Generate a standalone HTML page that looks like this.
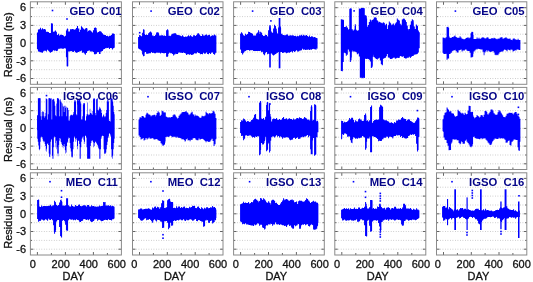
<!DOCTYPE html>
<html><head><meta charset="utf-8"><style>
html,body{margin:0;padding:0;background:#fff;}
svg{display:block;filter:blur(0.35px);}
.n{font-family:"Liberation Sans",sans-serif;font-size:11px;fill:#111;stroke:#111;stroke-width:0.3px;}
.t{font-family:"Liberation Sans",sans-serif;font-size:11.3px;font-weight:bold;fill:#050588;}
</style></head><body>
<svg width="533" height="282" viewBox="0 0 533 282">
<line x1="31.4" y1="78.5" x2="120.4" y2="78.5" stroke="#b4b4b4" stroke-width="0.8" stroke-dasharray="0.8 1.7"/>
<line x1="31.4" y1="69.7" x2="120.4" y2="69.7" stroke="#b4b4b4" stroke-width="0.8" stroke-dasharray="0.8 1.7"/>
<line x1="31.4" y1="60.8" x2="120.4" y2="60.8" stroke="#b4b4b4" stroke-width="0.8" stroke-dasharray="0.8 1.7"/>
<line x1="31.4" y1="52.0" x2="120.4" y2="52.0" stroke="#b4b4b4" stroke-width="0.8" stroke-dasharray="0.8 1.7"/>
<line x1="31.4" y1="43.1" x2="120.4" y2="43.1" stroke="#b4b4b4" stroke-width="0.8" stroke-dasharray="0.8 1.7"/>
<line x1="31.4" y1="34.2" x2="120.4" y2="34.2" stroke="#b4b4b4" stroke-width="0.8" stroke-dasharray="0.8 1.7"/>
<line x1="31.4" y1="25.4" x2="120.4" y2="25.4" stroke="#b4b4b4" stroke-width="0.8" stroke-dasharray="0.8 1.7"/>
<line x1="31.4" y1="16.6" x2="120.4" y2="16.6" stroke="#b4b4b4" stroke-width="0.8" stroke-dasharray="0.8 1.7"/>
<line x1="31.4" y1="7.7" x2="120.4" y2="7.7" stroke="#b4b4b4" stroke-width="0.8" stroke-dasharray="0.8 1.7"/>
<path d="M36.94,35.87 L36.94,32.39 L37.94,32.39 L37.94,29.50 L38.94,29.50 L38.94,29.17 L39.94,29.17 L39.94,27.68 L40.94,27.68 L40.94,29.79 L41.94,29.79 L41.94,28.31 L42.94,28.31 L42.94,29.23 L43.94,29.23 L43.94,29.06 L44.94,29.06 L44.94,29.47 L45.94,29.47 L45.94,31.70 L46.94,31.70 L46.94,31.82 L47.94,31.82 L47.94,32.06 L48.94,32.06 L48.94,32.93 L49.94,32.93 L49.94,32.91 L50.94,32.91 L50.94,23.21 L51.94,23.21 L51.94,23.40 L52.94,23.40 L52.94,31.65 L53.94,31.65 L53.94,31.61 L54.94,31.61 L54.94,30.54 L55.94,30.54 L55.94,32.42 L56.94,32.42 L56.94,35.37 L57.94,35.37 L57.94,33.81 L58.94,33.81 L58.94,35.70 L59.94,35.70 L59.94,34.83 L60.94,34.83 L60.94,34.77 L61.94,34.77 L61.94,34.92 L62.94,34.92 L62.94,35.50 L63.94,35.50 L63.94,36.71 L64.94,36.71 L64.94,35.64 L65.94,35.64 L65.94,30.49 L66.94,30.49 L66.94,28.53 L67.94,28.53 L67.94,31.49 L68.94,31.49 L68.94,31.59 L69.94,31.59 L69.94,29.34 L70.94,29.34 L70.94,29.37 L71.94,29.37 L71.94,29.01 L72.94,29.01 L72.94,29.24 L73.94,29.24 L73.94,29.99 L74.94,29.99 L74.94,29.29 L75.94,29.29 L75.94,28.05 L76.94,28.05 L76.94,26.10 L77.94,26.10 L77.94,28.44 L78.94,28.44 L78.94,31.89 L79.94,31.89 L79.94,29.84 L80.94,29.84 L80.94,26.17 L81.94,26.17 L81.94,27.71 L82.94,27.71 L82.94,28.94 L83.94,28.94 L83.94,29.41 L84.94,29.41 L84.94,28.45 L85.94,28.45 L85.94,27.88 L86.94,27.88 L86.94,31.76 L87.94,31.76 L87.94,30.87 L88.94,30.87 L88.94,30.27 L89.94,30.27 L89.94,31.48 L90.94,31.48 L90.94,31.55 L91.94,31.55 L91.94,32.53 L92.94,32.53 L92.94,30.20 L93.94,30.20 L93.94,28.10 L94.94,28.10 L94.94,27.61 L95.94,27.61 L95.94,30.52 L96.94,30.52 L96.94,33.54 L97.94,33.54 L97.94,32.12 L98.94,32.12 L98.94,31.36 L99.94,31.36 L99.94,31.16 L100.94,31.16 L100.94,32.39 L101.94,32.39 L101.94,33.26 L102.94,33.26 L102.94,34.65 L103.94,34.65 L103.94,35.33 L104.94,35.33 L104.94,35.09 L105.94,35.09 L105.94,36.23 L106.94,36.23 L106.94,35.78 L107.94,35.78 L107.94,36.44 L108.94,36.44 L108.94,35.71 L109.94,35.71 L109.94,35.80 L110.94,35.80 L110.94,34.90 L111.94,34.90 L111.94,33.52 L112.94,33.52 L112.94,33.52 L113.94,33.52 L113.94,34.08 L114.74,34.08 L114.74,33.74 L114.74,47.77 L114.74,47.23 L113.94,47.23 L113.94,48.35 L112.94,48.35 L112.94,49.53 L111.94,49.53 L111.94,47.95 L110.94,47.95 L110.94,47.92 L109.94,47.92 L109.94,49.00 L108.94,49.00 L108.94,47.67 L107.94,47.67 L107.94,47.94 L106.94,47.94 L106.94,47.68 L105.94,47.68 L105.94,47.94 L104.94,47.94 L104.94,49.04 L103.94,49.04 L103.94,49.30 L102.94,49.30 L102.94,51.01 L101.94,51.01 L101.94,51.61 L100.94,51.61 L100.94,51.72 L99.94,51.72 L99.94,54.06 L98.94,54.06 L98.94,51.88 L97.94,51.88 L97.94,52.18 L96.94,52.18 L96.94,53.02 L95.94,53.02 L95.94,54.30 L94.94,54.30 L94.94,54.19 L93.94,54.19 L93.94,51.94 L92.94,51.94 L92.94,51.62 L91.94,51.62 L91.94,50.80 L90.94,50.80 L90.94,51.40 L89.94,51.40 L89.94,50.59 L88.94,50.59 L88.94,50.22 L87.94,50.22 L87.94,51.20 L86.94,51.20 L86.94,52.09 L85.94,52.09 L85.94,53.95 L84.94,53.95 L84.94,53.43 L83.94,53.43 L83.94,52.43 L82.94,52.43 L82.94,52.66 L81.94,52.66 L81.94,50.40 L80.94,50.40 L80.94,51.18 L79.94,51.18 L79.94,51.43 L78.94,51.43 L78.94,52.04 L77.94,52.04 L77.94,52.41 L76.94,52.41 L76.94,52.72 L75.94,52.72 L75.94,52.29 L74.94,52.29 L74.94,50.28 L73.94,50.28 L73.94,51.93 L72.94,51.93 L72.94,51.64 L71.94,51.64 L71.94,51.05 L70.94,51.05 L70.94,51.15 L69.94,51.15 L69.94,51.53 L68.94,51.53 L68.94,51.38 L67.94,51.38 L67.94,66.60 L66.94,66.60 L66.94,57.30 L65.94,57.30 L65.94,48.48 L64.94,48.48 L64.94,48.27 L63.94,48.27 L63.94,48.63 L62.94,48.63 L62.94,48.67 L61.94,48.67 L61.94,48.38 L60.94,48.38 L60.94,48.38 L59.94,48.38 L59.94,48.47 L58.94,48.47 L58.94,48.72 L57.94,48.72 L57.94,50.73 L56.94,50.73 L56.94,51.07 L55.94,51.07 L55.94,50.61 L54.94,50.61 L54.94,50.64 L53.94,50.64 L53.94,50.14 L52.94,50.14 L52.94,51.62 L51.94,51.62 L51.94,52.03 L50.94,52.03 L50.94,52.86 L49.94,52.86 L49.94,51.66 L48.94,51.66 L48.94,50.86 L47.94,50.86 L47.94,49.82 L46.94,49.82 L46.94,51.47 L45.94,51.47 L45.94,50.81 L44.94,50.81 L44.94,50.73 L43.94,50.73 L43.94,50.84 L42.94,50.84 L42.94,52.76 L41.94,52.76 L41.94,52.34 L40.94,52.34 L40.94,52.29 L39.94,52.29 L39.94,51.85 L38.94,51.85 L38.94,51.53 L37.94,51.53 L37.94,49.02 L36.94,49.02 L36.94,48.10Z M36.94,36.57 L37.59,36.57 L37.59,32.49 L38.89,32.49 L38.89,30.04 L40.20,30.04 L40.20,28.90 L41.34,28.90 L41.34,30.53 L42.48,30.53 L42.48,29.22 L43.46,29.22 L43.46,30.86 L44.60,30.86 L44.60,29.55 L45.74,29.55 L45.74,31.67 L47.05,31.67 L47.05,33.30 L49.50,33.30 L49.50,33.79 L50.96,33.79 L50.96,32.49 L51.29,32.49 L51.29,24.66 L52.60,24.66 L52.60,24.66 L52.92,24.66 L52.92,31.67 L53.90,31.67 L53.90,32.49 L54.88,32.49 L54.88,30.53 L56.02,30.53 L56.02,31.67 L56.84,31.67 L56.84,34.93 L58.47,34.93 L58.47,35.42 L60.91,35.42 L60.91,36.08 L63.36,36.08 L63.36,36.57 L65.81,36.57 L65.81,37.05 L66.62,37.05 L66.62,29.22 L67.60,29.22 L67.60,28.90 L68.26,28.90 L68.26,32.49 L69.56,32.49 L69.56,32.16 L70.70,32.16 L70.70,30.53 L71.84,30.53 L71.84,31.18 L73.15,31.18 L73.15,29.22 L74.45,29.22 L74.45,30.86 L76.09,30.86 L76.09,30.04 L77.06,30.04 L77.06,25.96 L78.04,25.96 L78.04,28.41 L79.35,28.41 L79.35,32.16 L80.49,32.16 L80.49,30.04 L81.30,30.04 L81.30,27.27 L82.61,27.27 L82.61,28.41 L83.75,28.41 L83.75,30.04 L84.89,30.04 L84.89,28.90 L86.20,28.90 L86.20,28.41 L87.50,28.41 L87.50,31.67 L88.65,31.67 L88.65,32.49 L89.79,32.49 L89.79,30.53 L91.09,30.53 L91.09,32.81 L92.40,32.81 L92.40,33.30 L93.54,33.30 L93.54,31.67 L94.68,31.67 L94.68,27.59 L95.99,27.59 L95.99,27.92 L96.64,27.92 L96.64,32.49 L97.94,32.49 L97.94,34.12 L99.25,34.12 L99.25,31.67 L100.55,31.67 L100.55,31.67 L101.70,31.67 L101.70,33.30 L102.84,33.30 L102.84,34.44 L104.14,34.44 L104.14,34.93 L105.77,34.93 L105.77,36.08 L107.40,36.08 L107.40,37.38 L108.71,37.38 L108.71,36.57 L110.01,36.57 L110.01,35.75 L111.48,35.75 L111.48,34.93 L113.11,34.93 L113.11,34.44 L114.74,34.44 L114.74,34.44 L114.74,47.07 L114.74,47.73 L113.11,47.73 L113.11,48.21 L111.48,48.21 L111.48,47.73 L109.85,47.73 L109.85,47.40 L108.22,47.40 L108.22,47.73 L106.59,47.73 L106.59,48.21 L104.96,48.21 L104.96,48.70 L103.33,48.70 L103.33,49.85 L101.70,49.85 L101.70,51.48 L100.55,51.48 L100.55,53.92 L99.57,53.92 L99.57,51.48 L98.43,51.48 L98.43,52.29 L96.80,52.29 L96.80,53.92 L95.99,53.92 L95.99,53.11 L95.17,53.11 L95.17,52.29 L93.54,52.29 L93.54,50.66 L91.91,50.66 L91.91,51.48 L90.28,51.48 L90.28,50.34 L88.65,50.34 L88.65,50.99 L87.01,50.99 L87.01,53.11 L85.87,53.11 L85.87,54.74 L84.89,54.74 L84.89,53.11 L84.24,53.11 L84.24,52.29 L82.94,52.29 L82.94,50.34 L81.30,50.34 L81.30,50.99 L79.67,50.99 L79.67,50.66 L78.04,50.66 L78.04,51.48 L76.41,51.48 L76.41,50.34 L74.78,50.34 L74.78,50.99 L73.15,50.99 L73.15,50.34 L71.52,50.34 L71.52,49.85 L69.56,49.85 L69.56,50.66 L68.26,50.66 L68.26,66.16 L67.93,66.16 L67.93,66.16 L66.62,66.16 L66.62,49.85 L66.30,49.85 L66.30,48.21 L64.99,48.21 L64.99,47.73 L63.36,47.73 L63.36,48.21 L61.73,48.21 L61.73,48.21 L60.10,48.21 L60.10,48.70 L58.47,48.70 L58.47,49.36 L56.84,49.36 L56.84,50.34 L55.21,50.34 L55.21,49.85 L53.57,49.85 L53.57,50.34 L51.94,50.34 L51.94,51.48 L50.31,51.48 L50.31,50.34 L48.68,50.34 L48.68,49.85 L47.05,49.85 L47.05,50.34 L45.42,50.34 L45.42,50.66 L43.79,50.66 L43.79,51.48 L42.48,51.48 L42.48,52.62 L41.34,52.62 L41.34,52.29 L40.20,52.29 L40.20,51.48 L38.89,51.48 L38.89,49.85 L37.59,49.85 L37.59,47.40 L36.94,47.40Z" fill="#0000ff" fill-rule="nonzero"/><rect x="51.70" y="9.70" width="1.60" height="1.60" fill="#0000ff"/><rect x="66.20" y="18.20" width="1.60" height="1.60" fill="#0000ff"/>
<line x1="30.4" y1="78.5" x2="33.4" y2="78.5" stroke="#555" stroke-width="0.9"/>
<line x1="118.4" y1="78.5" x2="121.4" y2="78.5" stroke="#555" stroke-width="0.9"/>
<line x1="30.4" y1="69.7" x2="32.0" y2="69.7" stroke="#555" stroke-width="0.9"/>
<line x1="119.80000000000001" y1="69.7" x2="121.4" y2="69.7" stroke="#555" stroke-width="0.9"/>
<line x1="30.4" y1="60.8" x2="33.4" y2="60.8" stroke="#555" stroke-width="0.9"/>
<line x1="118.4" y1="60.8" x2="121.4" y2="60.8" stroke="#555" stroke-width="0.9"/>
<line x1="30.4" y1="52.0" x2="32.0" y2="52.0" stroke="#555" stroke-width="0.9"/>
<line x1="119.80000000000001" y1="52.0" x2="121.4" y2="52.0" stroke="#555" stroke-width="0.9"/>
<line x1="30.4" y1="43.1" x2="33.4" y2="43.1" stroke="#555" stroke-width="0.9"/>
<line x1="118.4" y1="43.1" x2="121.4" y2="43.1" stroke="#555" stroke-width="0.9"/>
<line x1="30.4" y1="34.2" x2="32.0" y2="34.2" stroke="#555" stroke-width="0.9"/>
<line x1="119.80000000000001" y1="34.2" x2="121.4" y2="34.2" stroke="#555" stroke-width="0.9"/>
<line x1="30.4" y1="25.4" x2="33.4" y2="25.4" stroke="#555" stroke-width="0.9"/>
<line x1="118.4" y1="25.4" x2="121.4" y2="25.4" stroke="#555" stroke-width="0.9"/>
<line x1="30.4" y1="16.6" x2="32.0" y2="16.6" stroke="#555" stroke-width="0.9"/>
<line x1="119.80000000000001" y1="16.6" x2="121.4" y2="16.6" stroke="#555" stroke-width="0.9"/>
<line x1="30.4" y1="7.7" x2="33.4" y2="7.7" stroke="#555" stroke-width="0.9"/>
<line x1="118.4" y1="7.7" x2="121.4" y2="7.7" stroke="#555" stroke-width="0.9"/>
<line x1="37.4" y1="84.3" x2="37.4" y2="81.3" stroke="#555" stroke-width="0.9"/>
<line x1="37.4" y1="1.8" x2="37.4" y2="4.8" stroke="#555" stroke-width="0.9"/>
<line x1="51.4" y1="84.3" x2="51.4" y2="82.3" stroke="#555" stroke-width="0.9"/>
<line x1="51.4" y1="1.8" x2="51.4" y2="3.8" stroke="#555" stroke-width="0.9"/>
<line x1="65.4" y1="84.3" x2="65.4" y2="81.3" stroke="#555" stroke-width="0.9"/>
<line x1="65.4" y1="1.8" x2="65.4" y2="4.8" stroke="#555" stroke-width="0.9"/>
<line x1="79.4" y1="84.3" x2="79.4" y2="82.3" stroke="#555" stroke-width="0.9"/>
<line x1="79.4" y1="1.8" x2="79.4" y2="3.8" stroke="#555" stroke-width="0.9"/>
<line x1="93.4" y1="84.3" x2="93.4" y2="81.3" stroke="#555" stroke-width="0.9"/>
<line x1="93.4" y1="1.8" x2="93.4" y2="4.8" stroke="#555" stroke-width="0.9"/>
<line x1="107.4" y1="84.3" x2="107.4" y2="82.3" stroke="#555" stroke-width="0.9"/>
<line x1="107.4" y1="1.8" x2="107.4" y2="3.8" stroke="#555" stroke-width="0.9"/>
<rect x="30.4" y="1.8" width="91.0" height="82.5" fill="none" stroke="#8a8a8a" stroke-width="1"/>
<text x="69.4" y="14.7" class="t">GEO &#160;C01</text>
<line x1="133.5" y1="78.5" x2="222.0" y2="78.5" stroke="#b4b4b4" stroke-width="0.8" stroke-dasharray="0.8 1.7"/>
<line x1="133.5" y1="69.7" x2="222.0" y2="69.7" stroke="#b4b4b4" stroke-width="0.8" stroke-dasharray="0.8 1.7"/>
<line x1="133.5" y1="60.8" x2="222.0" y2="60.8" stroke="#b4b4b4" stroke-width="0.8" stroke-dasharray="0.8 1.7"/>
<line x1="133.5" y1="52.0" x2="222.0" y2="52.0" stroke="#b4b4b4" stroke-width="0.8" stroke-dasharray="0.8 1.7"/>
<line x1="133.5" y1="43.1" x2="222.0" y2="43.1" stroke="#b4b4b4" stroke-width="0.8" stroke-dasharray="0.8 1.7"/>
<line x1="133.5" y1="34.2" x2="222.0" y2="34.2" stroke="#b4b4b4" stroke-width="0.8" stroke-dasharray="0.8 1.7"/>
<line x1="133.5" y1="25.4" x2="222.0" y2="25.4" stroke="#b4b4b4" stroke-width="0.8" stroke-dasharray="0.8 1.7"/>
<line x1="133.5" y1="16.6" x2="222.0" y2="16.6" stroke="#b4b4b4" stroke-width="0.8" stroke-dasharray="0.8 1.7"/>
<line x1="133.5" y1="7.7" x2="222.0" y2="7.7" stroke="#b4b4b4" stroke-width="0.8" stroke-dasharray="0.8 1.7"/>
<path d="M138.08,37.94 L138.08,37.03 L139.08,37.03 L139.08,35.02 L140.08,35.02 L140.08,35.55 L141.08,35.55 L141.08,36.45 L142.08,36.45 L142.08,32.85 L143.08,32.85 L143.08,29.36 L144.08,29.36 L144.08,33.91 L145.08,33.91 L145.08,34.90 L146.08,34.90 L146.08,34.59 L147.08,34.59 L147.08,35.10 L148.08,35.10 L148.08,33.28 L149.08,33.28 L149.08,32.30 L150.08,32.30 L150.08,31.40 L151.08,31.40 L151.08,32.81 L152.08,32.81 L152.08,35.62 L153.08,35.62 L153.08,36.47 L154.08,36.47 L154.08,35.90 L155.08,35.90 L155.08,34.69 L156.08,34.69 L156.08,32.38 L157.08,32.38 L157.08,32.22 L158.08,32.22 L158.08,33.38 L159.08,33.38 L159.08,35.40 L160.08,35.40 L160.08,35.54 L161.08,35.54 L161.08,35.13 L162.08,35.13 L162.08,35.26 L163.08,35.26 L163.08,35.80 L164.08,35.80 L164.08,35.42 L165.08,35.42 L165.08,35.96 L166.08,35.96 L166.08,30.37 L167.08,30.37 L167.08,29.36 L168.08,29.36 L168.08,35.85 L169.08,35.85 L169.08,36.21 L170.08,36.21 L170.08,36.38 L171.08,36.38 L171.08,34.61 L172.08,34.61 L172.08,33.72 L173.08,33.72 L173.08,33.43 L174.08,33.43 L174.08,33.26 L175.08,33.26 L175.08,33.27 L176.08,33.27 L176.08,34.41 L177.08,34.41 L177.08,35.30 L178.08,35.30 L178.08,35.58 L179.08,35.58 L179.08,35.18 L180.08,35.18 L180.08,35.83 L181.08,35.83 L181.08,36.42 L182.08,36.42 L182.08,35.25 L183.08,35.25 L183.08,36.60 L184.08,36.60 L184.08,36.97 L185.08,36.97 L185.08,36.59 L186.08,36.59 L186.08,36.73 L187.08,36.73 L187.08,36.16 L188.08,36.16 L188.08,35.36 L189.08,35.36 L189.08,36.28 L190.08,36.28 L190.08,35.25 L191.08,35.25 L191.08,36.49 L192.08,36.49 L192.08,36.73 L193.08,36.73 L193.08,35.29 L194.08,35.29 L194.08,35.30 L195.08,35.30 L195.08,36.10 L196.08,36.10 L196.08,34.96 L197.08,34.96 L197.08,33.46 L198.08,33.46 L198.08,33.32 L199.08,33.32 L199.08,34.41 L200.08,34.41 L200.08,36.22 L201.08,36.22 L201.08,35.90 L202.08,35.90 L202.08,34.29 L203.08,34.29 L203.08,35.45 L204.08,35.45 L204.08,35.55 L205.08,35.55 L205.08,34.71 L206.08,34.71 L206.08,34.62 L207.08,34.62 L207.08,35.65 L208.08,35.65 L208.08,35.11 L209.08,35.11 L209.08,34.85 L210.08,34.85 L210.08,36.46 L211.08,36.46 L211.08,35.80 L212.08,35.80 L212.08,35.35 L213.08,35.35 L213.08,35.47 L214.08,35.47 L214.08,34.38 L215.08,34.38 L215.08,36.16 L216.08,36.16 L216.08,37.46 L216.38,37.46 L216.38,37.13 L216.38,48.55 L216.38,49.30 L216.08,49.30 L216.08,52.66 L215.08,52.66 L215.08,54.75 L214.08,54.75 L214.08,54.07 L213.08,54.07 L213.08,52.60 L212.08,52.60 L212.08,52.42 L211.08,52.42 L211.08,53.98 L210.08,53.98 L210.08,52.88 L209.08,52.88 L209.08,54.37 L208.08,54.37 L208.08,53.88 L207.08,53.88 L207.08,51.92 L206.08,51.92 L206.08,53.45 L205.08,53.45 L205.08,53.87 L204.08,53.87 L204.08,52.75 L203.08,52.75 L203.08,54.23 L202.08,54.23 L202.08,54.07 L201.08,54.07 L201.08,54.34 L200.08,54.34 L200.08,53.16 L199.08,53.16 L199.08,52.99 L198.08,52.99 L198.08,52.16 L197.08,52.16 L197.08,52.73 L196.08,52.73 L196.08,53.09 L195.08,53.09 L195.08,53.23 L194.08,53.23 L194.08,54.14 L193.08,54.14 L193.08,54.81 L192.08,54.81 L192.08,54.90 L191.08,54.90 L191.08,54.26 L190.08,54.26 L190.08,54.79 L189.08,54.79 L189.08,54.23 L188.08,54.23 L188.08,54.37 L187.08,54.37 L187.08,54.92 L186.08,54.92 L186.08,53.49 L185.08,53.49 L185.08,53.10 L184.08,53.10 L184.08,52.53 L183.08,52.53 L183.08,53.01 L182.08,53.01 L182.08,52.65 L181.08,52.65 L181.08,52.64 L180.08,52.64 L180.08,52.39 L179.08,52.39 L179.08,51.98 L178.08,51.98 L178.08,53.91 L177.08,53.91 L177.08,53.96 L176.08,53.96 L176.08,53.58 L175.08,53.58 L175.08,54.47 L174.08,54.47 L174.08,55.42 L173.08,55.42 L173.08,53.93 L172.08,53.93 L172.08,53.25 L171.08,53.25 L171.08,53.21 L170.08,53.21 L170.08,51.99 L169.08,51.99 L169.08,53.85 L168.08,53.85 L168.08,56.81 L167.08,56.81 L167.08,56.74 L166.08,56.74 L166.08,53.01 L165.08,53.01 L165.08,53.14 L164.08,53.14 L164.08,53.15 L163.08,53.15 L163.08,52.96 L162.08,52.96 L162.08,52.71 L161.08,52.71 L161.08,53.46 L160.08,53.46 L160.08,51.89 L159.08,51.89 L159.08,52.75 L158.08,52.75 L158.08,52.87 L157.08,52.87 L157.08,51.79 L156.08,51.79 L156.08,53.30 L155.08,53.30 L155.08,53.19 L154.08,53.19 L154.08,52.63 L153.08,52.63 L153.08,52.96 L152.08,52.96 L152.08,51.83 L151.08,51.83 L151.08,53.30 L150.08,53.30 L150.08,53.16 L149.08,53.16 L149.08,53.46 L148.08,53.46 L148.08,53.68 L147.08,53.68 L147.08,53.79 L146.08,53.79 L146.08,51.89 L145.08,51.89 L145.08,52.59 L144.08,52.59 L144.08,56.22 L143.08,56.22 L143.08,54.51 L142.08,54.51 L142.08,50.71 L141.08,50.71 L141.08,49.82 L140.08,49.82 L140.08,49.21 L139.08,49.21 L139.08,48.47 L138.08,48.47 L138.08,48.55Z M138.08,38.64 L138.89,38.64 L138.89,37.01 L140.52,37.01 L140.52,36.20 L142.16,36.20 L142.16,36.20 L142.97,36.20 L142.97,29.67 L144.11,29.67 L144.11,29.67 L144.60,29.67 L144.60,35.38 L146.23,35.38 L146.23,36.20 L147.87,36.20 L147.87,35.05 L149.50,35.05 L149.50,32.44 L151.13,32.44 L151.13,32.44 L151.94,32.44 L151.94,35.38 L153.57,35.38 L153.57,36.20 L155.21,36.20 L155.21,35.71 L156.51,35.71 L156.51,32.44 L158.14,32.44 L158.14,32.44 L158.79,32.44 L158.79,35.71 L160.91,35.71 L160.91,36.69 L163.36,36.69 L163.36,37.01 L165.81,37.01 L165.81,36.20 L166.30,36.20 L166.30,30.16 L167.93,30.16 L167.93,30.16 L168.58,30.16 L168.58,35.71 L170.70,35.71 L170.70,36.20 L172.33,36.20 L172.33,35.05 L173.96,35.05 L173.96,34.57 L175.60,34.57 L175.60,34.57 L177.23,34.57 L177.23,35.05 L178.86,35.05 L178.86,35.71 L180.49,35.71 L180.49,36.20 L182.12,36.20 L182.12,36.69 L183.75,36.69 L183.75,37.01 L185.38,37.01 L185.38,36.69 L187.01,36.69 L187.01,37.01 L188.65,37.01 L188.65,36.69 L190.28,36.69 L190.28,36.20 L191.91,36.20 L191.91,36.69 L193.54,36.69 L193.54,36.20 L195.17,36.20 L195.17,36.20 L196.80,36.20 L196.80,35.05 L198.43,35.05 L198.43,34.57 L199.25,34.57 L199.25,35.71 L200.88,35.71 L200.88,36.20 L202.51,36.20 L202.51,35.71 L204.14,35.71 L204.14,35.38 L205.77,35.38 L205.77,35.05 L207.40,35.05 L207.40,36.20 L209.04,36.20 L209.04,36.69 L210.67,36.69 L210.67,36.20 L212.30,36.20 L212.30,36.20 L213.93,36.20 L213.93,35.05 L215.23,35.05 L215.23,35.38 L216.38,35.38 L216.38,37.83 L216.38,47.85 L216.38,52.74 L215.56,52.74 L215.56,53.56 L214.74,53.56 L214.74,51.92 L213.11,51.92 L213.11,51.92 L211.48,51.92 L211.48,52.74 L209.85,52.74 L209.85,52.74 L208.22,52.74 L208.22,51.92 L206.59,51.92 L206.59,52.74 L204.96,52.74 L204.96,52.74 L203.33,52.74 L203.33,52.74 L201.70,52.74 L201.70,53.56 L200.06,53.56 L200.06,52.74 L198.43,52.74 L198.43,51.92 L196.80,51.92 L196.80,53.56 L195.17,53.56 L195.17,52.74 L193.54,52.74 L193.54,53.56 L191.91,53.56 L191.91,54.86 L191.09,54.86 L191.09,53.56 L190.28,53.56 L190.28,52.74 L188.65,52.74 L188.65,53.56 L187.01,53.56 L187.01,52.74 L185.38,52.74 L185.38,51.92 L183.75,51.92 L183.75,51.92 L182.12,51.92 L182.12,51.92 L180.49,51.92 L180.49,51.11 L178.86,51.11 L178.86,52.74 L177.23,52.74 L177.23,52.74 L175.60,52.74 L175.60,54.37 L173.96,54.37 L173.96,53.56 L172.33,53.56 L172.33,51.92 L169.89,51.92 L169.89,52.74 L168.26,52.74 L168.26,56.00 L167.60,56.00 L167.60,56.00 L166.30,56.00 L166.30,52.74 L165.81,52.74 L165.81,51.92 L163.36,51.92 L163.36,52.74 L161.73,52.74 L161.73,51.92 L160.10,51.92 L160.10,52.74 L158.47,52.74 L158.47,51.92 L156.84,51.92 L156.84,52.74 L155.21,52.74 L155.21,51.92 L153.57,51.92 L153.57,51.11 L151.94,51.11 L151.94,51.92 L150.31,51.92 L150.31,52.74 L148.68,52.74 L148.68,53.56 L147.87,53.56 L147.87,51.92 L146.23,51.92 L146.23,51.92 L144.60,51.92 L144.60,56.00 L143.79,56.00 L143.79,56.00 L142.97,56.00 L142.97,51.11 L142.16,51.11 L142.16,49.48 L140.52,49.48 L140.52,48.66 L138.89,48.66 L138.89,47.85 L138.08,47.85Z" fill="#0000ff" fill-rule="nonzero"/><rect x="138.90" y="31.90" width="1.60" height="1.60" fill="#0000ff"/><rect x="150.30" y="10.30" width="1.60" height="1.60" fill="#0000ff"/>
<line x1="132.5" y1="78.5" x2="135.5" y2="78.5" stroke="#555" stroke-width="0.9"/>
<line x1="220.0" y1="78.5" x2="223.0" y2="78.5" stroke="#555" stroke-width="0.9"/>
<line x1="132.5" y1="69.7" x2="134.1" y2="69.7" stroke="#555" stroke-width="0.9"/>
<line x1="221.4" y1="69.7" x2="223.0" y2="69.7" stroke="#555" stroke-width="0.9"/>
<line x1="132.5" y1="60.8" x2="135.5" y2="60.8" stroke="#555" stroke-width="0.9"/>
<line x1="220.0" y1="60.8" x2="223.0" y2="60.8" stroke="#555" stroke-width="0.9"/>
<line x1="132.5" y1="52.0" x2="134.1" y2="52.0" stroke="#555" stroke-width="0.9"/>
<line x1="221.4" y1="52.0" x2="223.0" y2="52.0" stroke="#555" stroke-width="0.9"/>
<line x1="132.5" y1="43.1" x2="135.5" y2="43.1" stroke="#555" stroke-width="0.9"/>
<line x1="220.0" y1="43.1" x2="223.0" y2="43.1" stroke="#555" stroke-width="0.9"/>
<line x1="132.5" y1="34.2" x2="134.1" y2="34.2" stroke="#555" stroke-width="0.9"/>
<line x1="221.4" y1="34.2" x2="223.0" y2="34.2" stroke="#555" stroke-width="0.9"/>
<line x1="132.5" y1="25.4" x2="135.5" y2="25.4" stroke="#555" stroke-width="0.9"/>
<line x1="220.0" y1="25.4" x2="223.0" y2="25.4" stroke="#555" stroke-width="0.9"/>
<line x1="132.5" y1="16.6" x2="134.1" y2="16.6" stroke="#555" stroke-width="0.9"/>
<line x1="221.4" y1="16.6" x2="223.0" y2="16.6" stroke="#555" stroke-width="0.9"/>
<line x1="132.5" y1="7.7" x2="135.5" y2="7.7" stroke="#555" stroke-width="0.9"/>
<line x1="220.0" y1="7.7" x2="223.0" y2="7.7" stroke="#555" stroke-width="0.9"/>
<line x1="139.5" y1="84.3" x2="139.5" y2="81.3" stroke="#555" stroke-width="0.9"/>
<line x1="139.5" y1="1.8" x2="139.5" y2="4.8" stroke="#555" stroke-width="0.9"/>
<line x1="153.4" y1="84.3" x2="153.4" y2="82.3" stroke="#555" stroke-width="0.9"/>
<line x1="153.4" y1="1.8" x2="153.4" y2="3.8" stroke="#555" stroke-width="0.9"/>
<line x1="167.3" y1="84.3" x2="167.3" y2="81.3" stroke="#555" stroke-width="0.9"/>
<line x1="167.3" y1="1.8" x2="167.3" y2="4.8" stroke="#555" stroke-width="0.9"/>
<line x1="181.2" y1="84.3" x2="181.2" y2="82.3" stroke="#555" stroke-width="0.9"/>
<line x1="181.2" y1="1.8" x2="181.2" y2="3.8" stroke="#555" stroke-width="0.9"/>
<line x1="195.2" y1="84.3" x2="195.2" y2="81.3" stroke="#555" stroke-width="0.9"/>
<line x1="195.2" y1="1.8" x2="195.2" y2="4.8" stroke="#555" stroke-width="0.9"/>
<line x1="209.1" y1="84.3" x2="209.1" y2="82.3" stroke="#555" stroke-width="0.9"/>
<line x1="209.1" y1="1.8" x2="209.1" y2="3.8" stroke="#555" stroke-width="0.9"/>
<rect x="132.5" y="1.8" width="90.5" height="82.5" fill="none" stroke="#8a8a8a" stroke-width="1"/>
<text x="167.8" y="14.7" class="t">GEO &#160;C02</text>
<line x1="234.6" y1="78.5" x2="323.3" y2="78.5" stroke="#b4b4b4" stroke-width="0.8" stroke-dasharray="0.8 1.7"/>
<line x1="234.6" y1="69.7" x2="323.3" y2="69.7" stroke="#b4b4b4" stroke-width="0.8" stroke-dasharray="0.8 1.7"/>
<line x1="234.6" y1="60.8" x2="323.3" y2="60.8" stroke="#b4b4b4" stroke-width="0.8" stroke-dasharray="0.8 1.7"/>
<line x1="234.6" y1="52.0" x2="323.3" y2="52.0" stroke="#b4b4b4" stroke-width="0.8" stroke-dasharray="0.8 1.7"/>
<line x1="234.6" y1="43.1" x2="323.3" y2="43.1" stroke="#b4b4b4" stroke-width="0.8" stroke-dasharray="0.8 1.7"/>
<line x1="234.6" y1="34.2" x2="323.3" y2="34.2" stroke="#b4b4b4" stroke-width="0.8" stroke-dasharray="0.8 1.7"/>
<line x1="234.6" y1="25.4" x2="323.3" y2="25.4" stroke="#b4b4b4" stroke-width="0.8" stroke-dasharray="0.8 1.7"/>
<line x1="234.6" y1="16.6" x2="323.3" y2="16.6" stroke="#b4b4b4" stroke-width="0.8" stroke-dasharray="0.8 1.7"/>
<line x1="234.6" y1="7.7" x2="323.3" y2="7.7" stroke="#b4b4b4" stroke-width="0.8" stroke-dasharray="0.8 1.7"/>
<path d="M240.08,36.31 L240.08,33.84 L241.08,33.84 L241.08,32.17 L242.08,32.17 L242.08,33.73 L243.08,33.73 L243.08,35.13 L244.08,35.13 L244.08,35.73 L245.08,35.73 L245.08,33.82 L246.08,33.82 L246.08,34.63 L247.08,34.63 L247.08,33.92 L248.08,33.92 L248.08,31.66 L249.08,31.66 L249.08,31.98 L250.08,31.98 L250.08,32.84 L251.08,32.84 L251.08,33.24 L252.08,33.24 L252.08,33.86 L253.08,33.86 L253.08,35.90 L254.08,35.90 L254.08,35.46 L255.08,35.46 L255.08,35.62 L256.08,35.62 L256.08,33.39 L257.08,33.39 L257.08,32.61 L258.08,32.61 L258.08,30.17 L259.08,30.17 L259.08,34.00 L260.08,34.00 L260.08,31.71 L261.08,31.71 L261.08,32.77 L262.08,32.77 L262.08,35.10 L263.08,35.10 L263.08,36.12 L264.08,36.12 L264.08,35.65 L265.08,35.65 L265.08,34.83 L266.08,34.83 L266.08,34.92 L267.08,34.92 L267.08,36.76 L268.08,36.76 L268.08,30.28 L269.08,30.28 L269.08,27.25 L270.08,27.25 L270.08,28.50 L271.08,28.50 L271.08,32.15 L272.08,32.15 L272.08,32.70 L273.08,32.70 L273.08,28.52 L274.08,28.52 L274.08,24.65 L275.08,24.65 L275.08,27.64 L276.08,27.64 L276.08,31.49 L277.08,31.49 L277.08,33.95 L278.08,33.95 L278.08,27.57 L279.08,27.57 L279.08,26.42 L280.08,26.42 L280.08,27.98 L281.08,27.98 L281.08,34.64 L282.08,34.64 L282.08,34.94 L283.08,34.94 L283.08,35.01 L284.08,35.01 L284.08,35.33 L285.08,35.33 L285.08,35.35 L286.08,35.35 L286.08,34.55 L287.08,34.55 L287.08,34.57 L288.08,34.57 L288.08,35.66 L289.08,35.66 L289.08,35.39 L290.08,35.39 L290.08,35.35 L291.08,35.35 L291.08,35.61 L292.08,35.61 L292.08,35.19 L293.08,35.19 L293.08,35.49 L294.08,35.49 L294.08,35.91 L295.08,35.91 L295.08,35.75 L296.08,35.75 L296.08,36.55 L297.08,36.55 L297.08,35.81 L298.08,35.81 L298.08,36.19 L299.08,36.19 L299.08,35.35 L300.08,35.35 L300.08,35.39 L301.08,35.39 L301.08,34.70 L302.08,34.70 L302.08,35.66 L303.08,35.66 L303.08,34.78 L304.08,34.78 L304.08,35.49 L305.08,35.49 L305.08,35.43 L306.08,35.43 L306.08,35.01 L307.08,35.01 L307.08,35.88 L308.08,35.88 L308.08,37.02 L309.08,37.02 L309.08,35.52 L310.08,35.52 L310.08,36.95 L311.08,36.95 L311.08,36.28 L312.08,36.28 L312.08,36.61 L313.08,36.61 L313.08,37.58 L314.08,37.58 L314.08,37.00 L315.08,37.00 L315.08,37.53 L316.08,37.53 L316.08,38.12 L317.08,38.12 L317.08,38.86 L317.56,38.86 L317.56,37.94 L317.56,47.73 L317.56,48.64 L317.08,48.64 L317.08,47.92 L316.08,47.92 L316.08,49.43 L315.08,49.43 L315.08,49.28 L314.08,49.28 L314.08,48.78 L313.08,48.78 L313.08,48.97 L312.08,48.97 L312.08,49.69 L311.08,49.69 L311.08,49.47 L310.08,49.47 L310.08,49.95 L309.08,49.95 L309.08,49.53 L308.08,49.53 L308.08,49.81 L307.08,49.81 L307.08,49.72 L306.08,49.72 L306.08,49.98 L305.08,49.98 L305.08,49.52 L304.08,49.52 L304.08,49.71 L303.08,49.71 L303.08,48.74 L302.08,48.74 L302.08,50.23 L301.08,50.23 L301.08,50.57 L300.08,50.57 L300.08,50.69 L299.08,50.69 L299.08,51.50 L298.08,51.50 L298.08,51.58 L297.08,51.58 L297.08,50.08 L296.08,50.08 L296.08,51.28 L295.08,51.28 L295.08,51.92 L294.08,51.92 L294.08,51.01 L293.08,51.01 L293.08,52.38 L292.08,52.38 L292.08,51.39 L291.08,51.39 L291.08,52.06 L290.08,52.06 L290.08,52.74 L289.08,52.74 L289.08,52.46 L288.08,52.46 L288.08,52.84 L287.08,52.84 L287.08,53.13 L286.08,53.13 L286.08,52.60 L285.08,52.60 L285.08,52.21 L284.08,52.21 L284.08,51.82 L283.08,51.82 L283.08,52.96 L282.08,52.96 L282.08,52.03 L281.08,52.03 L281.08,51.71 L280.08,51.71 L280.08,52.42 L279.08,52.42 L279.08,51.80 L278.08,51.80 L278.08,52.47 L277.08,52.47 L277.08,52.55 L276.08,52.55 L276.08,54.05 L275.08,54.05 L275.08,54.11 L274.08,54.11 L274.08,55.52 L273.08,55.52 L273.08,54.77 L272.08,54.77 L272.08,53.51 L271.08,53.51 L271.08,53.26 L270.08,53.26 L270.08,53.97 L269.08,53.97 L269.08,53.83 L268.08,53.83 L268.08,54.14 L267.08,54.14 L267.08,52.11 L266.08,52.11 L266.08,52.72 L265.08,52.72 L265.08,55.14 L264.08,55.14 L264.08,54.21 L263.08,54.21 L263.08,51.81 L262.08,51.81 L262.08,52.22 L261.08,52.22 L261.08,50.81 L260.08,50.81 L260.08,51.06 L259.08,51.06 L259.08,50.71 L258.08,50.71 L258.08,51.11 L257.08,51.11 L257.08,50.93 L256.08,50.93 L256.08,51.01 L255.08,51.01 L255.08,51.11 L254.08,51.11 L254.08,51.04 L253.08,51.04 L253.08,50.03 L252.08,50.03 L252.08,50.17 L251.08,50.17 L251.08,50.15 L250.08,50.15 L250.08,50.82 L249.08,50.82 L249.08,49.46 L248.08,49.46 L248.08,49.88 L247.08,49.88 L247.08,49.94 L246.08,49.94 L246.08,50.79 L245.08,50.79 L245.08,51.41 L244.08,51.41 L244.08,52.66 L243.08,52.66 L243.08,54.56 L242.08,54.56 L242.08,53.03 L241.08,53.03 L241.08,49.42 L240.08,49.42 L240.08,47.73Z M240.08,37.01 L240.89,37.01 L240.89,32.93 L242.20,32.93 L242.20,33.42 L242.85,33.42 L242.85,36.20 L244.16,36.20 L244.16,36.20 L245.79,36.20 L245.79,35.38 L247.42,35.38 L247.42,35.05 L248.23,35.05 L248.23,33.42 L249.87,33.42 L249.87,32.93 L251.50,32.93 L251.50,33.75 L252.31,33.75 L252.31,35.38 L253.94,35.38 L253.94,35.71 L255.57,35.71 L255.57,35.38 L257.21,35.38 L257.21,34.57 L258.51,34.57 L258.51,31.79 L259.16,31.79 L259.16,31.79 L259.65,31.79 L259.65,34.57 L260.47,34.57 L260.47,32.93 L261.28,32.93 L261.28,32.44 L261.77,32.44 L261.77,35.38 L262.91,35.38 L262.91,36.20 L264.55,36.20 L264.55,35.71 L266.18,35.71 L266.18,36.20 L267.81,36.20 L267.81,36.69 L268.62,36.69 L268.62,30.49 L269.44,30.49 L269.44,27.55 L270.26,27.55 L270.26,27.55 L270.74,27.55 L270.74,31.30 L271.56,31.30 L271.56,33.75 L272.70,33.75 L272.70,32.93 L273.52,32.93 L273.52,29.67 L274.17,29.67 L274.17,26.41 L275.15,26.41 L275.15,25.92 L275.96,25.92 L275.96,28.86 L276.78,28.86 L276.78,32.93 L277.60,32.93 L277.60,34.08 L278.41,34.08 L278.41,30.49 L278.90,30.49 L278.90,26.41 L280.37,26.41 L280.37,26.41 L280.86,26.41 L280.86,33.75 L282.49,33.75 L282.49,35.71 L284.12,35.71 L284.12,36.20 L284.94,36.20 L284.94,35.71 L285.75,35.71 L285.75,35.05 L286.57,35.05 L286.57,35.71 L288.20,35.71 L288.20,36.20 L289.83,36.20 L289.83,36.69 L291.46,36.69 L291.46,37.01 L293.09,37.01 L293.09,36.69 L294.72,36.69 L294.72,37.01 L296.35,37.01 L296.35,36.69 L297.99,36.69 L297.99,37.01 L299.62,37.01 L299.62,36.69 L301.25,36.69 L301.25,36.20 L302.88,36.20 L302.88,37.01 L304.51,37.01 L304.51,35.71 L306.14,35.71 L306.14,36.20 L307.77,36.20 L307.77,36.69 L309.40,36.69 L309.40,37.01 L311.04,37.01 L311.04,37.01 L312.67,37.01 L312.67,37.34 L314.30,37.34 L314.30,37.83 L315.93,37.83 L315.93,38.32 L317.56,38.32 L317.56,38.64 L317.56,47.03 L317.56,47.85 L316.74,47.85 L316.74,49.48 L315.11,49.48 L315.11,48.99 L313.48,48.99 L313.48,48.66 L311.85,48.66 L311.85,48.34 L310.22,48.34 L310.22,48.66 L308.59,48.66 L308.59,48.34 L306.96,48.34 L306.96,48.66 L305.33,48.66 L305.33,48.99 L303.70,48.99 L303.70,48.66 L302.06,48.66 L302.06,49.48 L300.43,49.48 L300.43,49.97 L298.80,49.97 L298.80,50.29 L297.17,50.29 L297.17,50.29 L295.54,50.29 L295.54,51.11 L293.91,51.11 L293.91,50.62 L292.28,50.62 L292.28,51.60 L290.65,51.60 L290.65,51.11 L289.01,51.11 L289.01,51.92 L287.38,51.92 L287.38,51.92 L285.75,51.92 L285.75,51.11 L284.12,51.11 L284.12,52.74 L282.49,52.74 L282.49,51.92 L280.86,51.92 L280.86,51.92 L278.09,51.92 L278.09,52.74 L276.78,52.74 L276.78,53.56 L275.15,53.56 L275.15,54.86 L273.52,54.86 L273.52,54.37 L272.70,54.37 L272.70,52.74 L271.89,52.74 L271.89,53.56 L271.07,53.56 L271.07,53.56 L268.62,53.56 L268.62,51.92 L266.99,51.92 L266.99,51.92 L265.36,51.92 L265.36,53.56 L264.55,53.56 L264.55,52.74 L263.73,52.74 L263.73,51.11 L262.10,51.11 L262.10,51.92 L261.28,51.92 L261.28,50.62 L260.47,50.62 L260.47,50.29 L258.84,50.29 L258.84,51.11 L257.21,51.11 L257.21,49.97 L255.57,49.97 L255.57,49.48 L253.94,49.48 L253.94,50.29 L252.31,50.29 L252.31,49.97 L250.68,49.97 L250.68,49.48 L249.05,49.48 L249.05,49.97 L247.42,49.97 L247.42,50.29 L245.79,50.29 L245.79,51.11 L244.16,51.11 L244.16,51.92 L243.34,51.92 L243.34,53.56 L242.52,53.56 L242.52,51.92 L241.71,51.92 L241.71,50.29 L240.89,50.29 L240.89,47.03 L240.08,47.03Z" fill="#0000ff" fill-rule="nonzero"/><rect x="269.20" y="25.30" width="1.60" height="42.20" fill="#0000ff"/><rect x="278.70" y="18.00" width="1.70" height="50.30" fill="#0000ff"/><rect x="251.80" y="10.30" width="1.60" height="1.60" fill="#0000ff"/><rect x="270.10" y="20.10" width="1.60" height="1.60" fill="#0000ff"/>
<line x1="233.6" y1="78.5" x2="236.6" y2="78.5" stroke="#555" stroke-width="0.9"/>
<line x1="321.3" y1="78.5" x2="324.3" y2="78.5" stroke="#555" stroke-width="0.9"/>
<line x1="233.6" y1="69.7" x2="235.2" y2="69.7" stroke="#555" stroke-width="0.9"/>
<line x1="322.7" y1="69.7" x2="324.3" y2="69.7" stroke="#555" stroke-width="0.9"/>
<line x1="233.6" y1="60.8" x2="236.6" y2="60.8" stroke="#555" stroke-width="0.9"/>
<line x1="321.3" y1="60.8" x2="324.3" y2="60.8" stroke="#555" stroke-width="0.9"/>
<line x1="233.6" y1="52.0" x2="235.2" y2="52.0" stroke="#555" stroke-width="0.9"/>
<line x1="322.7" y1="52.0" x2="324.3" y2="52.0" stroke="#555" stroke-width="0.9"/>
<line x1="233.6" y1="43.1" x2="236.6" y2="43.1" stroke="#555" stroke-width="0.9"/>
<line x1="321.3" y1="43.1" x2="324.3" y2="43.1" stroke="#555" stroke-width="0.9"/>
<line x1="233.6" y1="34.2" x2="235.2" y2="34.2" stroke="#555" stroke-width="0.9"/>
<line x1="322.7" y1="34.2" x2="324.3" y2="34.2" stroke="#555" stroke-width="0.9"/>
<line x1="233.6" y1="25.4" x2="236.6" y2="25.4" stroke="#555" stroke-width="0.9"/>
<line x1="321.3" y1="25.4" x2="324.3" y2="25.4" stroke="#555" stroke-width="0.9"/>
<line x1="233.6" y1="16.6" x2="235.2" y2="16.6" stroke="#555" stroke-width="0.9"/>
<line x1="322.7" y1="16.6" x2="324.3" y2="16.6" stroke="#555" stroke-width="0.9"/>
<line x1="233.6" y1="7.7" x2="236.6" y2="7.7" stroke="#555" stroke-width="0.9"/>
<line x1="321.3" y1="7.7" x2="324.3" y2="7.7" stroke="#555" stroke-width="0.9"/>
<line x1="240.6" y1="84.3" x2="240.6" y2="81.3" stroke="#555" stroke-width="0.9"/>
<line x1="240.6" y1="1.8" x2="240.6" y2="4.8" stroke="#555" stroke-width="0.9"/>
<line x1="254.6" y1="84.3" x2="254.6" y2="82.3" stroke="#555" stroke-width="0.9"/>
<line x1="254.6" y1="1.8" x2="254.6" y2="3.8" stroke="#555" stroke-width="0.9"/>
<line x1="268.5" y1="84.3" x2="268.5" y2="81.3" stroke="#555" stroke-width="0.9"/>
<line x1="268.5" y1="1.8" x2="268.5" y2="4.8" stroke="#555" stroke-width="0.9"/>
<line x1="282.4" y1="84.3" x2="282.4" y2="82.3" stroke="#555" stroke-width="0.9"/>
<line x1="282.4" y1="1.8" x2="282.4" y2="3.8" stroke="#555" stroke-width="0.9"/>
<line x1="296.4" y1="84.3" x2="296.4" y2="81.3" stroke="#555" stroke-width="0.9"/>
<line x1="296.4" y1="1.8" x2="296.4" y2="4.8" stroke="#555" stroke-width="0.9"/>
<line x1="310.4" y1="84.3" x2="310.4" y2="82.3" stroke="#555" stroke-width="0.9"/>
<line x1="310.4" y1="1.8" x2="310.4" y2="3.8" stroke="#555" stroke-width="0.9"/>
<rect x="233.6" y="1.8" width="90.7" height="82.5" fill="none" stroke="#8a8a8a" stroke-width="1"/>
<text x="269.5" y="14.7" class="t">GEO &#160;C03</text>
<line x1="335.8" y1="78.5" x2="424.8" y2="78.5" stroke="#b4b4b4" stroke-width="0.8" stroke-dasharray="0.8 1.7"/>
<line x1="335.8" y1="69.7" x2="424.8" y2="69.7" stroke="#b4b4b4" stroke-width="0.8" stroke-dasharray="0.8 1.7"/>
<line x1="335.8" y1="60.8" x2="424.8" y2="60.8" stroke="#b4b4b4" stroke-width="0.8" stroke-dasharray="0.8 1.7"/>
<line x1="335.8" y1="52.0" x2="424.8" y2="52.0" stroke="#b4b4b4" stroke-width="0.8" stroke-dasharray="0.8 1.7"/>
<line x1="335.8" y1="43.1" x2="424.8" y2="43.1" stroke="#b4b4b4" stroke-width="0.8" stroke-dasharray="0.8 1.7"/>
<line x1="335.8" y1="34.2" x2="424.8" y2="34.2" stroke="#b4b4b4" stroke-width="0.8" stroke-dasharray="0.8 1.7"/>
<line x1="335.8" y1="25.4" x2="424.8" y2="25.4" stroke="#b4b4b4" stroke-width="0.8" stroke-dasharray="0.8 1.7"/>
<line x1="335.8" y1="16.6" x2="424.8" y2="16.6" stroke="#b4b4b4" stroke-width="0.8" stroke-dasharray="0.8 1.7"/>
<line x1="335.8" y1="7.7" x2="424.8" y2="7.7" stroke="#b4b4b4" stroke-width="0.8" stroke-dasharray="0.8 1.7"/>
<path d="M340.80,19.00 L340.80,19.21 L341.80,19.21 L341.80,19.53 L342.80,19.53 L342.80,19.72 L343.80,19.72 L343.80,26.96 L344.80,26.96 L344.80,26.91 L345.80,26.91 L345.80,26.01 L346.80,26.01 L346.80,27.60 L347.80,27.60 L347.80,29.50 L348.80,29.50 L348.80,29.01 L349.80,29.01 L349.80,8.27 L350.80,8.27 L350.80,8.52 L351.80,8.52 L351.80,29.13 L352.80,29.13 L352.80,30.47 L353.80,30.47 L353.80,29.50 L354.80,29.50 L354.80,24.35 L355.80,24.35 L355.80,29.65 L356.80,29.65 L356.80,30.98 L357.80,30.98 L357.80,30.33 L358.80,30.33 L358.80,8.48 L359.80,8.48 L359.80,8.95 L360.80,8.95 L360.80,7.99 L361.80,7.99 L361.80,7.77 L362.80,7.77 L362.80,7.96 L363.80,7.96 L363.80,8.37 L364.80,8.37 L364.80,15.21 L365.80,15.21 L365.80,16.17 L366.80,16.17 L366.80,26.79 L367.80,26.79 L367.80,24.98 L368.80,24.98 L368.80,22.11 L369.80,22.11 L369.80,19.46 L370.80,19.46 L370.80,21.59 L371.80,21.59 L371.80,20.01 L372.80,20.01 L372.80,19.26 L373.80,19.26 L373.80,17.39 L374.80,17.39 L374.80,17.37 L375.80,17.37 L375.80,18.20 L376.80,18.20 L376.80,20.54 L377.80,20.54 L377.80,22.48 L378.80,22.48 L378.80,21.86 L379.80,21.86 L379.80,22.28 L380.80,22.28 L380.80,22.93 L381.80,22.93 L381.80,23.27 L382.80,23.27 L382.80,22.23 L383.80,22.23 L383.80,22.94 L384.80,22.94 L384.80,25.30 L385.80,25.30 L385.80,23.93 L386.80,23.93 L386.80,28.91 L387.80,28.91 L387.80,25.13 L388.80,25.13 L388.80,21.59 L389.80,21.59 L389.80,22.82 L390.80,22.82 L390.80,25.34 L391.80,25.34 L391.80,24.64 L392.80,24.64 L392.80,23.47 L393.80,23.47 L393.80,25.14 L394.80,25.14 L394.80,23.59 L395.80,23.59 L395.80,22.40 L396.80,22.40 L396.80,18.62 L397.80,18.62 L397.80,19.78 L398.80,19.78 L398.80,20.55 L399.80,20.55 L399.80,24.60 L400.80,24.60 L400.80,25.22 L401.80,25.22 L401.80,19.54 L402.80,19.54 L402.80,18.63 L403.80,18.63 L403.80,18.81 L404.80,18.81 L404.80,20.67 L405.80,20.67 L405.80,22.98 L406.80,22.98 L406.80,26.11 L407.80,26.11 L407.80,30.27 L408.80,30.27 L408.80,29.07 L409.80,29.07 L409.80,24.65 L410.80,24.65 L410.80,21.16 L411.80,21.16 L411.80,19.28 L412.80,19.28 L412.80,22.45 L413.80,22.45 L413.80,26.94 L414.80,26.94 L414.80,28.97 L415.80,28.97 L415.80,24.39 L416.80,24.39 L416.80,25.77 L417.80,25.77 L417.80,31.45 L418.80,31.45 L418.80,32.26 L419.80,32.26 L419.80,34.20 L419.71,42.00 L419.71,44.78 L418.83,44.78 L418.83,52.43 L417.83,52.43 L417.83,53.69 L416.83,53.69 L416.83,53.79 L415.83,53.79 L415.83,54.62 L414.83,54.62 L414.83,54.70 L413.83,54.70 L413.83,55.33 L412.83,55.33 L412.83,56.11 L411.83,56.11 L411.83,56.80 L410.83,56.80 L410.83,57.98 L409.83,57.98 L409.83,56.63 L408.83,56.63 L408.83,57.76 L407.83,57.76 L407.83,57.63 L406.83,57.63 L406.83,58.09 L405.83,58.09 L405.83,58.30 L404.83,58.30 L404.83,57.88 L403.83,57.88 L403.83,55.88 L402.83,55.88 L402.83,56.55 L401.83,56.55 L401.83,56.30 L400.83,56.30 L400.83,56.10 L399.83,56.10 L399.83,57.82 L398.83,57.82 L398.83,57.94 L397.83,57.94 L397.83,57.19 L396.83,57.19 L396.83,58.35 L395.83,58.35 L395.83,58.67 L394.83,58.67 L394.83,57.13 L393.83,57.13 L393.83,57.53 L392.83,57.53 L392.83,58.05 L391.83,58.05 L391.83,59.00 L390.83,59.00 L390.83,58.92 L389.83,58.92 L389.83,57.82 L388.83,57.82 L388.83,57.53 L387.83,57.53 L387.83,53.95 L386.83,53.95 L386.83,56.24 L385.83,56.24 L385.83,57.87 L384.83,57.87 L384.83,57.99 L383.83,57.99 L383.83,58.71 L382.83,58.71 L382.83,65.25 L381.83,65.25 L381.83,63.93 L380.83,63.93 L380.83,60.43 L379.83,60.43 L379.83,57.68 L378.83,57.68 L378.83,58.38 L377.83,58.38 L377.83,59.46 L376.83,59.46 L376.83,58.90 L375.83,58.90 L375.83,58.26 L374.83,58.26 L374.83,57.16 L373.83,57.16 L373.83,54.78 L372.83,54.78 L372.83,65.77 L371.83,65.77 L371.83,67.99 L370.83,67.99 L370.83,61.49 L369.83,61.49 L369.83,59.76 L368.83,59.76 L368.83,59.12 L367.83,59.12 L367.83,58.69 L366.83,58.69 L366.83,59.04 L365.83,59.04 L365.83,58.69 L364.83,58.69 L364.83,77.99 L363.83,77.99 L363.83,77.63 L362.83,77.63 L362.83,78.27 L361.83,78.27 L361.83,77.78 L360.83,77.78 L360.83,77.75 L359.83,77.75 L359.83,56.40 L358.83,56.40 L358.83,53.60 L357.83,53.60 L357.83,54.20 L356.83,54.20 L356.83,52.23 L355.83,52.23 L355.83,51.63 L354.83,51.63 L354.83,51.58 L353.83,51.58 L353.83,51.39 L352.83,51.39 L352.83,50.48 L351.83,50.48 L351.83,57.58 L350.83,57.58 L350.83,61.98 L349.83,61.98 L349.83,51.49 L348.83,51.49 L348.83,49.51 L347.83,49.51 L347.83,54.06 L346.83,54.06 L346.83,55.70 L345.83,55.70 L345.83,53.32 L344.83,53.32 L344.83,52.64 L343.83,52.64 L343.83,56.81 L342.83,56.81 L342.83,71.16 L341.83,71.16 L341.83,70.98 L340.83,70.98 L340.83,70.48Z M340.80,19.70 L343.50,19.70 L343.50,20.20 L344.00,20.20 L344.00,27.20 L345.50,27.20 L345.50,27.70 L347.70,27.70 L347.70,27.70 L348.00,27.70 L348.00,29.70 L349.30,29.70 L349.30,29.70 L349.30,29.70 L349.30,8.90 L351.80,8.90 L351.80,8.90 L351.80,8.90 L351.80,30.70 L354.60,30.70 L354.60,30.70 L354.60,30.70 L354.60,25.90 L356.00,25.90 L356.00,25.90 L356.00,25.90 L356.00,30.70 L358.50,30.70 L358.50,31.70 L359.20,31.70 L359.20,8.70 L364.80,8.70 L364.80,8.70 L364.80,8.70 L364.80,15.20 L366.20,15.20 L366.20,15.70 L366.50,15.70 L366.50,18.50 L367.10,18.50 L367.10,27.20 L368.00,27.20 L368.00,27.20 L368.80,27.20 L368.80,25.40 L369.70,25.40 L369.70,22.00 L370.50,22.00 L370.50,20.20 L371.40,20.20 L371.40,22.00 L372.30,22.00 L372.30,21.10 L372.60,21.10 L372.60,27.20 L373.10,27.20 L373.10,20.20 L374.00,20.20 L374.00,18.50 L374.90,18.50 L374.90,20.20 L375.70,20.20 L375.70,17.70 L376.60,17.70 L376.60,20.20 L377.50,20.20 L377.50,21.10 L378.30,21.10 L378.30,22.80 L379.20,22.80 L379.20,22.00 L380.00,22.00 L380.00,23.70 L380.90,23.70 L380.90,22.80 L381.80,22.80 L381.80,24.60 L382.60,24.60 L382.60,23.70 L383.50,23.70 L383.50,22.80 L384.40,22.80 L384.40,24.60 L385.20,24.60 L385.20,25.40 L386.10,25.40 L386.10,23.70 L387.00,23.70 L387.00,30.60 L387.80,30.60 L387.80,25.40 L388.70,25.40 L388.70,24.60 L389.50,24.60 L389.50,22.80 L390.40,22.80 L390.40,23.70 L391.30,23.70 L391.30,25.40 L392.10,25.40 L392.10,24.60 L393.00,24.60 L393.00,23.70 L393.90,23.70 L393.90,25.40 L394.70,25.40 L394.70,27.20 L395.60,27.20 L395.60,23.70 L396.40,23.70 L396.40,22.00 L397.30,22.00 L397.30,19.90 L398.20,19.90 L398.20,20.20 L399.00,20.20 L399.00,21.10 L399.90,21.10 L399.90,23.70 L400.80,23.70 L400.80,27.20 L401.60,27.20 L401.60,23.70 L402.50,23.70 L402.50,20.20 L403.40,20.20 L403.40,18.50 L404.20,18.50 L404.20,19.40 L405.10,19.40 L405.10,20.20 L406.00,20.20 L406.00,22.00 L406.80,22.00 L406.80,25.40 L407.70,25.40 L407.70,28.90 L408.50,28.90 L408.50,30.60 L409.40,30.60 L409.40,29.70 L410.30,29.70 L410.30,26.30 L411.10,26.30 L411.10,23.70 L412.00,23.70 L412.00,19.90 L412.90,19.90 L412.90,20.20 L413.70,20.20 L413.70,26.30 L414.60,26.30 L414.60,28.90 L415.40,28.90 L415.40,30.60 L416.30,30.60 L416.30,25.40 L417.20,25.40 L417.20,26.30 L418.00,26.30 L418.00,30.60 L418.90,30.60 L418.90,33.20 L419.80,33.20 L419.80,34.90 L419.71,41.30 L419.71,48.20 L418.85,48.20 L418.85,52.52 L417.99,52.52 L417.99,53.73 L417.13,53.73 L417.13,54.25 L415.40,54.25 L415.40,54.25 L413.67,54.25 L413.67,55.97 L411.95,55.97 L411.95,56.83 L410.22,56.83 L410.22,55.11 L409.36,55.11 L409.36,56.83 L408.50,56.83 L408.50,57.70 L406.77,57.70 L406.77,58.56 L405.04,58.56 L405.04,55.97 L403.32,55.97 L403.32,56.83 L401.59,56.83 L401.59,55.11 L400.73,55.11 L400.73,55.97 L399.86,55.97 L399.86,56.49 L398.14,56.49 L398.14,57.70 L396.41,57.70 L396.41,56.83 L394.69,56.83 L394.69,57.70 L392.96,57.70 L392.96,58.56 L391.23,58.56 L391.23,57.70 L389.51,57.70 L389.51,55.97 L387.78,55.97 L387.78,51.66 L386.92,51.66 L386.92,55.97 L386.06,55.97 L386.06,57.70 L384.33,57.70 L384.33,58.56 L382.95,58.56 L382.95,64.60 L382.60,64.60 L382.60,64.60 L381.40,64.60 L381.40,59.42 L380.88,59.42 L380.88,57.70 L379.15,57.70 L379.15,58.56 L377.43,58.56 L377.43,57.70 L376.56,57.70 L376.56,57.70 L375.35,57.70 L375.35,55.97 L374.32,55.97 L374.32,54.25 L373.63,54.25 L373.63,56.83 L372.59,56.83 L372.59,67.19 L372.25,67.19 L372.25,67.19 L370.87,67.19 L370.87,60.29 L370.52,60.29 L370.52,58.56 L369.66,58.56 L369.66,57.70 L368.80,57.70 L368.80,58.56 L367.93,58.56 L367.93,56.83 L367.07,56.83 L367.07,57.70 L366.21,57.70 L366.21,56.83 L365.00,56.83 L365.00,77.55 L364.48,77.55 L364.48,77.55 L359.82,77.55 L359.82,53.38 L359.30,53.38 L359.30,53.38 L358.44,53.38 L358.44,52.52 L356.71,52.52 L356.71,51.66 L354.99,51.66 L354.99,50.79 L353.26,50.79 L353.26,49.93 L352.40,49.93 L352.40,51.66 L351.53,51.66 L351.53,60.29 L351.19,60.29 L351.19,60.29 L349.81,60.29 L349.81,51.66 L349.46,51.66 L349.46,49.07 L348.95,49.07 L348.95,49.07 L347.74,49.07 L347.74,55.11 L347.22,55.11 L347.22,54.25 L346.36,54.25 L346.36,52.52 L345.49,52.52 L345.49,50.79 L344.63,50.79 L344.63,51.66 L343.77,51.66 L343.77,62.01 L342.90,62.01 L342.90,69.78 L342.56,69.78 L342.56,69.78 L340.83,69.78Z" fill="#0000ff" fill-rule="nonzero"/><rect x="353.30" y="10.10" width="1.60" height="1.60" fill="#0000ff"/>
<line x1="334.8" y1="78.5" x2="337.8" y2="78.5" stroke="#555" stroke-width="0.9"/>
<line x1="422.8" y1="78.5" x2="425.8" y2="78.5" stroke="#555" stroke-width="0.9"/>
<line x1="334.8" y1="69.7" x2="336.40000000000003" y2="69.7" stroke="#555" stroke-width="0.9"/>
<line x1="424.2" y1="69.7" x2="425.8" y2="69.7" stroke="#555" stroke-width="0.9"/>
<line x1="334.8" y1="60.8" x2="337.8" y2="60.8" stroke="#555" stroke-width="0.9"/>
<line x1="422.8" y1="60.8" x2="425.8" y2="60.8" stroke="#555" stroke-width="0.9"/>
<line x1="334.8" y1="52.0" x2="336.40000000000003" y2="52.0" stroke="#555" stroke-width="0.9"/>
<line x1="424.2" y1="52.0" x2="425.8" y2="52.0" stroke="#555" stroke-width="0.9"/>
<line x1="334.8" y1="43.1" x2="337.8" y2="43.1" stroke="#555" stroke-width="0.9"/>
<line x1="422.8" y1="43.1" x2="425.8" y2="43.1" stroke="#555" stroke-width="0.9"/>
<line x1="334.8" y1="34.2" x2="336.40000000000003" y2="34.2" stroke="#555" stroke-width="0.9"/>
<line x1="424.2" y1="34.2" x2="425.8" y2="34.2" stroke="#555" stroke-width="0.9"/>
<line x1="334.8" y1="25.4" x2="337.8" y2="25.4" stroke="#555" stroke-width="0.9"/>
<line x1="422.8" y1="25.4" x2="425.8" y2="25.4" stroke="#555" stroke-width="0.9"/>
<line x1="334.8" y1="16.6" x2="336.40000000000003" y2="16.6" stroke="#555" stroke-width="0.9"/>
<line x1="424.2" y1="16.6" x2="425.8" y2="16.6" stroke="#555" stroke-width="0.9"/>
<line x1="334.8" y1="7.7" x2="337.8" y2="7.7" stroke="#555" stroke-width="0.9"/>
<line x1="422.8" y1="7.7" x2="425.8" y2="7.7" stroke="#555" stroke-width="0.9"/>
<line x1="341.8" y1="84.3" x2="341.8" y2="81.3" stroke="#555" stroke-width="0.9"/>
<line x1="341.8" y1="1.8" x2="341.8" y2="4.8" stroke="#555" stroke-width="0.9"/>
<line x1="355.8" y1="84.3" x2="355.8" y2="82.3" stroke="#555" stroke-width="0.9"/>
<line x1="355.8" y1="1.8" x2="355.8" y2="3.8" stroke="#555" stroke-width="0.9"/>
<line x1="369.8" y1="84.3" x2="369.8" y2="81.3" stroke="#555" stroke-width="0.9"/>
<line x1="369.8" y1="1.8" x2="369.8" y2="4.8" stroke="#555" stroke-width="0.9"/>
<line x1="383.8" y1="84.3" x2="383.8" y2="82.3" stroke="#555" stroke-width="0.9"/>
<line x1="383.8" y1="1.8" x2="383.8" y2="3.8" stroke="#555" stroke-width="0.9"/>
<line x1="397.8" y1="84.3" x2="397.8" y2="81.3" stroke="#555" stroke-width="0.9"/>
<line x1="397.8" y1="1.8" x2="397.8" y2="4.8" stroke="#555" stroke-width="0.9"/>
<line x1="411.8" y1="84.3" x2="411.8" y2="82.3" stroke="#555" stroke-width="0.9"/>
<line x1="411.8" y1="1.8" x2="411.8" y2="3.8" stroke="#555" stroke-width="0.9"/>
<rect x="334.8" y="1.8" width="91.0" height="82.5" fill="none" stroke="#8a8a8a" stroke-width="1"/>
<text x="370.6" y="14.7" class="t">GEO &#160;C04</text>
<line x1="437.5" y1="78.5" x2="525.8" y2="78.5" stroke="#b4b4b4" stroke-width="0.8" stroke-dasharray="0.8 1.7"/>
<line x1="437.5" y1="69.7" x2="525.8" y2="69.7" stroke="#b4b4b4" stroke-width="0.8" stroke-dasharray="0.8 1.7"/>
<line x1="437.5" y1="60.8" x2="525.8" y2="60.8" stroke="#b4b4b4" stroke-width="0.8" stroke-dasharray="0.8 1.7"/>
<line x1="437.5" y1="52.0" x2="525.8" y2="52.0" stroke="#b4b4b4" stroke-width="0.8" stroke-dasharray="0.8 1.7"/>
<line x1="437.5" y1="43.1" x2="525.8" y2="43.1" stroke="#b4b4b4" stroke-width="0.8" stroke-dasharray="0.8 1.7"/>
<line x1="437.5" y1="34.2" x2="525.8" y2="34.2" stroke="#b4b4b4" stroke-width="0.8" stroke-dasharray="0.8 1.7"/>
<line x1="437.5" y1="25.4" x2="525.8" y2="25.4" stroke="#b4b4b4" stroke-width="0.8" stroke-dasharray="0.8 1.7"/>
<line x1="437.5" y1="16.6" x2="525.8" y2="16.6" stroke="#b4b4b4" stroke-width="0.8" stroke-dasharray="0.8 1.7"/>
<line x1="437.5" y1="7.7" x2="525.8" y2="7.7" stroke="#b4b4b4" stroke-width="0.8" stroke-dasharray="0.8 1.7"/>
<path d="M442.57,38.76 L442.57,37.52 L443.57,37.52 L443.57,37.70 L444.57,37.70 L444.57,38.45 L445.57,38.45 L445.57,37.36 L446.57,37.36 L446.57,26.88 L447.57,26.88 L447.57,26.84 L448.57,26.84 L448.57,36.43 L449.57,36.43 L449.57,37.72 L450.57,37.72 L450.57,38.02 L451.57,38.02 L451.57,37.17 L452.57,37.17 L452.57,38.02 L453.57,38.02 L453.57,36.20 L454.57,36.20 L454.57,35.42 L455.57,35.42 L455.57,37.20 L456.57,37.20 L456.57,38.07 L457.57,38.07 L457.57,37.73 L458.57,37.73 L458.57,37.78 L459.57,37.78 L459.57,36.15 L460.57,36.15 L460.57,37.43 L461.57,37.43 L461.57,39.00 L462.57,39.00 L462.57,39.30 L463.57,39.30 L463.57,39.23 L464.57,39.23 L464.57,39.26 L465.57,39.26 L465.57,38.11 L466.57,38.11 L466.57,37.72 L467.57,37.72 L467.57,37.31 L468.57,37.31 L468.57,38.17 L469.57,38.17 L469.57,37.43 L470.57,37.43 L470.57,33.28 L471.57,33.28 L471.57,31.86 L472.57,31.86 L472.57,35.06 L473.57,35.06 L473.57,39.35 L474.57,39.35 L474.57,39.05 L475.57,39.05 L475.57,38.94 L476.57,38.94 L476.57,37.62 L477.57,37.62 L477.57,38.83 L478.57,38.83 L478.57,37.73 L479.57,37.73 L479.57,39.02 L480.57,39.02 L480.57,38.27 L481.57,38.27 L481.57,37.55 L482.57,37.55 L482.57,37.24 L483.57,37.24 L483.57,37.69 L484.57,37.69 L484.57,38.43 L485.57,38.43 L485.57,38.35 L486.57,38.35 L486.57,37.36 L487.57,37.36 L487.57,37.50 L488.57,37.50 L488.57,38.71 L489.57,38.71 L489.57,38.92 L490.57,38.92 L490.57,38.52 L491.57,38.52 L491.57,37.89 L492.57,37.89 L492.57,38.60 L493.57,38.60 L493.57,37.72 L494.57,37.72 L494.57,38.36 L495.57,38.36 L495.57,38.63 L496.57,38.63 L496.57,39.33 L497.57,39.33 L497.57,38.45 L498.57,38.45 L498.57,38.73 L499.57,38.73 L499.57,37.71 L500.57,37.71 L500.57,37.14 L501.57,37.14 L501.57,37.36 L502.57,37.36 L502.57,38.86 L503.57,38.86 L503.57,38.35 L504.57,38.35 L504.57,37.76 L505.57,37.76 L505.57,37.31 L506.57,37.31 L506.57,38.27 L507.57,38.27 L507.57,38.84 L508.57,38.84 L508.57,38.63 L509.57,38.63 L509.57,38.61 L510.57,38.61 L510.57,39.68 L511.57,39.68 L511.57,40.39 L512.57,40.39 L512.57,38.86 L513.57,38.86 L513.57,38.36 L514.57,38.36 L514.57,39.17 L515.57,39.17 L515.57,39.42 L516.57,39.42 L516.57,39.94 L517.57,39.94 L517.57,38.78 L518.57,38.78 L518.57,39.91 L519.57,39.91 L519.57,39.97 L520.38,39.97 L520.38,39.57 L520.38,47.73 L520.38,48.97 L519.57,48.97 L519.57,49.09 L518.57,49.09 L518.57,49.81 L517.57,49.81 L517.57,49.33 L516.57,49.33 L516.57,50.44 L515.57,50.44 L515.57,49.91 L514.57,49.91 L514.57,51.12 L513.57,51.12 L513.57,51.52 L512.57,51.52 L512.57,49.68 L511.57,49.68 L511.57,49.51 L510.57,49.51 L510.57,50.38 L509.57,50.38 L509.57,49.88 L508.57,49.88 L508.57,49.32 L507.57,49.32 L507.57,51.15 L506.57,51.15 L506.57,49.93 L505.57,49.93 L505.57,49.75 L504.57,49.75 L504.57,49.26 L503.57,49.26 L503.57,51.21 L502.57,51.21 L502.57,51.80 L501.57,51.80 L501.57,51.50 L500.57,51.50 L500.57,51.24 L499.57,51.24 L499.57,53.62 L498.57,53.62 L498.57,54.56 L497.57,54.56 L497.57,54.80 L496.57,54.80 L496.57,55.25 L495.57,55.25 L495.57,54.74 L494.57,54.74 L494.57,52.47 L493.57,52.47 L493.57,51.12 L492.57,51.12 L492.57,51.38 L491.57,51.38 L491.57,51.66 L490.57,51.66 L490.57,52.11 L489.57,52.11 L489.57,51.36 L488.57,51.36 L488.57,50.57 L487.57,50.57 L487.57,51.78 L486.57,51.78 L486.57,49.95 L485.57,49.95 L485.57,52.31 L484.57,52.31 L484.57,53.62 L483.57,53.62 L483.57,51.81 L482.57,51.81 L482.57,49.60 L481.57,49.60 L481.57,49.44 L480.57,49.44 L480.57,49.26 L479.57,49.26 L479.57,49.00 L478.57,49.00 L478.57,48.81 L477.57,48.81 L477.57,49.54 L476.57,49.54 L476.57,48.56 L475.57,48.56 L475.57,50.49 L474.57,50.49 L474.57,51.40 L473.57,51.40 L473.57,53.70 L472.57,53.70 L472.57,57.18 L471.57,57.18 L471.57,57.40 L470.57,57.40 L470.57,52.87 L469.57,52.87 L469.57,50.91 L468.57,50.91 L468.57,50.91 L467.57,50.91 L467.57,50.64 L466.57,50.64 L466.57,49.62 L465.57,49.62 L465.57,49.25 L464.57,49.25 L464.57,49.87 L463.57,49.87 L463.57,50.45 L462.57,50.45 L462.57,51.42 L461.57,51.42 L461.57,49.60 L460.57,49.60 L460.57,49.96 L459.57,49.96 L459.57,49.95 L458.57,49.95 L458.57,52.54 L457.57,52.54 L457.57,52.45 L456.57,52.45 L456.57,50.95 L455.57,50.95 L455.57,49.65 L454.57,49.65 L454.57,50.08 L453.57,50.08 L453.57,50.77 L452.57,50.77 L452.57,51.18 L451.57,51.18 L451.57,51.36 L450.57,51.36 L450.57,54.08 L449.57,54.08 L449.57,53.95 L448.57,53.95 L448.57,58.61 L447.57,58.61 L447.57,59.79 L446.57,59.79 L446.57,53.81 L445.57,53.81 L445.57,54.03 L444.57,54.03 L444.57,53.95 L443.57,53.95 L443.57,52.74 L442.57,52.74 L442.57,47.73Z M442.57,39.46 L443.22,39.46 L443.22,37.83 L444.52,37.83 L444.52,38.32 L446.16,38.32 L446.16,38.64 L446.97,38.64 L446.97,28.04 L448.60,28.04 L448.60,28.04 L449.09,28.04 L449.09,37.83 L450.23,37.83 L450.23,38.64 L451.87,38.64 L451.87,37.01 L453.50,37.01 L453.50,38.32 L455.13,38.32 L455.13,37.01 L456.76,37.01 L456.76,37.83 L458.39,37.83 L458.39,38.64 L460.02,38.64 L460.02,37.83 L461.65,37.83 L461.65,38.64 L463.28,38.64 L463.28,39.46 L464.91,39.46 L464.91,38.97 L466.55,38.97 L466.55,39.46 L468.18,39.46 L468.18,38.64 L469.81,38.64 L469.81,38.97 L471.28,38.97 L471.28,32.12 L472.91,32.12 L472.91,32.12 L473.23,32.12 L473.23,38.97 L474.70,38.97 L474.70,39.95 L476.33,39.95 L476.33,39.46 L477.96,39.46 L477.96,38.97 L479.60,38.97 L479.60,38.97 L481.23,38.97 L481.23,38.64 L482.86,38.64 L482.86,38.64 L484.49,38.64 L484.49,38.97 L486.12,38.97 L486.12,38.64 L487.75,38.64 L487.75,38.97 L489.38,38.97 L489.38,39.46 L491.01,39.46 L491.01,39.46 L492.65,39.46 L492.65,38.97 L494.28,38.97 L494.28,39.46 L495.91,39.46 L495.91,39.46 L497.54,39.46 L497.54,38.97 L499.17,38.97 L499.17,38.64 L500.80,38.64 L500.80,38.32 L502.43,38.32 L502.43,38.64 L504.06,38.64 L504.06,38.64 L505.70,38.64 L505.70,38.97 L507.33,38.97 L507.33,38.97 L508.96,38.97 L508.96,39.46 L510.59,39.46 L510.59,39.95 L512.22,39.95 L512.22,40.27 L513.85,40.27 L513.85,39.95 L515.48,39.95 L515.48,40.27 L517.11,40.27 L517.11,40.27 L518.74,40.27 L518.74,39.95 L520.38,39.95 L520.38,40.27 L520.38,47.03 L520.38,49.97 L518.74,49.97 L518.74,48.99 L517.11,48.99 L517.11,49.48 L515.48,49.48 L515.48,50.29 L513.85,50.29 L513.85,49.48 L512.22,49.48 L512.22,48.99 L510.59,48.99 L510.59,48.66 L508.96,48.66 L508.96,49.48 L507.33,49.48 L507.33,50.29 L505.70,50.29 L505.70,49.48 L504.06,49.48 L504.06,50.29 L502.43,50.29 L502.43,51.11 L500.80,51.11 L500.80,51.92 L499.17,51.92 L499.17,53.56 L498.35,53.56 L498.35,55.19 L497.54,55.19 L497.54,53.56 L495.91,53.56 L495.91,54.37 L495.09,54.37 L495.09,51.92 L494.28,51.92 L494.28,51.11 L492.65,51.11 L492.65,50.29 L491.01,50.29 L491.01,51.11 L489.38,51.11 L489.38,50.29 L487.75,50.29 L487.75,49.97 L486.12,49.97 L486.12,51.11 L484.49,51.11 L484.49,55.19 L483.67,55.19 L483.67,50.29 L482.86,50.29 L482.86,49.48 L481.23,49.48 L481.23,48.66 L479.60,48.66 L479.60,48.34 L477.96,48.34 L477.96,48.66 L476.33,48.66 L476.33,49.48 L474.70,49.48 L474.70,50.29 L473.23,50.29 L473.23,56.82 L472.91,56.82 L472.91,56.82 L471.28,56.82 L471.28,49.97 L469.81,49.97 L469.81,49.48 L468.18,49.48 L468.18,48.99 L466.55,48.99 L466.55,49.48 L464.91,49.48 L464.91,50.62 L463.28,50.62 L463.28,49.48 L461.65,49.48 L461.65,49.48 L460.02,49.48 L460.02,50.29 L458.39,50.29 L458.39,51.92 L457.57,51.92 L457.57,51.11 L456.76,51.11 L456.76,49.48 L455.13,49.48 L455.13,50.29 L453.50,50.29 L453.50,49.48 L451.87,49.48 L451.87,52.74 L450.23,52.74 L450.23,53.56 L449.09,53.56 L449.09,58.45 L448.60,58.45 L448.60,58.45 L446.97,58.45 L446.97,54.37 L446.48,54.37 L446.48,51.92 L445.34,51.92 L445.34,53.88 L444.20,53.88 L444.20,53.56 L443.22,53.56 L443.22,47.03 L442.57,47.03Z" fill="#0000ff" fill-rule="nonzero"/><rect x="454.60" y="10.30" width="1.60" height="1.60" fill="#0000ff"/>
<line x1="436.5" y1="78.5" x2="439.5" y2="78.5" stroke="#555" stroke-width="0.9"/>
<line x1="523.8" y1="78.5" x2="526.8" y2="78.5" stroke="#555" stroke-width="0.9"/>
<line x1="436.5" y1="69.7" x2="438.1" y2="69.7" stroke="#555" stroke-width="0.9"/>
<line x1="525.1999999999999" y1="69.7" x2="526.8" y2="69.7" stroke="#555" stroke-width="0.9"/>
<line x1="436.5" y1="60.8" x2="439.5" y2="60.8" stroke="#555" stroke-width="0.9"/>
<line x1="523.8" y1="60.8" x2="526.8" y2="60.8" stroke="#555" stroke-width="0.9"/>
<line x1="436.5" y1="52.0" x2="438.1" y2="52.0" stroke="#555" stroke-width="0.9"/>
<line x1="525.1999999999999" y1="52.0" x2="526.8" y2="52.0" stroke="#555" stroke-width="0.9"/>
<line x1="436.5" y1="43.1" x2="439.5" y2="43.1" stroke="#555" stroke-width="0.9"/>
<line x1="523.8" y1="43.1" x2="526.8" y2="43.1" stroke="#555" stroke-width="0.9"/>
<line x1="436.5" y1="34.2" x2="438.1" y2="34.2" stroke="#555" stroke-width="0.9"/>
<line x1="525.1999999999999" y1="34.2" x2="526.8" y2="34.2" stroke="#555" stroke-width="0.9"/>
<line x1="436.5" y1="25.4" x2="439.5" y2="25.4" stroke="#555" stroke-width="0.9"/>
<line x1="523.8" y1="25.4" x2="526.8" y2="25.4" stroke="#555" stroke-width="0.9"/>
<line x1="436.5" y1="16.6" x2="438.1" y2="16.6" stroke="#555" stroke-width="0.9"/>
<line x1="525.1999999999999" y1="16.6" x2="526.8" y2="16.6" stroke="#555" stroke-width="0.9"/>
<line x1="436.5" y1="7.7" x2="439.5" y2="7.7" stroke="#555" stroke-width="0.9"/>
<line x1="523.8" y1="7.7" x2="526.8" y2="7.7" stroke="#555" stroke-width="0.9"/>
<line x1="443.5" y1="84.3" x2="443.5" y2="81.3" stroke="#555" stroke-width="0.9"/>
<line x1="443.5" y1="1.8" x2="443.5" y2="4.8" stroke="#555" stroke-width="0.9"/>
<line x1="457.4" y1="84.3" x2="457.4" y2="82.3" stroke="#555" stroke-width="0.9"/>
<line x1="457.4" y1="1.8" x2="457.4" y2="3.8" stroke="#555" stroke-width="0.9"/>
<line x1="471.3" y1="84.3" x2="471.3" y2="81.3" stroke="#555" stroke-width="0.9"/>
<line x1="471.3" y1="1.8" x2="471.3" y2="4.8" stroke="#555" stroke-width="0.9"/>
<line x1="485.1" y1="84.3" x2="485.1" y2="82.3" stroke="#555" stroke-width="0.9"/>
<line x1="485.1" y1="1.8" x2="485.1" y2="3.8" stroke="#555" stroke-width="0.9"/>
<line x1="499.0" y1="84.3" x2="499.0" y2="81.3" stroke="#555" stroke-width="0.9"/>
<line x1="499.0" y1="1.8" x2="499.0" y2="4.8" stroke="#555" stroke-width="0.9"/>
<line x1="512.9" y1="84.3" x2="512.9" y2="82.3" stroke="#555" stroke-width="0.9"/>
<line x1="512.9" y1="1.8" x2="512.9" y2="3.8" stroke="#555" stroke-width="0.9"/>
<rect x="436.5" y="1.8" width="90.3" height="82.5" fill="none" stroke="#8a8a8a" stroke-width="1"/>
<text x="472.5" y="14.7" class="t">GEO &#160;C05</text>
<text x="26" y="11.4" text-anchor="end" class="n">6</text>
<text x="26" y="29.1" text-anchor="end" class="n">3</text>
<text x="26" y="46.8" text-anchor="end" class="n">0</text>
<text x="26" y="64.5" text-anchor="end" class="n">-3</text>
<text x="26" y="82.2" text-anchor="end" class="n">-6</text>
<text transform="translate(12.3 44.8) rotate(-90)" text-anchor="middle" class="n">Residual (ns)</text>
<line x1="31.4" y1="163.8" x2="120.4" y2="163.8" stroke="#b4b4b4" stroke-width="0.8" stroke-dasharray="0.8 1.7"/>
<line x1="31.4" y1="155.0" x2="120.4" y2="155.0" stroke="#b4b4b4" stroke-width="0.8" stroke-dasharray="0.8 1.7"/>
<line x1="31.4" y1="146.1" x2="120.4" y2="146.1" stroke="#b4b4b4" stroke-width="0.8" stroke-dasharray="0.8 1.7"/>
<line x1="31.4" y1="137.2" x2="120.4" y2="137.2" stroke="#b4b4b4" stroke-width="0.8" stroke-dasharray="0.8 1.7"/>
<line x1="31.4" y1="128.4" x2="120.4" y2="128.4" stroke="#b4b4b4" stroke-width="0.8" stroke-dasharray="0.8 1.7"/>
<line x1="31.4" y1="119.6" x2="120.4" y2="119.6" stroke="#b4b4b4" stroke-width="0.8" stroke-dasharray="0.8 1.7"/>
<line x1="31.4" y1="110.7" x2="120.4" y2="110.7" stroke="#b4b4b4" stroke-width="0.8" stroke-dasharray="0.8 1.7"/>
<line x1="31.4" y1="101.9" x2="120.4" y2="101.9" stroke="#b4b4b4" stroke-width="0.8" stroke-dasharray="0.8 1.7"/>
<line x1="31.4" y1="93.0" x2="120.4" y2="93.0" stroke="#b4b4b4" stroke-width="0.8" stroke-dasharray="0.8 1.7"/>
<path d="M37.04,115.21 L37.47,115.21 L37.47,115.21 L37.89,115.21 L37.89,98.19 L38.85,98.19 L38.85,97.98 L39.60,97.98 L39.60,98.19 L40.23,98.19 L40.23,98.19 L40.66,98.19 L40.66,116.28 L41.30,116.28 L41.30,120.00 L41.72,120.00 L41.72,112.02 L42.36,112.02 L42.36,110.96 L42.79,110.96 L42.79,116.28 L43.21,116.28 L43.21,111.49 L43.64,111.49 L43.64,112.02 L44.06,112.02 L44.06,117.87 L44.49,117.87 L44.49,116.28 L44.91,116.28 L44.91,113.09 L45.34,113.09 L45.34,116.28 L45.77,116.28 L45.77,98.19 L46.30,98.19 L46.30,98.72 L46.83,98.72 L46.83,99.26 L47.36,99.26 L47.36,119.47 L47.89,119.47 L47.89,114.15 L48.43,114.15 L48.43,98.19 L48.96,98.19 L48.96,97.98 L49.49,97.98 L49.49,98.19 L50.02,98.19 L50.02,98.19 L50.55,98.19 L50.55,98.72 L51.09,98.72 L51.09,98.19 L51.62,98.19 L51.62,119.47 L52.15,119.47 L52.15,99.79 L52.68,99.79 L52.68,99.26 L53.21,99.26 L53.21,98.72 L53.74,98.72 L53.74,99.26 L54.28,99.26 L54.28,101.38 L54.81,101.38 L54.81,105.64 L55.34,105.64 L55.34,115.21 L55.87,115.21 L55.87,116.28 L56.40,116.28 L56.40,103.51 L56.94,103.51 L56.94,98.19 L57.47,98.19 L57.47,97.98 L58.00,97.98 L58.00,98.19 L58.53,98.19 L58.53,98.72 L59.06,98.72 L59.06,116.28 L59.60,116.28 L59.60,99.79 L60.13,99.79 L60.13,99.26 L60.66,99.26 L60.66,101.38 L61.19,101.38 L61.19,102.45 L61.72,102.45 L61.72,116.28 L62.26,116.28 L62.26,103.51 L62.79,103.51 L62.79,105.64 L63.32,105.64 L63.32,106.70 L63.85,106.70 L63.85,112.02 L64.38,112.02 L64.38,105.64 L64.91,105.64 L64.91,105.64 L65.45,105.64 L65.45,107.77 L65.98,107.77 L65.98,106.70 L66.51,106.70 L66.51,116.28 L67.04,116.28 L67.04,107.77 L67.57,107.77 L67.57,107.77 L68.11,107.77 L68.11,109.89 L68.64,109.89 L68.64,120.53 L69.17,120.53 L69.17,120.53 L69.70,120.53 L69.70,116.28 L70.23,116.28 L70.23,115.21 L70.77,115.21 L70.77,114.68 L71.30,114.68 L71.30,114.68 L71.83,114.68 L71.83,115.21 L72.36,115.21 L72.36,115.21 L72.89,115.21 L72.89,114.15 L73.43,114.15 L73.43,112.02 L73.96,112.02 L73.96,101.38 L74.49,101.38 L74.49,99.79 L75.02,99.79 L75.02,100.32 L75.55,100.32 L75.55,101.38 L76.09,101.38 L76.09,114.15 L76.62,114.15 L76.62,115.21 L77.15,115.21 L77.15,104.57 L77.00,104.57 L77.00,99.26 L77.53,99.26 L77.53,100.32 L78.06,100.32 L78.06,100.32 L78.60,100.32 L78.60,100.32 L79.13,100.32 L79.13,99.26 L79.66,99.26 L79.66,99.26 L80.19,99.26 L80.19,101.38 L80.72,101.38 L80.72,103.51 L81.26,103.51 L81.26,119.47 L81.79,119.47 L81.79,119.47 L82.32,119.47 L82.32,116.28 L82.85,116.28 L82.85,104.57 L83.38,104.57 L83.38,102.98 L83.91,102.98 L83.91,103.51 L84.45,103.51 L84.45,102.98 L84.98,102.98 L84.98,120.53 L85.51,120.53 L85.51,120.53 L86.04,120.53 L86.04,116.28 L86.57,116.28 L86.57,114.15 L87.11,114.15 L87.11,102.45 L87.64,102.45 L87.64,114.15 L88.17,114.15 L88.17,115.21 L88.70,115.21 L88.70,114.15 L89.23,114.15 L89.23,114.68 L89.77,114.68 L89.77,108.83 L90.30,108.83 L90.30,113.09 L90.83,113.09 L90.83,113.09 L91.36,113.09 L91.36,114.15 L91.89,114.15 L91.89,110.96 L92.43,110.96 L92.43,114.68 L92.96,114.68 L92.96,99.26 L93.49,99.26 L93.49,98.19 L94.02,98.19 L94.02,98.19 L94.55,98.19 L94.55,98.72 L95.09,98.72 L95.09,113.09 L95.62,113.09 L95.62,115.21 L96.15,115.21 L96.15,99.26 L96.68,99.26 L96.68,98.72 L97.21,98.72 L97.21,98.19 L97.74,98.19 L97.74,109.89 L98.28,109.89 L98.28,110.43 L98.81,110.43 L98.81,108.83 L99.34,108.83 L99.34,106.70 L99.87,106.70 L99.87,107.77 L100.40,107.77 L100.40,108.83 L100.94,108.83 L100.94,109.89 L101.47,109.89 L101.47,113.09 L102.00,113.09 L102.00,117.34 L102.53,117.34 L102.53,116.28 L103.06,116.28 L103.06,115.21 L103.60,115.21 L103.60,114.15 L104.13,114.15 L104.13,116.28 L104.66,116.28 L104.66,117.34 L105.19,117.34 L105.19,116.28 L105.72,116.28 L105.72,113.09 L106.26,113.09 L106.26,109.89 L106.79,109.89 L106.79,101.38 L107.32,101.38 L107.32,99.79 L107.85,99.79 L107.85,99.79 L108.38,99.79 L108.38,101.38 L108.91,101.38 L108.91,120.53 L109.45,120.53 L109.45,121.06 L109.98,121.06 L109.98,121.60 L110.51,121.60 L110.51,98.72 L111.04,98.72 L111.04,98.19 L111.57,98.19 L111.57,98.19 L112.11,98.19 L112.11,98.72 L112.64,98.72 L112.64,101.38 L113.17,101.38 L113.17,105.64 L113.70,105.64 L113.70,112.02 L114.23,112.02 L114.23,114.15 L114.66,114.15 L114.66,116.28 L114.66,132.26 L114.66,138.64 L114.23,138.64 L114.23,142.89 L113.70,142.89 L113.70,149.28 L113.17,149.28 L113.17,155.66 L112.64,155.66 L112.64,158.85 L112.11,158.85 L112.11,157.26 L111.57,157.26 L111.57,149.28 L111.04,149.28 L111.04,136.51 L110.51,136.51 L110.51,134.38 L109.98,134.38 L109.98,133.32 L109.45,133.32 L109.45,133.85 L108.91,133.85 L108.91,136.51 L108.38,136.51 L108.38,138.11 L107.85,138.11 L107.85,141.83 L107.32,141.83 L107.32,145.02 L106.79,145.02 L106.79,149.28 L106.26,149.28 L106.26,152.47 L105.72,152.47 L105.72,153.53 L105.19,153.53 L105.19,154.06 L104.66,154.06 L104.66,153.53 L104.13,153.53 L104.13,149.28 L103.60,149.28 L103.60,135.98 L103.06,135.98 L103.06,135.45 L102.53,135.45 L102.53,135.98 L102.00,135.98 L102.00,136.51 L101.47,136.51 L101.47,138.64 L100.94,138.64 L100.94,149.28 L100.40,149.28 L100.40,158.85 L99.87,158.85 L99.87,158.85 L99.34,158.85 L99.34,149.28 L98.81,149.28 L98.81,148.21 L98.28,148.21 L98.28,146.62 L97.74,146.62 L97.74,145.02 L97.21,145.02 L97.21,143.96 L96.68,143.96 L96.68,142.89 L96.15,142.89 L96.15,141.83 L95.62,141.83 L95.62,141.83 L95.09,141.83 L95.09,142.89 L94.55,142.89 L94.55,146.09 L94.02,146.09 L94.02,147.15 L93.49,147.15 L93.49,142.36 L92.96,142.36 L92.96,140.23 L92.43,140.23 L92.43,141.30 L91.89,141.30 L91.89,140.77 L91.36,140.77 L91.36,142.89 L90.83,142.89 L90.83,146.09 L90.30,146.09 L90.30,158.85 L89.77,158.85 L89.77,158.85 L89.23,158.85 L89.23,158.85 L88.70,158.85 L88.70,158.85 L88.17,158.85 L88.17,158.85 L87.64,158.85 L87.64,158.85 L87.11,158.85 L87.11,147.15 L86.57,147.15 L86.57,137.57 L86.04,137.57 L86.04,135.45 L85.51,135.45 L85.51,135.98 L84.98,135.98 L84.98,141.83 L84.45,141.83 L84.45,143.96 L83.91,143.96 L83.91,139.70 L83.38,139.70 L83.38,136.51 L82.85,136.51 L82.85,137.57 L82.32,137.57 L82.32,138.64 L81.79,138.64 L81.79,141.83 L81.26,141.83 L81.26,147.15 L80.72,147.15 L80.72,158.85 L80.19,158.85 L80.19,158.85 L79.66,158.85 L79.66,143.96 L79.13,143.96 L79.13,140.77 L78.60,140.77 L78.60,140.77 L78.06,140.77 L78.06,146.09 L77.53,146.09 L77.53,149.28 L77.00,149.28 L77.00,138.11 L76.62,138.11 L76.62,139.70 L76.09,139.70 L76.09,141.83 L75.55,141.83 L75.55,138.64 L75.02,138.64 L75.02,136.51 L74.49,136.51 L74.49,137.57 L73.96,137.57 L73.96,141.83 L73.43,141.83 L73.43,149.28 L72.89,149.28 L72.89,156.72 L72.36,156.72 L72.36,157.79 L71.83,157.79 L71.83,156.72 L71.30,156.72 L71.30,151.40 L70.77,151.40 L70.77,148.21 L70.23,148.21 L70.23,142.89 L69.70,142.89 L69.70,138.11 L69.17,138.11 L69.17,137.57 L68.64,137.57 L68.64,138.64 L68.11,138.64 L68.11,142.89 L67.57,142.89 L67.57,141.83 L67.04,141.83 L67.04,146.09 L66.51,146.09 L66.51,152.47 L65.98,152.47 L65.98,153.53 L65.45,153.53 L65.45,150.34 L64.91,150.34 L64.91,146.62 L64.38,146.62 L64.38,143.96 L63.85,143.96 L63.85,146.09 L63.32,146.09 L63.32,148.21 L63.00,148.21 L63.00,147.15 L62.57,147.15 L62.57,145.02 L61.94,145.02 L61.94,142.36 L61.51,142.36 L61.51,143.96 L61.09,143.96 L61.09,141.83 L60.66,141.83 L60.66,138.64 L60.13,138.64 L60.13,138.11 L59.60,138.11 L59.60,140.77 L59.17,140.77 L59.17,145.02 L58.74,145.02 L58.74,153.53 L58.32,153.53 L58.32,156.19 L57.79,156.19 L57.79,153.53 L57.26,153.53 L57.26,147.15 L56.94,147.15 L56.94,140.77 L56.40,140.77 L56.40,149.28 L55.98,149.28 L55.98,147.15 L55.66,147.15 L55.66,142.89 L55.34,142.89 L55.34,137.04 L54.81,137.04 L54.81,136.51 L54.28,136.51 L54.28,137.57 L53.85,137.57 L53.85,147.15 L53.43,147.15 L53.43,158.85 L53.00,158.85 L53.00,158.85 L52.47,158.85 L52.47,155.66 L51.94,155.66 L51.94,139.70 L51.62,139.70 L51.62,139.17 L51.09,139.17 L51.09,141.83 L50.55,141.83 L50.55,154.60 L50.23,154.60 L50.23,157.26 L49.81,157.26 L49.81,156.72 L49.17,156.72 L49.17,153.53 L48.74,153.53 L48.74,145.02 L48.11,145.02 L48.11,142.89 L47.68,142.89 L47.68,143.96 L47.04,143.96 L47.04,148.74 L46.62,148.74 L46.62,151.94 L46.30,151.94 L46.30,150.87 L45.77,150.87 L45.77,146.09 L45.23,146.09 L45.23,143.96 L44.70,143.96 L44.70,141.83 L44.17,141.83 L44.17,140.77 L43.64,140.77 L43.64,142.36 L43.21,142.36 L43.21,140.77 L42.79,140.77 L42.79,138.64 L42.36,138.64 L42.36,137.04 L41.72,137.04 L41.72,136.51 L41.30,136.51 L41.30,137.57 L40.66,137.57 L40.66,141.83 L40.23,141.83 L40.23,148.74 L39.91,148.74 L39.91,150.34 L39.38,150.34 L39.38,149.28 L38.85,149.28 L38.85,145.55 L38.32,145.55 L38.32,141.83 L37.79,141.83 L37.79,138.64 L37.26,138.64 L37.26,130.13 L37.04,130.13Z" fill="#0000ff"/><rect x="45.70" y="94.80" width="1.60" height="1.60" fill="#0000ff"/>
<line x1="30.4" y1="163.8" x2="33.4" y2="163.8" stroke="#555" stroke-width="0.9"/>
<line x1="118.4" y1="163.8" x2="121.4" y2="163.8" stroke="#555" stroke-width="0.9"/>
<line x1="30.4" y1="155.0" x2="32.0" y2="155.0" stroke="#555" stroke-width="0.9"/>
<line x1="119.80000000000001" y1="155.0" x2="121.4" y2="155.0" stroke="#555" stroke-width="0.9"/>
<line x1="30.4" y1="146.1" x2="33.4" y2="146.1" stroke="#555" stroke-width="0.9"/>
<line x1="118.4" y1="146.1" x2="121.4" y2="146.1" stroke="#555" stroke-width="0.9"/>
<line x1="30.4" y1="137.2" x2="32.0" y2="137.2" stroke="#555" stroke-width="0.9"/>
<line x1="119.80000000000001" y1="137.2" x2="121.4" y2="137.2" stroke="#555" stroke-width="0.9"/>
<line x1="30.4" y1="128.4" x2="33.4" y2="128.4" stroke="#555" stroke-width="0.9"/>
<line x1="118.4" y1="128.4" x2="121.4" y2="128.4" stroke="#555" stroke-width="0.9"/>
<line x1="30.4" y1="119.6" x2="32.0" y2="119.6" stroke="#555" stroke-width="0.9"/>
<line x1="119.80000000000001" y1="119.6" x2="121.4" y2="119.6" stroke="#555" stroke-width="0.9"/>
<line x1="30.4" y1="110.7" x2="33.4" y2="110.7" stroke="#555" stroke-width="0.9"/>
<line x1="118.4" y1="110.7" x2="121.4" y2="110.7" stroke="#555" stroke-width="0.9"/>
<line x1="30.4" y1="101.9" x2="32.0" y2="101.9" stroke="#555" stroke-width="0.9"/>
<line x1="119.80000000000001" y1="101.9" x2="121.4" y2="101.9" stroke="#555" stroke-width="0.9"/>
<line x1="30.4" y1="93.0" x2="33.4" y2="93.0" stroke="#555" stroke-width="0.9"/>
<line x1="118.4" y1="93.0" x2="121.4" y2="93.0" stroke="#555" stroke-width="0.9"/>
<line x1="37.4" y1="169.5" x2="37.4" y2="166.5" stroke="#555" stroke-width="0.9"/>
<line x1="37.4" y1="87.4" x2="37.4" y2="90.4" stroke="#555" stroke-width="0.9"/>
<line x1="51.4" y1="169.5" x2="51.4" y2="167.5" stroke="#555" stroke-width="0.9"/>
<line x1="51.4" y1="87.4" x2="51.4" y2="89.4" stroke="#555" stroke-width="0.9"/>
<line x1="65.4" y1="169.5" x2="65.4" y2="166.5" stroke="#555" stroke-width="0.9"/>
<line x1="65.4" y1="87.4" x2="65.4" y2="90.4" stroke="#555" stroke-width="0.9"/>
<line x1="79.4" y1="169.5" x2="79.4" y2="167.5" stroke="#555" stroke-width="0.9"/>
<line x1="79.4" y1="87.4" x2="79.4" y2="89.4" stroke="#555" stroke-width="0.9"/>
<line x1="93.4" y1="169.5" x2="93.4" y2="166.5" stroke="#555" stroke-width="0.9"/>
<line x1="93.4" y1="87.4" x2="93.4" y2="90.4" stroke="#555" stroke-width="0.9"/>
<line x1="107.4" y1="169.5" x2="107.4" y2="167.5" stroke="#555" stroke-width="0.9"/>
<line x1="107.4" y1="87.4" x2="107.4" y2="89.4" stroke="#555" stroke-width="0.9"/>
<rect x="30.4" y="87.4" width="91.0" height="82.1" fill="none" stroke="#8a8a8a" stroke-width="1"/>
<text x="63.0" y="100.3" class="t">IGSO &#160;C06</text>
<line x1="133.5" y1="163.8" x2="222.0" y2="163.8" stroke="#b4b4b4" stroke-width="0.8" stroke-dasharray="0.8 1.7"/>
<line x1="133.5" y1="155.0" x2="222.0" y2="155.0" stroke="#b4b4b4" stroke-width="0.8" stroke-dasharray="0.8 1.7"/>
<line x1="133.5" y1="146.1" x2="222.0" y2="146.1" stroke="#b4b4b4" stroke-width="0.8" stroke-dasharray="0.8 1.7"/>
<line x1="133.5" y1="137.2" x2="222.0" y2="137.2" stroke="#b4b4b4" stroke-width="0.8" stroke-dasharray="0.8 1.7"/>
<line x1="133.5" y1="128.4" x2="222.0" y2="128.4" stroke="#b4b4b4" stroke-width="0.8" stroke-dasharray="0.8 1.7"/>
<line x1="133.5" y1="119.6" x2="222.0" y2="119.6" stroke="#b4b4b4" stroke-width="0.8" stroke-dasharray="0.8 1.7"/>
<line x1="133.5" y1="110.7" x2="222.0" y2="110.7" stroke="#b4b4b4" stroke-width="0.8" stroke-dasharray="0.8 1.7"/>
<line x1="133.5" y1="101.9" x2="222.0" y2="101.9" stroke="#b4b4b4" stroke-width="0.8" stroke-dasharray="0.8 1.7"/>
<line x1="133.5" y1="93.0" x2="222.0" y2="93.0" stroke="#b4b4b4" stroke-width="0.8" stroke-dasharray="0.8 1.7"/>
<path d="M138.57,121.31 L138.57,119.64 L139.57,119.64 L139.57,117.19 L140.57,117.19 L140.57,118.00 L141.57,118.00 L141.57,115.92 L142.57,115.92 L142.57,116.00 L143.57,116.00 L143.57,117.62 L144.57,117.62 L144.57,117.68 L145.57,117.68 L145.57,114.73 L146.57,114.73 L146.57,112.69 L147.57,112.69 L147.57,114.29 L148.57,114.29 L148.57,114.44 L149.57,114.44 L149.57,115.10 L150.57,115.10 L150.57,116.93 L151.57,116.93 L151.57,115.14 L152.57,115.14 L152.57,115.17 L153.57,115.17 L153.57,114.72 L154.57,114.72 L154.57,116.51 L155.57,116.51 L155.57,115.24 L156.57,115.24 L156.57,112.99 L157.57,112.99 L157.57,111.30 L158.57,111.30 L158.57,112.86 L159.57,112.86 L159.57,115.96 L160.57,115.96 L160.57,114.74 L161.57,114.74 L161.57,110.68 L162.57,110.68 L162.57,111.37 L163.57,111.37 L163.57,112.49 L164.57,112.49 L164.57,112.28 L165.57,112.28 L165.57,116.49 L166.57,116.49 L166.57,116.93 L167.57,116.93 L167.57,117.84 L168.57,117.84 L168.57,116.89 L169.57,116.89 L169.57,117.70 L170.57,117.70 L170.57,117.19 L171.57,117.19 L171.57,117.39 L172.57,117.39 L172.57,115.36 L173.57,115.36 L173.57,114.33 L174.57,114.33 L174.57,114.78 L175.57,114.78 L175.57,116.72 L176.57,116.72 L176.57,118.99 L177.57,118.99 L177.57,117.90 L178.57,117.90 L178.57,115.67 L179.57,115.67 L179.57,114.46 L180.57,114.46 L180.57,113.60 L181.57,113.60 L181.57,112.28 L182.57,112.28 L182.57,111.97 L183.57,111.97 L183.57,111.96 L184.57,111.96 L184.57,111.79 L185.57,111.79 L185.57,110.90 L186.57,110.90 L186.57,112.63 L187.57,112.63 L187.57,113.39 L188.57,113.39 L188.57,115.81 L189.57,115.81 L189.57,114.27 L190.57,114.27 L190.57,112.69 L191.57,112.69 L191.57,111.66 L192.57,111.66 L192.57,114.20 L193.57,114.20 L193.57,116.18 L194.57,116.18 L194.57,114.57 L195.57,114.57 L195.57,115.63 L196.57,115.63 L196.57,115.70 L197.57,115.70 L197.57,116.06 L198.57,116.06 L198.57,116.90 L199.57,116.90 L199.57,118.46 L200.57,118.46 L200.57,117.49 L201.57,117.49 L201.57,115.64 L202.57,115.64 L202.57,116.57 L203.57,116.57 L203.57,116.37 L204.57,116.37 L204.57,115.44 L205.57,115.44 L205.57,111.73 L206.57,111.73 L206.57,113.10 L207.57,113.10 L207.57,114.50 L208.57,114.50 L208.57,113.44 L209.57,113.44 L209.57,113.99 L210.57,113.99 L210.57,113.39 L211.57,113.39 L211.57,112.97 L212.57,112.97 L212.57,110.84 L213.57,110.84 L213.57,111.45 L214.57,111.45 L214.57,115.72 L215.57,115.72 L215.57,120.28 L216.38,120.28 L216.38,122.94 L216.38,132.73 L216.38,135.48 L215.57,135.48 L215.57,142.99 L214.57,142.99 L214.57,145.92 L213.57,145.92 L213.57,140.93 L212.57,140.93 L212.57,138.80 L211.57,138.80 L211.57,139.06 L210.57,139.06 L210.57,141.60 L209.57,141.60 L209.57,141.89 L208.57,141.89 L208.57,141.68 L207.57,141.68 L207.57,140.92 L206.57,140.92 L206.57,142.29 L205.57,142.29 L205.57,140.98 L204.57,140.98 L204.57,140.01 L203.57,140.01 L203.57,139.10 L202.57,139.10 L202.57,138.82 L201.57,138.82 L201.57,138.62 L200.57,138.62 L200.57,139.82 L199.57,139.82 L199.57,138.56 L198.57,138.56 L198.57,140.26 L197.57,140.26 L197.57,140.22 L196.57,140.22 L196.57,139.81 L195.57,139.81 L195.57,138.23 L194.57,138.23 L194.57,138.03 L193.57,138.03 L193.57,138.60 L192.57,138.60 L192.57,139.94 L191.57,139.94 L191.57,139.74 L190.57,139.74 L190.57,141.14 L189.57,141.14 L189.57,140.05 L188.57,140.05 L188.57,140.59 L187.57,140.59 L187.57,138.29 L186.57,138.29 L186.57,139.34 L185.57,139.34 L185.57,141.53 L184.57,141.53 L184.57,140.10 L183.57,140.10 L183.57,139.11 L182.57,139.11 L182.57,139.38 L181.57,139.38 L181.57,138.47 L180.57,138.47 L180.57,138.08 L179.57,138.08 L179.57,137.85 L178.57,137.85 L178.57,137.77 L177.57,137.77 L177.57,136.76 L176.57,136.76 L176.57,137.82 L175.57,137.82 L175.57,136.83 L174.57,136.83 L174.57,136.65 L173.57,136.65 L173.57,136.63 L172.57,136.63 L172.57,137.20 L171.57,137.20 L171.57,136.00 L170.57,136.00 L170.57,135.56 L169.57,135.56 L169.57,136.84 L168.57,136.84 L168.57,136.91 L167.57,136.91 L167.57,136.60 L166.57,136.60 L166.57,136.36 L165.57,136.36 L165.57,141.16 L164.57,141.16 L164.57,145.11 L163.57,145.11 L163.57,146.03 L162.57,146.03 L162.57,144.50 L161.57,144.50 L161.57,143.26 L160.57,143.26 L160.57,141.01 L159.57,141.01 L159.57,140.64 L158.57,140.64 L158.57,140.34 L157.57,140.34 L157.57,139.21 L156.57,139.21 L156.57,139.09 L155.57,139.09 L155.57,139.56 L154.57,139.56 L154.57,139.45 L153.57,139.45 L153.57,138.51 L152.57,138.51 L152.57,137.91 L151.57,137.91 L151.57,138.16 L150.57,138.16 L150.57,138.75 L149.57,138.75 L149.57,137.45 L148.57,137.45 L148.57,138.48 L147.57,138.48 L147.57,139.43 L146.57,139.43 L146.57,137.98 L145.57,137.98 L145.57,139.77 L144.57,139.77 L144.57,140.56 L143.57,140.56 L143.57,138.10 L142.57,138.10 L142.57,138.79 L141.57,138.79 L141.57,139.60 L140.57,139.60 L140.57,137.04 L139.57,137.04 L139.57,135.47 L138.57,135.47 L138.57,132.73Z M138.57,122.01 L139.22,122.01 L139.22,118.75 L140.20,118.75 L140.20,117.44 L141.34,117.44 L141.34,117.93 L142.97,117.93 L142.97,117.12 L144.11,117.12 L144.11,118.42 L145.42,118.42 L145.42,117.12 L146.23,117.12 L146.23,113.86 L147.38,113.86 L147.38,113.53 L148.35,113.53 L148.35,116.30 L149.50,116.30 L149.50,114.67 L150.31,114.67 L150.31,116.30 L151.62,116.30 L151.62,117.12 L152.76,117.12 L152.76,115.49 L153.90,115.49 L153.90,114.67 L155.21,114.67 L155.21,116.79 L156.51,116.79 L156.51,114.67 L157.65,114.67 L157.65,112.22 L158.79,112.22 L158.79,112.55 L159.77,112.55 L159.77,117.44 L160.91,117.44 L160.91,115.49 L161.73,115.49 L161.73,112.22 L162.71,112.22 L162.71,112.22 L163.36,112.22 L163.36,113.04 L164.34,113.04 L164.34,112.55 L164.99,112.55 L164.99,113.04 L165.81,113.04 L165.81,117.93 L167.44,117.93 L167.44,118.75 L169.07,118.75 L169.07,117.93 L170.70,117.93 L170.70,117.12 L172.33,117.12 L172.33,117.12 L173.96,117.12 L173.96,115.81 L175.11,115.81 L175.11,116.30 L176.09,116.30 L176.09,117.44 L177.23,117.44 L177.23,119.57 L178.04,119.57 L178.04,118.75 L179.67,118.75 L179.67,115.81 L180.98,115.81 L180.98,114.18 L182.12,114.18 L182.12,112.55 L183.75,112.55 L183.75,111.90 L185.38,111.90 L185.38,112.22 L187.01,112.22 L187.01,112.55 L188.16,112.55 L188.16,114.67 L189.46,114.67 L189.46,117.12 L190.77,117.12 L190.77,113.04 L191.91,113.04 L191.91,112.55 L192.72,112.55 L192.72,114.67 L194.03,114.67 L194.03,117.44 L195.17,117.44 L195.17,115.81 L196.31,115.81 L196.31,115.49 L197.62,115.49 L197.62,116.79 L199.25,116.79 L199.25,117.93 L200.88,117.93 L200.88,118.42 L202.51,118.42 L202.51,116.30 L203.82,116.30 L203.82,117.12 L204.96,117.12 L204.96,115.49 L205.77,115.49 L205.77,113.04 L207.08,113.04 L207.08,113.86 L208.22,113.86 L208.22,114.67 L209.36,114.67 L209.36,113.04 L210.34,113.04 L210.34,114.18 L211.48,114.18 L211.48,115.49 L212.30,115.49 L212.30,113.53 L213.11,113.53 L213.11,112.22 L213.93,112.22 L213.93,112.55 L214.74,112.55 L214.74,113.86 L215.56,113.86 L215.56,117.93 L216.38,117.93 L216.38,123.64 L216.38,132.03 L216.38,139.37 L215.56,139.37 L215.56,144.26 L214.74,144.26 L214.74,144.26 L213.93,144.26 L213.93,139.37 L213.11,139.37 L213.11,138.56 L211.48,138.56 L211.48,140.19 L209.85,140.19 L209.85,141.00 L208.22,141.00 L208.22,141.00 L206.59,141.00 L206.59,140.19 L204.96,140.19 L204.96,139.37 L203.33,139.37 L203.33,137.74 L201.70,137.74 L201.70,138.88 L200.06,138.88 L200.06,138.56 L198.43,138.56 L198.43,139.37 L196.80,139.37 L196.80,138.56 L195.17,138.56 L195.17,137.74 L193.54,137.74 L193.54,138.56 L191.91,138.56 L191.91,139.86 L190.28,139.86 L190.28,139.37 L188.65,139.37 L188.65,138.56 L187.01,138.56 L187.01,139.37 L185.87,139.37 L185.87,141.00 L184.57,141.00 L184.57,139.37 L183.75,139.37 L183.75,138.56 L182.94,138.56 L182.94,136.92 L181.30,136.92 L181.30,137.74 L179.67,137.74 L179.67,136.92 L178.04,136.92 L178.04,136.11 L176.41,136.11 L176.41,136.60 L174.78,136.60 L174.78,136.11 L173.15,136.11 L173.15,136.11 L171.52,136.11 L171.52,135.62 L169.89,135.62 L169.89,136.11 L168.26,136.11 L168.26,136.11 L166.62,136.11 L166.62,136.92 L165.32,136.92 L165.32,142.63 L164.99,142.63 L164.99,144.26 L164.18,144.26 L164.18,144.75 L163.04,144.75 L163.04,144.26 L161.73,144.26 L161.73,142.63 L160.91,142.63 L160.91,139.37 L159.28,139.37 L159.28,140.19 L158.47,140.19 L158.47,139.37 L156.84,139.37 L156.84,138.56 L155.21,138.56 L155.21,138.56 L153.57,138.56 L153.57,137.74 L151.94,137.74 L151.94,138.56 L150.31,138.56 L150.31,136.92 L148.68,136.92 L148.68,138.56 L147.05,138.56 L147.05,137.74 L145.42,137.74 L145.42,139.37 L144.11,139.37 L144.11,137.74 L142.97,137.74 L142.97,138.56 L141.34,138.56 L141.34,136.92 L140.20,136.92 L140.20,134.48 L139.22,134.48 L139.22,132.03 L138.57,132.03Z" fill="#0000ff" fill-rule="nonzero"/><rect x="147.20" y="95.90" width="1.60" height="1.60" fill="#0000ff"/>
<line x1="132.5" y1="163.8" x2="135.5" y2="163.8" stroke="#555" stroke-width="0.9"/>
<line x1="220.0" y1="163.8" x2="223.0" y2="163.8" stroke="#555" stroke-width="0.9"/>
<line x1="132.5" y1="155.0" x2="134.1" y2="155.0" stroke="#555" stroke-width="0.9"/>
<line x1="221.4" y1="155.0" x2="223.0" y2="155.0" stroke="#555" stroke-width="0.9"/>
<line x1="132.5" y1="146.1" x2="135.5" y2="146.1" stroke="#555" stroke-width="0.9"/>
<line x1="220.0" y1="146.1" x2="223.0" y2="146.1" stroke="#555" stroke-width="0.9"/>
<line x1="132.5" y1="137.2" x2="134.1" y2="137.2" stroke="#555" stroke-width="0.9"/>
<line x1="221.4" y1="137.2" x2="223.0" y2="137.2" stroke="#555" stroke-width="0.9"/>
<line x1="132.5" y1="128.4" x2="135.5" y2="128.4" stroke="#555" stroke-width="0.9"/>
<line x1="220.0" y1="128.4" x2="223.0" y2="128.4" stroke="#555" stroke-width="0.9"/>
<line x1="132.5" y1="119.6" x2="134.1" y2="119.6" stroke="#555" stroke-width="0.9"/>
<line x1="221.4" y1="119.6" x2="223.0" y2="119.6" stroke="#555" stroke-width="0.9"/>
<line x1="132.5" y1="110.7" x2="135.5" y2="110.7" stroke="#555" stroke-width="0.9"/>
<line x1="220.0" y1="110.7" x2="223.0" y2="110.7" stroke="#555" stroke-width="0.9"/>
<line x1="132.5" y1="101.9" x2="134.1" y2="101.9" stroke="#555" stroke-width="0.9"/>
<line x1="221.4" y1="101.9" x2="223.0" y2="101.9" stroke="#555" stroke-width="0.9"/>
<line x1="132.5" y1="93.0" x2="135.5" y2="93.0" stroke="#555" stroke-width="0.9"/>
<line x1="220.0" y1="93.0" x2="223.0" y2="93.0" stroke="#555" stroke-width="0.9"/>
<line x1="139.5" y1="169.5" x2="139.5" y2="166.5" stroke="#555" stroke-width="0.9"/>
<line x1="139.5" y1="87.4" x2="139.5" y2="90.4" stroke="#555" stroke-width="0.9"/>
<line x1="153.4" y1="169.5" x2="153.4" y2="167.5" stroke="#555" stroke-width="0.9"/>
<line x1="153.4" y1="87.4" x2="153.4" y2="89.4" stroke="#555" stroke-width="0.9"/>
<line x1="167.3" y1="169.5" x2="167.3" y2="166.5" stroke="#555" stroke-width="0.9"/>
<line x1="167.3" y1="87.4" x2="167.3" y2="90.4" stroke="#555" stroke-width="0.9"/>
<line x1="181.2" y1="169.5" x2="181.2" y2="167.5" stroke="#555" stroke-width="0.9"/>
<line x1="181.2" y1="87.4" x2="181.2" y2="89.4" stroke="#555" stroke-width="0.9"/>
<line x1="195.2" y1="169.5" x2="195.2" y2="166.5" stroke="#555" stroke-width="0.9"/>
<line x1="195.2" y1="87.4" x2="195.2" y2="90.4" stroke="#555" stroke-width="0.9"/>
<line x1="209.1" y1="169.5" x2="209.1" y2="167.5" stroke="#555" stroke-width="0.9"/>
<line x1="209.1" y1="87.4" x2="209.1" y2="89.4" stroke="#555" stroke-width="0.9"/>
<rect x="132.5" y="87.4" width="90.5" height="82.1" fill="none" stroke="#8a8a8a" stroke-width="1"/>
<text x="164.7" y="100.3" class="t">IGSO &#160;C07</text>
<line x1="234.6" y1="163.8" x2="323.3" y2="163.8" stroke="#b4b4b4" stroke-width="0.8" stroke-dasharray="0.8 1.7"/>
<line x1="234.6" y1="155.0" x2="323.3" y2="155.0" stroke="#b4b4b4" stroke-width="0.8" stroke-dasharray="0.8 1.7"/>
<line x1="234.6" y1="146.1" x2="323.3" y2="146.1" stroke="#b4b4b4" stroke-width="0.8" stroke-dasharray="0.8 1.7"/>
<line x1="234.6" y1="137.2" x2="323.3" y2="137.2" stroke="#b4b4b4" stroke-width="0.8" stroke-dasharray="0.8 1.7"/>
<line x1="234.6" y1="128.4" x2="323.3" y2="128.4" stroke="#b4b4b4" stroke-width="0.8" stroke-dasharray="0.8 1.7"/>
<line x1="234.6" y1="119.6" x2="323.3" y2="119.6" stroke="#b4b4b4" stroke-width="0.8" stroke-dasharray="0.8 1.7"/>
<line x1="234.6" y1="110.7" x2="323.3" y2="110.7" stroke="#b4b4b4" stroke-width="0.8" stroke-dasharray="0.8 1.7"/>
<line x1="234.6" y1="101.9" x2="323.3" y2="101.9" stroke="#b4b4b4" stroke-width="0.8" stroke-dasharray="0.8 1.7"/>
<line x1="234.6" y1="93.0" x2="323.3" y2="93.0" stroke="#b4b4b4" stroke-width="0.8" stroke-dasharray="0.8 1.7"/>
<path d="M240.08,121.47 L240.08,122.12 L241.08,122.12 L241.08,120.37 L242.08,120.37 L242.08,120.54 L243.08,120.54 L243.08,118.51 L244.08,118.51 L244.08,119.69 L245.08,119.69 L245.08,120.58 L246.08,120.58 L246.08,122.03 L247.08,122.03 L247.08,120.91 L248.08,120.91 L248.08,121.21 L249.08,121.21 L249.08,121.89 L250.08,121.89 L250.08,121.59 L251.08,121.59 L251.08,119.98 L252.08,119.98 L252.08,119.55 L253.08,119.55 L253.08,117.83 L254.08,117.83 L254.08,114.71 L255.08,114.71 L255.08,113.93 L256.08,113.93 L256.08,118.63 L257.08,118.63 L257.08,119.14 L258.08,119.14 L258.08,119.60 L259.08,119.60 L259.08,102.69 L260.08,102.69 L260.08,100.98 L261.08,100.98 L261.08,118.48 L262.08,118.48 L262.08,119.37 L263.08,119.37 L263.08,118.10 L264.08,118.10 L264.08,119.63 L265.08,119.63 L265.08,116.84 L266.08,116.84 L266.08,105.05 L267.08,105.05 L267.08,101.99 L268.08,101.99 L268.08,110.29 L269.08,110.29 L269.08,103.14 L270.08,103.14 L270.08,116.40 L271.08,116.40 L271.08,121.59 L272.08,121.59 L272.08,119.23 L273.08,119.23 L273.08,118.55 L274.08,118.55 L274.08,118.63 L275.08,118.63 L275.08,118.90 L276.08,118.90 L276.08,118.07 L277.08,118.07 L277.08,119.66 L278.08,119.66 L278.08,119.78 L279.08,119.78 L279.08,119.07 L280.08,119.07 L280.08,119.88 L281.08,119.88 L281.08,119.61 L282.08,119.61 L282.08,118.03 L283.08,118.03 L283.08,117.02 L284.08,117.02 L284.08,119.07 L285.08,119.07 L285.08,118.73 L286.08,118.73 L286.08,118.28 L287.08,118.28 L287.08,119.39 L288.08,119.39 L288.08,118.64 L289.08,118.64 L289.08,118.34 L290.08,118.34 L290.08,118.97 L291.08,118.97 L291.08,118.90 L292.08,118.90 L292.08,119.89 L293.08,119.89 L293.08,118.53 L294.08,118.53 L294.08,119.53 L295.08,119.53 L295.08,119.15 L296.08,119.15 L296.08,118.34 L297.08,118.34 L297.08,117.93 L298.08,117.93 L298.08,118.44 L299.08,118.44 L299.08,117.18 L300.08,117.18 L300.08,119.25 L301.08,119.25 L301.08,118.13 L302.08,118.13 L302.08,119.07 L303.08,119.07 L303.08,118.50 L304.08,118.50 L304.08,117.11 L305.08,117.11 L305.08,118.52 L306.08,118.52 L306.08,118.41 L307.08,118.41 L307.08,119.98 L308.08,119.98 L308.08,119.41 L309.08,119.41 L309.08,121.10 L310.08,121.10 L310.08,110.96 L311.08,110.96 L311.08,105.30 L312.08,105.30 L312.08,120.58 L313.08,120.58 L313.08,119.69 L314.08,119.69 L314.08,104.29 L315.08,104.29 L315.08,104.86 L316.08,104.86 L316.08,121.37 L317.08,121.37 L317.08,120.84 L318.08,120.84 L318.08,124.26 L318.38,124.26 L318.38,123.91 L318.38,128.16 L318.38,129.34 L318.08,129.34 L318.08,131.97 L317.08,131.97 L317.08,136.26 L316.08,136.26 L316.08,154.87 L315.08,154.87 L315.08,155.64 L314.08,155.64 L314.08,138.12 L313.08,138.12 L313.08,140.55 L312.08,140.55 L312.08,154.26 L311.08,154.26 L311.08,149.34 L310.08,149.34 L310.08,135.80 L309.08,135.80 L309.08,137.18 L308.08,137.18 L308.08,135.08 L307.08,135.08 L307.08,135.64 L306.08,135.64 L306.08,136.43 L305.08,136.43 L305.08,136.09 L304.08,136.09 L304.08,137.25 L303.08,137.25 L303.08,136.74 L302.08,136.74 L302.08,136.25 L301.08,136.25 L301.08,137.51 L300.08,137.51 L300.08,138.01 L299.08,138.01 L299.08,139.06 L298.08,139.06 L298.08,137.36 L297.08,137.36 L297.08,137.28 L296.08,137.28 L296.08,139.05 L295.08,139.05 L295.08,137.73 L294.08,137.73 L294.08,137.37 L293.08,137.37 L293.08,139.40 L292.08,139.40 L292.08,139.48 L291.08,139.48 L291.08,140.19 L290.08,140.19 L290.08,139.55 L289.08,139.55 L289.08,137.84 L288.08,137.84 L288.08,137.11 L287.08,137.11 L287.08,136.95 L286.08,136.95 L286.08,137.48 L285.08,137.48 L285.08,137.68 L284.08,137.68 L284.08,137.57 L283.08,137.57 L283.08,138.87 L282.08,138.87 L282.08,137.31 L281.08,137.31 L281.08,135.96 L280.08,135.96 L280.08,137.59 L279.08,137.59 L279.08,135.90 L278.08,135.90 L278.08,136.79 L277.08,136.79 L277.08,135.16 L276.08,135.16 L276.08,135.77 L275.08,135.77 L275.08,137.41 L274.08,137.41 L274.08,136.47 L273.08,136.47 L273.08,136.47 L272.08,136.47 L272.08,137.29 L271.08,137.29 L271.08,140.85 L270.08,140.85 L270.08,152.40 L269.08,152.40 L269.08,142.74 L268.08,142.74 L268.08,148.66 L267.08,148.66 L267.08,151.36 L266.08,151.36 L266.08,136.70 L265.08,136.70 L265.08,141.03 L264.08,141.03 L264.08,144.12 L263.08,144.12 L263.08,144.38 L262.08,144.38 L262.08,142.93 L261.08,142.93 L261.08,150.12 L260.08,150.12 L260.08,155.34 L259.08,155.34 L259.08,136.08 L258.08,136.08 L258.08,136.14 L257.08,136.14 L257.08,136.98 L256.08,136.98 L256.08,136.06 L255.08,136.06 L255.08,137.83 L254.08,137.83 L254.08,136.90 L253.08,136.90 L253.08,137.46 L252.08,137.46 L252.08,136.41 L251.08,136.41 L251.08,135.57 L250.08,135.57 L250.08,134.71 L249.08,134.71 L249.08,135.78 L248.08,135.78 L248.08,136.00 L247.08,136.00 L247.08,135.03 L246.08,135.03 L246.08,135.43 L245.08,135.43 L245.08,138.73 L244.08,138.73 L244.08,140.16 L243.08,140.16 L243.08,135.87 L242.08,135.87 L242.08,136.00 L241.08,136.00 L241.08,132.97 L240.08,132.97 L240.08,131.42Z M240.08,122.17 L240.89,122.17 L240.89,121.84 L242.52,121.84 L242.52,120.54 L243.34,120.54 L243.34,118.91 L244.48,118.91 L244.48,119.23 L244.97,119.23 L244.97,121.84 L246.60,121.84 L246.60,122.17 L248.23,122.17 L248.23,122.17 L249.87,122.17 L249.87,121.84 L251.50,121.84 L251.50,121.35 L253.13,121.35 L253.13,120.54 L253.94,120.54 L253.94,117.27 L254.76,117.27 L254.76,114.83 L255.57,114.83 L255.57,114.83 L256.06,114.83 L256.06,119.72 L257.21,119.72 L257.21,120.54 L258.84,120.54 L258.84,119.72 L259.33,119.72 L259.33,102.59 L260.79,102.59 L260.79,102.59 L261.28,102.59 L261.28,118.91 L262.91,118.91 L262.91,119.72 L264.55,119.72 L264.55,119.72 L265.36,119.72 L265.36,118.09 L266.18,118.09 L266.18,118.91 L266.67,118.91 L266.67,102.59 L267.81,102.59 L267.81,102.59 L268.30,102.59 L268.30,115.64 L268.95,115.64 L268.95,104.22 L269.60,104.22 L269.60,104.22 L269.93,104.22 L269.93,114.01 L270.58,114.01 L270.58,117.27 L271.23,117.27 L271.23,122.98 L272.21,122.98 L272.21,120.54 L273.52,120.54 L273.52,118.91 L275.15,118.91 L275.15,119.72 L276.78,119.72 L276.78,119.72 L278.41,119.72 L278.41,120.54 L280.04,120.54 L280.04,120.21 L281.67,120.21 L281.67,119.72 L283.30,119.72 L283.30,118.09 L284.12,118.09 L284.12,118.91 L284.94,118.91 L284.94,120.54 L286.57,120.54 L286.57,119.72 L288.20,119.72 L288.20,120.54 L289.83,120.54 L289.83,118.91 L291.46,118.91 L291.46,120.54 L293.09,120.54 L293.09,120.21 L294.72,120.21 L294.72,119.72 L296.35,119.72 L296.35,118.91 L297.99,118.91 L297.99,119.72 L299.62,119.72 L299.62,118.09 L301.25,118.09 L301.25,119.72 L302.88,119.72 L302.88,118.91 L304.51,118.91 L304.51,117.27 L305.33,117.27 L305.33,118.09 L306.14,118.09 L306.14,119.72 L307.77,119.72 L307.77,119.72 L309.40,119.72 L309.40,120.54 L310.22,120.54 L310.22,122.17 L310.71,122.17 L310.71,106.67 L312.01,106.67 L312.01,106.67 L312.34,106.67 L312.34,120.54 L313.48,120.54 L313.48,121.35 L314.30,121.35 L314.30,105.86 L315.93,105.86 L315.93,105.86 L316.26,105.86 L316.26,121.35 L317.56,121.35 L317.56,122.17 L318.38,122.17 L318.38,124.61 L318.38,127.46 L318.38,132.35 L317.56,132.35 L317.56,137.24 L316.26,137.24 L316.26,154.37 L315.93,154.37 L315.93,154.37 L314.30,154.37 L314.30,136.43 L313.97,136.43 L313.97,137.24 L312.67,137.24 L312.67,154.37 L312.01,154.37 L312.01,154.37 L310.71,154.37 L310.71,135.61 L310.22,135.61 L310.22,135.61 L308.59,135.61 L308.59,134.80 L306.96,134.80 L306.96,135.61 L305.33,135.61 L305.33,136.43 L303.70,136.43 L303.70,135.61 L302.06,135.61 L302.06,137.24 L300.43,137.24 L300.43,138.87 L298.80,138.87 L298.80,137.24 L297.17,137.24 L297.17,138.06 L295.54,138.06 L295.54,137.24 L293.91,137.24 L293.91,138.06 L292.28,138.06 L292.28,139.69 L290.65,139.69 L290.65,138.06 L289.01,138.06 L289.01,137.24 L287.38,137.24 L287.38,137.24 L285.75,137.24 L285.75,136.43 L284.12,136.43 L284.12,137.24 L282.49,137.24 L282.49,135.61 L280.86,135.61 L280.86,136.43 L279.23,136.43 L279.23,135.61 L277.60,135.61 L277.60,134.80 L275.96,134.80 L275.96,136.43 L274.33,136.43 L274.33,135.61 L272.70,135.61 L272.70,135.61 L271.23,135.61 L271.23,140.51 L270.58,140.51 L270.58,151.11 L270.26,151.11 L270.26,151.11 L269.11,151.11 L269.11,142.14 L268.62,142.14 L268.62,143.77 L267.97,143.77 L267.97,150.29 L267.32,150.29 L267.32,149.48 L266.34,149.48 L266.34,137.24 L265.85,137.24 L265.85,136.43 L265.36,136.43 L265.36,139.69 L264.55,139.69 L264.55,142.95 L263.73,142.95 L263.73,144.58 L262.91,144.58 L262.91,142.14 L262.10,142.14 L262.10,140.51 L260.79,140.51 L260.79,154.37 L260.47,154.37 L260.47,154.37 L259.16,154.37 L259.16,134.80 L258.84,134.80 L258.84,136.43 L258.02,136.43 L258.02,135.61 L256.39,135.61 L256.39,136.43 L254.76,136.43 L254.76,135.61 L253.13,135.61 L253.13,136.43 L251.50,136.43 L251.50,134.80 L249.87,134.80 L249.87,135.61 L248.23,135.61 L248.23,134.80 L246.60,134.80 L246.60,135.61 L244.97,135.61 L244.97,138.87 L244.16,138.87 L244.16,139.69 L243.34,139.69 L243.34,135.61 L242.52,135.61 L242.52,133.98 L240.89,133.98 L240.89,130.72 L240.08,130.72Z" fill="#0000ff" fill-rule="nonzero"/><rect x="248.20" y="95.90" width="1.60" height="1.60" fill="#0000ff"/><rect x="269.20" y="103.20" width="1.60" height="1.60" fill="#0000ff"/>
<line x1="233.6" y1="163.8" x2="236.6" y2="163.8" stroke="#555" stroke-width="0.9"/>
<line x1="321.3" y1="163.8" x2="324.3" y2="163.8" stroke="#555" stroke-width="0.9"/>
<line x1="233.6" y1="155.0" x2="235.2" y2="155.0" stroke="#555" stroke-width="0.9"/>
<line x1="322.7" y1="155.0" x2="324.3" y2="155.0" stroke="#555" stroke-width="0.9"/>
<line x1="233.6" y1="146.1" x2="236.6" y2="146.1" stroke="#555" stroke-width="0.9"/>
<line x1="321.3" y1="146.1" x2="324.3" y2="146.1" stroke="#555" stroke-width="0.9"/>
<line x1="233.6" y1="137.2" x2="235.2" y2="137.2" stroke="#555" stroke-width="0.9"/>
<line x1="322.7" y1="137.2" x2="324.3" y2="137.2" stroke="#555" stroke-width="0.9"/>
<line x1="233.6" y1="128.4" x2="236.6" y2="128.4" stroke="#555" stroke-width="0.9"/>
<line x1="321.3" y1="128.4" x2="324.3" y2="128.4" stroke="#555" stroke-width="0.9"/>
<line x1="233.6" y1="119.6" x2="235.2" y2="119.6" stroke="#555" stroke-width="0.9"/>
<line x1="322.7" y1="119.6" x2="324.3" y2="119.6" stroke="#555" stroke-width="0.9"/>
<line x1="233.6" y1="110.7" x2="236.6" y2="110.7" stroke="#555" stroke-width="0.9"/>
<line x1="321.3" y1="110.7" x2="324.3" y2="110.7" stroke="#555" stroke-width="0.9"/>
<line x1="233.6" y1="101.9" x2="235.2" y2="101.9" stroke="#555" stroke-width="0.9"/>
<line x1="322.7" y1="101.9" x2="324.3" y2="101.9" stroke="#555" stroke-width="0.9"/>
<line x1="233.6" y1="93.0" x2="236.6" y2="93.0" stroke="#555" stroke-width="0.9"/>
<line x1="321.3" y1="93.0" x2="324.3" y2="93.0" stroke="#555" stroke-width="0.9"/>
<line x1="240.6" y1="169.5" x2="240.6" y2="166.5" stroke="#555" stroke-width="0.9"/>
<line x1="240.6" y1="87.4" x2="240.6" y2="90.4" stroke="#555" stroke-width="0.9"/>
<line x1="254.6" y1="169.5" x2="254.6" y2="167.5" stroke="#555" stroke-width="0.9"/>
<line x1="254.6" y1="87.4" x2="254.6" y2="89.4" stroke="#555" stroke-width="0.9"/>
<line x1="268.5" y1="169.5" x2="268.5" y2="166.5" stroke="#555" stroke-width="0.9"/>
<line x1="268.5" y1="87.4" x2="268.5" y2="90.4" stroke="#555" stroke-width="0.9"/>
<line x1="282.4" y1="169.5" x2="282.4" y2="167.5" stroke="#555" stroke-width="0.9"/>
<line x1="282.4" y1="87.4" x2="282.4" y2="89.4" stroke="#555" stroke-width="0.9"/>
<line x1="296.4" y1="169.5" x2="296.4" y2="166.5" stroke="#555" stroke-width="0.9"/>
<line x1="296.4" y1="87.4" x2="296.4" y2="90.4" stroke="#555" stroke-width="0.9"/>
<line x1="310.4" y1="169.5" x2="310.4" y2="167.5" stroke="#555" stroke-width="0.9"/>
<line x1="310.4" y1="87.4" x2="310.4" y2="89.4" stroke="#555" stroke-width="0.9"/>
<rect x="233.6" y="87.4" width="90.7" height="82.1" fill="none" stroke="#8a8a8a" stroke-width="1"/>
<text x="266.0" y="100.3" class="t">IGSO &#160;C08</text>
<line x1="335.8" y1="163.8" x2="424.8" y2="163.8" stroke="#b4b4b4" stroke-width="0.8" stroke-dasharray="0.8 1.7"/>
<line x1="335.8" y1="155.0" x2="424.8" y2="155.0" stroke="#b4b4b4" stroke-width="0.8" stroke-dasharray="0.8 1.7"/>
<line x1="335.8" y1="146.1" x2="424.8" y2="146.1" stroke="#b4b4b4" stroke-width="0.8" stroke-dasharray="0.8 1.7"/>
<line x1="335.8" y1="137.2" x2="424.8" y2="137.2" stroke="#b4b4b4" stroke-width="0.8" stroke-dasharray="0.8 1.7"/>
<line x1="335.8" y1="128.4" x2="424.8" y2="128.4" stroke="#b4b4b4" stroke-width="0.8" stroke-dasharray="0.8 1.7"/>
<line x1="335.8" y1="119.6" x2="424.8" y2="119.6" stroke="#b4b4b4" stroke-width="0.8" stroke-dasharray="0.8 1.7"/>
<line x1="335.8" y1="110.7" x2="424.8" y2="110.7" stroke="#b4b4b4" stroke-width="0.8" stroke-dasharray="0.8 1.7"/>
<line x1="335.8" y1="101.9" x2="424.8" y2="101.9" stroke="#b4b4b4" stroke-width="0.8" stroke-dasharray="0.8 1.7"/>
<line x1="335.8" y1="93.0" x2="424.8" y2="93.0" stroke="#b4b4b4" stroke-width="0.8" stroke-dasharray="0.8 1.7"/>
<path d="M341.08,121.21 L341.08,120.83 L342.08,120.83 L342.08,121.37 L343.08,121.37 L343.08,122.86 L344.08,122.86 L344.08,121.79 L345.08,121.79 L345.08,122.28 L346.08,122.28 L346.08,122.54 L347.08,122.54 L347.08,121.17 L348.08,121.17 L348.08,120.28 L349.08,120.28 L349.08,117.94 L350.08,117.94 L350.08,119.19 L351.08,119.19 L351.08,117.74 L352.08,117.74 L352.08,118.03 L353.08,118.03 L353.08,119.96 L354.08,119.96 L354.08,122.35 L355.08,122.35 L355.08,120.32 L356.08,120.32 L356.08,121.14 L357.08,121.14 L357.08,121.61 L358.08,121.61 L358.08,119.21 L359.08,119.21 L359.08,118.58 L360.08,118.58 L360.08,119.49 L361.08,119.49 L361.08,120.46 L362.08,120.46 L362.08,121.23 L363.08,121.23 L363.08,120.87 L364.08,120.87 L364.08,114.95 L365.08,114.95 L365.08,113.54 L366.08,113.54 L366.08,120.81 L367.08,120.81 L367.08,120.30 L368.08,120.30 L368.08,121.40 L369.08,121.40 L369.08,120.19 L370.08,120.19 L370.08,106.96 L371.08,106.96 L371.08,105.54 L372.08,105.54 L372.08,122.77 L373.08,122.77 L373.08,121.07 L374.08,121.07 L374.08,119.88 L375.08,119.88 L375.08,119.81 L376.08,119.81 L376.08,119.52 L377.08,119.52 L377.08,119.84 L378.08,119.84 L378.08,119.60 L379.08,119.60 L379.08,107.23 L380.08,107.23 L380.08,104.79 L381.08,104.79 L381.08,105.38 L382.08,105.38 L382.08,106.64 L383.08,106.64 L383.08,119.51 L384.08,119.51 L384.08,120.40 L385.08,120.40 L385.08,120.63 L386.08,120.63 L386.08,120.24 L387.08,120.24 L387.08,121.32 L388.08,121.32 L388.08,121.58 L389.08,121.58 L389.08,122.79 L390.08,122.79 L390.08,122.76 L391.08,122.76 L391.08,122.37 L392.08,122.37 L392.08,123.12 L393.08,123.12 L393.08,123.77 L394.08,123.77 L394.08,122.03 L395.08,122.03 L395.08,122.85 L396.08,122.85 L396.08,120.62 L397.08,120.62 L397.08,120.50 L398.08,120.50 L398.08,119.45 L399.08,119.45 L399.08,119.77 L400.08,119.77 L400.08,119.67 L401.08,119.67 L401.08,118.05 L402.08,118.05 L402.08,117.06 L403.08,117.06 L403.08,119.10 L404.08,119.10 L404.08,118.77 L405.08,118.77 L405.08,119.12 L406.08,119.12 L406.08,121.03 L407.08,121.03 L407.08,119.78 L408.08,119.78 L408.08,119.26 L409.08,119.26 L409.08,120.10 L410.08,120.10 L410.08,121.71 L411.08,121.71 L411.08,121.50 L412.08,121.50 L412.08,123.24 L413.08,123.24 L413.08,122.87 L414.08,122.87 L414.08,122.69 L415.08,122.69 L415.08,121.35 L416.08,121.35 L416.08,119.80 L417.08,119.80 L417.08,117.44 L418.08,117.44 L418.08,117.70 L419.08,117.70 L419.08,122.70 L419.38,122.70 L419.38,124.47 L419.38,131.81 L419.38,132.28 L419.08,132.28 L419.08,136.96 L418.08,136.96 L418.08,151.62 L417.08,151.62 L417.08,143.86 L416.08,143.86 L416.08,136.01 L415.08,136.01 L415.08,134.05 L414.08,134.05 L414.08,134.70 L413.08,134.70 L413.08,134.30 L412.08,134.30 L412.08,135.03 L411.08,135.03 L411.08,134.56 L410.08,134.56 L410.08,135.06 L409.08,135.06 L409.08,135.09 L408.08,135.09 L408.08,138.04 L407.08,138.04 L407.08,138.61 L406.08,138.61 L406.08,138.11 L405.08,138.11 L405.08,138.03 L404.08,138.03 L404.08,137.37 L403.08,137.37 L403.08,137.91 L402.08,137.91 L402.08,135.96 L401.08,135.96 L401.08,137.00 L400.08,137.00 L400.08,135.21 L399.08,135.21 L399.08,135.35 L398.08,135.35 L398.08,135.48 L397.08,135.48 L397.08,134.76 L396.08,134.76 L396.08,136.10 L395.08,136.10 L395.08,135.92 L394.08,135.92 L394.08,136.38 L393.08,136.38 L393.08,137.86 L392.08,137.86 L392.08,136.90 L391.08,136.90 L391.08,136.87 L390.08,136.87 L390.08,136.33 L389.08,136.33 L389.08,138.25 L388.08,138.25 L388.08,136.76 L387.08,136.76 L387.08,136.53 L386.08,136.53 L386.08,137.72 L385.08,137.72 L385.08,137.35 L384.08,137.35 L384.08,137.80 L383.08,137.80 L383.08,138.29 L382.08,138.29 L382.08,140.09 L381.08,140.09 L381.08,140.88 L380.08,140.88 L380.08,140.68 L379.08,140.68 L379.08,141.28 L378.08,141.28 L378.08,138.96 L377.08,138.96 L377.08,137.96 L376.08,137.96 L376.08,137.34 L375.08,137.34 L375.08,137.03 L374.08,137.03 L374.08,136.54 L373.08,136.54 L373.08,136.15 L372.08,136.15 L372.08,152.17 L371.08,152.17 L371.08,152.24 L370.08,152.24 L370.08,136.61 L369.08,136.61 L369.08,137.32 L368.08,137.32 L368.08,138.07 L367.08,138.07 L367.08,141.66 L366.08,141.66 L366.08,149.82 L365.08,149.82 L365.08,137.45 L364.08,137.45 L364.08,136.86 L363.08,136.86 L363.08,135.28 L362.08,135.28 L362.08,137.43 L361.08,137.43 L361.08,137.79 L360.08,137.79 L360.08,138.28 L359.08,138.28 L359.08,137.87 L358.08,137.87 L358.08,138.83 L357.08,138.83 L357.08,138.28 L356.08,138.28 L356.08,138.63 L355.08,138.63 L355.08,137.73 L354.08,137.73 L354.08,137.10 L353.08,137.10 L353.08,139.29 L352.08,139.29 L352.08,142.82 L351.08,142.82 L351.08,140.27 L350.08,140.27 L350.08,136.57 L349.08,136.57 L349.08,136.47 L348.08,136.47 L348.08,136.72 L347.08,136.72 L347.08,134.18 L346.08,134.18 L346.08,133.52 L345.08,133.52 L345.08,133.54 L344.08,133.54 L344.08,135.08 L343.08,135.08 L343.08,134.00 L342.08,134.00 L342.08,139.33 L341.08,139.33 L341.08,132.62Z M341.08,121.91 L341.89,121.91 L341.89,121.09 L343.20,121.09 L343.20,123.54 L344.34,123.54 L344.34,122.72 L345.97,122.72 L345.97,121.91 L347.11,121.91 L347.11,123.54 L348.42,123.54 L348.42,120.27 L349.72,120.27 L349.72,119.46 L350.87,119.46 L350.87,119.95 L352.01,119.95 L352.01,117.83 L352.99,117.83 L352.99,120.27 L354.13,120.27 L354.13,122.72 L355.76,122.72 L355.76,121.91 L357.39,121.91 L357.39,121.58 L359.02,121.58 L359.02,120.27 L360.16,120.27 L360.16,119.46 L361.47,119.46 L361.47,121.09 L363.10,121.09 L363.10,121.91 L363.91,121.91 L363.91,120.27 L364.73,120.27 L364.73,115.38 L365.55,115.38 L365.55,114.57 L366.04,114.57 L366.04,115.38 L366.36,115.38 L366.36,121.91 L367.99,121.91 L367.99,121.91 L369.62,121.91 L369.62,120.27 L370.11,120.27 L370.11,107.22 L371.58,107.22 L371.58,107.22 L372.07,107.22 L372.07,123.54 L373.70,123.54 L373.70,121.09 L375.33,121.09 L375.33,120.27 L376.15,120.27 L376.15,119.46 L376.96,119.46 L376.96,121.09 L378.60,121.09 L378.60,121.09 L379.74,121.09 L379.74,106.41 L381.86,106.41 L381.86,106.41 L382.67,106.41 L382.67,106.90 L383.00,106.90 L383.00,119.46 L384.30,119.46 L384.30,120.27 L385.94,120.27 L385.94,121.09 L387.57,121.09 L387.57,121.91 L389.20,121.91 L389.20,122.72 L390.83,122.72 L390.83,123.54 L392.46,123.54 L392.46,123.54 L394.09,123.54 L394.09,123.54 L395.72,123.54 L395.72,122.72 L397.35,122.72 L397.35,121.91 L398.99,121.91 L398.99,120.27 L400.62,120.27 L400.62,119.46 L401.92,119.46 L401.92,117.83 L403.06,117.83 L403.06,118.32 L403.88,118.32 L403.88,119.46 L405.51,119.46 L405.51,120.27 L406.33,120.27 L406.33,121.09 L407.96,121.09 L407.96,119.95 L408.77,119.95 L408.77,119.46 L410.08,119.46 L410.08,121.09 L411.22,121.09 L411.22,121.91 L412.85,121.91 L412.85,123.54 L414.48,123.54 L414.48,122.72 L416.11,122.72 L416.11,121.91 L416.93,121.91 L416.93,118.64 L417.74,118.64 L417.74,117.83 L418.56,117.83 L418.56,118.64 L419.38,118.64 L419.38,125.17 L419.38,131.11 L419.38,136.82 L418.56,136.82 L418.56,150.03 L418.23,150.03 L418.23,150.03 L416.93,150.03 L416.93,135.19 L416.11,135.19 L416.11,133.56 L414.48,133.56 L414.48,134.37 L412.85,134.37 L412.85,133.56 L411.22,133.56 L411.22,134.37 L409.59,134.37 L409.59,136.00 L407.96,136.00 L407.96,137.63 L406.33,137.63 L406.33,138.45 L404.70,138.45 L404.70,136.82 L403.06,136.82 L403.06,136.00 L401.43,136.00 L401.43,135.19 L399.80,135.19 L399.80,134.37 L398.17,134.37 L398.17,134.37 L396.54,134.37 L396.54,135.19 L394.91,135.19 L394.91,136.00 L393.28,136.00 L393.28,138.45 L392.46,138.45 L392.46,136.00 L391.65,136.00 L391.65,135.19 L390.01,135.19 L390.01,136.82 L388.38,136.82 L388.38,136.00 L386.75,136.00 L386.75,136.82 L385.12,136.82 L385.12,137.63 L383.49,137.63 L383.49,139.26 L381.86,139.26 L381.86,140.90 L380.23,140.90 L380.23,140.08 L378.60,140.08 L378.60,138.45 L376.96,138.45 L376.96,136.82 L375.33,136.82 L375.33,135.19 L373.70,135.19 L373.70,135.19 L372.07,135.19 L372.07,150.85 L371.58,150.85 L371.58,150.85 L370.11,150.85 L370.11,136.82 L369.62,136.82 L369.62,138.45 L366.69,138.45 L366.69,148.24 L366.36,148.24 L366.36,148.24 L365.06,148.24 L365.06,136.00 L364.73,136.00 L364.73,135.19 L363.10,135.19 L363.10,136.00 L361.47,136.00 L361.47,136.82 L359.84,136.82 L359.84,137.63 L358.21,137.63 L358.21,138.45 L356.57,138.45 L356.57,136.82 L354.94,136.82 L354.94,136.00 L353.31,136.00 L353.31,138.45 L352.50,138.45 L352.50,143.34 L352.01,143.34 L352.01,142.53 L350.87,142.53 L350.87,136.82 L350.05,136.82 L350.05,136.00 L348.42,136.00 L348.42,134.37 L346.79,134.37 L346.79,133.56 L345.16,133.56 L345.16,133.56 L343.52,133.56 L343.52,134.37 L342.22,134.37 L342.22,138.45 L341.57,138.45 L341.57,131.92 L341.08,131.92Z" fill="#0000ff" fill-rule="nonzero"/><rect x="416.60" y="109.80" width="1.60" height="1.60" fill="#0000ff"/><rect x="349.70" y="95.90" width="1.60" height="1.60" fill="#0000ff"/>
<line x1="334.8" y1="163.8" x2="337.8" y2="163.8" stroke="#555" stroke-width="0.9"/>
<line x1="422.8" y1="163.8" x2="425.8" y2="163.8" stroke="#555" stroke-width="0.9"/>
<line x1="334.8" y1="155.0" x2="336.40000000000003" y2="155.0" stroke="#555" stroke-width="0.9"/>
<line x1="424.2" y1="155.0" x2="425.8" y2="155.0" stroke="#555" stroke-width="0.9"/>
<line x1="334.8" y1="146.1" x2="337.8" y2="146.1" stroke="#555" stroke-width="0.9"/>
<line x1="422.8" y1="146.1" x2="425.8" y2="146.1" stroke="#555" stroke-width="0.9"/>
<line x1="334.8" y1="137.2" x2="336.40000000000003" y2="137.2" stroke="#555" stroke-width="0.9"/>
<line x1="424.2" y1="137.2" x2="425.8" y2="137.2" stroke="#555" stroke-width="0.9"/>
<line x1="334.8" y1="128.4" x2="337.8" y2="128.4" stroke="#555" stroke-width="0.9"/>
<line x1="422.8" y1="128.4" x2="425.8" y2="128.4" stroke="#555" stroke-width="0.9"/>
<line x1="334.8" y1="119.6" x2="336.40000000000003" y2="119.6" stroke="#555" stroke-width="0.9"/>
<line x1="424.2" y1="119.6" x2="425.8" y2="119.6" stroke="#555" stroke-width="0.9"/>
<line x1="334.8" y1="110.7" x2="337.8" y2="110.7" stroke="#555" stroke-width="0.9"/>
<line x1="422.8" y1="110.7" x2="425.8" y2="110.7" stroke="#555" stroke-width="0.9"/>
<line x1="334.8" y1="101.9" x2="336.40000000000003" y2="101.9" stroke="#555" stroke-width="0.9"/>
<line x1="424.2" y1="101.9" x2="425.8" y2="101.9" stroke="#555" stroke-width="0.9"/>
<line x1="334.8" y1="93.0" x2="337.8" y2="93.0" stroke="#555" stroke-width="0.9"/>
<line x1="422.8" y1="93.0" x2="425.8" y2="93.0" stroke="#555" stroke-width="0.9"/>
<line x1="341.8" y1="169.5" x2="341.8" y2="166.5" stroke="#555" stroke-width="0.9"/>
<line x1="341.8" y1="87.4" x2="341.8" y2="90.4" stroke="#555" stroke-width="0.9"/>
<line x1="355.8" y1="169.5" x2="355.8" y2="167.5" stroke="#555" stroke-width="0.9"/>
<line x1="355.8" y1="87.4" x2="355.8" y2="89.4" stroke="#555" stroke-width="0.9"/>
<line x1="369.8" y1="169.5" x2="369.8" y2="166.5" stroke="#555" stroke-width="0.9"/>
<line x1="369.8" y1="87.4" x2="369.8" y2="90.4" stroke="#555" stroke-width="0.9"/>
<line x1="383.8" y1="169.5" x2="383.8" y2="167.5" stroke="#555" stroke-width="0.9"/>
<line x1="383.8" y1="87.4" x2="383.8" y2="89.4" stroke="#555" stroke-width="0.9"/>
<line x1="397.8" y1="169.5" x2="397.8" y2="166.5" stroke="#555" stroke-width="0.9"/>
<line x1="397.8" y1="87.4" x2="397.8" y2="90.4" stroke="#555" stroke-width="0.9"/>
<line x1="411.8" y1="169.5" x2="411.8" y2="167.5" stroke="#555" stroke-width="0.9"/>
<line x1="411.8" y1="87.4" x2="411.8" y2="89.4" stroke="#555" stroke-width="0.9"/>
<rect x="334.8" y="87.4" width="91.0" height="82.1" fill="none" stroke="#8a8a8a" stroke-width="1"/>
<text x="367.4" y="100.3" class="t">IGSO &#160;C09</text>
<line x1="437.5" y1="163.8" x2="525.8" y2="163.8" stroke="#b4b4b4" stroke-width="0.8" stroke-dasharray="0.8 1.7"/>
<line x1="437.5" y1="155.0" x2="525.8" y2="155.0" stroke="#b4b4b4" stroke-width="0.8" stroke-dasharray="0.8 1.7"/>
<line x1="437.5" y1="146.1" x2="525.8" y2="146.1" stroke="#b4b4b4" stroke-width="0.8" stroke-dasharray="0.8 1.7"/>
<line x1="437.5" y1="137.2" x2="525.8" y2="137.2" stroke="#b4b4b4" stroke-width="0.8" stroke-dasharray="0.8 1.7"/>
<line x1="437.5" y1="128.4" x2="525.8" y2="128.4" stroke="#b4b4b4" stroke-width="0.8" stroke-dasharray="0.8 1.7"/>
<line x1="437.5" y1="119.6" x2="525.8" y2="119.6" stroke="#b4b4b4" stroke-width="0.8" stroke-dasharray="0.8 1.7"/>
<line x1="437.5" y1="110.7" x2="525.8" y2="110.7" stroke="#b4b4b4" stroke-width="0.8" stroke-dasharray="0.8 1.7"/>
<line x1="437.5" y1="101.9" x2="525.8" y2="101.9" stroke="#b4b4b4" stroke-width="0.8" stroke-dasharray="0.8 1.7"/>
<line x1="437.5" y1="93.0" x2="525.8" y2="93.0" stroke="#b4b4b4" stroke-width="0.8" stroke-dasharray="0.8 1.7"/>
<path d="M442.57,122.84 L442.57,119.49 L443.57,119.49 L443.57,115.29 L444.57,115.29 L444.57,112.75 L445.57,112.75 L445.57,112.30 L446.57,112.30 L446.57,107.39 L447.57,107.39 L447.57,109.51 L448.57,109.51 L448.57,111.75 L449.57,111.75 L449.57,111.30 L450.57,111.30 L450.57,113.24 L451.57,113.24 L451.57,113.14 L452.57,113.14 L452.57,113.58 L453.57,113.58 L453.57,115.34 L454.57,115.34 L454.57,117.05 L455.57,117.05 L455.57,116.16 L456.57,116.16 L456.57,115.91 L457.57,115.91 L457.57,109.79 L458.57,109.79 L458.57,110.96 L459.57,110.96 L459.57,111.79 L460.57,111.79 L460.57,113.78 L461.57,113.78 L461.57,112.83 L462.57,112.83 L462.57,113.38 L463.57,113.38 L463.57,115.03 L464.57,115.03 L464.57,112.73 L465.57,112.73 L465.57,114.60 L466.57,114.60 L466.57,114.11 L467.57,114.11 L467.57,110.85 L468.57,110.85 L468.57,105.73 L469.57,105.73 L469.57,106.42 L470.57,106.42 L470.57,112.45 L471.57,112.45 L471.57,111.64 L472.57,111.64 L472.57,115.60 L473.57,115.60 L473.57,118.42 L474.57,118.42 L474.57,117.73 L475.57,117.73 L475.57,116.92 L476.57,116.92 L476.57,114.94 L477.57,114.94 L477.57,115.97 L478.57,115.97 L478.57,117.64 L479.57,117.64 L479.57,116.69 L480.57,116.69 L480.57,114.91 L481.57,114.91 L481.57,115.33 L482.57,115.33 L482.57,116.93 L483.57,116.93 L483.57,114.72 L484.57,114.72 L484.57,110.88 L485.57,110.88 L485.57,110.84 L486.57,110.84 L486.57,113.78 L487.57,113.78 L487.57,115.06 L488.57,115.06 L488.57,113.37 L489.57,113.37 L489.57,111.86 L490.57,111.86 L490.57,109.59 L491.57,109.59 L491.57,109.47 L492.57,109.47 L492.57,112.11 L493.57,112.11 L493.57,113.13 L494.57,113.13 L494.57,114.55 L495.57,114.55 L495.57,114.65 L496.57,114.65 L496.57,114.78 L497.57,114.78 L497.57,112.16 L498.57,112.16 L498.57,110.03 L499.57,110.03 L499.57,112.40 L500.57,112.40 L500.57,112.63 L501.57,112.63 L501.57,114.60 L502.57,114.60 L502.57,117.05 L503.57,117.05 L503.57,117.41 L504.57,117.41 L504.57,117.23 L505.57,117.23 L505.57,115.65 L506.57,115.65 L506.57,113.79 L507.57,113.79 L507.57,113.42 L508.57,113.42 L508.57,112.84 L509.57,112.84 L509.57,112.83 L510.57,112.83 L510.57,112.96 L511.57,112.96 L511.57,112.78 L512.57,112.78 L512.57,114.42 L513.57,114.42 L513.57,113.33 L514.57,113.33 L514.57,112.10 L515.57,112.10 L515.57,112.26 L516.57,112.26 L516.57,114.05 L517.57,114.05 L517.57,115.60 L518.57,115.60 L518.57,116.73 L519.57,116.73 L519.57,120.21 L520.38,120.21 L520.38,122.02 L520.38,131.05 L520.38,141.04 L519.57,141.04 L519.57,150.69 L518.57,150.69 L518.57,147.23 L517.57,147.23 L517.57,139.95 L516.57,139.95 L516.57,139.95 L515.57,139.95 L515.57,139.41 L514.57,139.41 L514.57,139.41 L513.57,139.41 L513.57,140.65 L512.57,140.65 L512.57,141.71 L511.57,141.71 L511.57,143.60 L510.57,143.60 L510.57,145.03 L509.57,145.03 L509.57,140.39 L508.57,140.39 L508.57,141.05 L507.57,141.05 L507.57,142.08 L506.57,142.08 L506.57,142.68 L505.57,142.68 L505.57,139.70 L504.57,139.70 L504.57,138.70 L503.57,138.70 L503.57,138.05 L502.57,138.05 L502.57,138.24 L501.57,138.24 L501.57,138.29 L500.57,138.29 L500.57,138.83 L499.57,138.83 L499.57,137.19 L498.57,137.19 L498.57,139.09 L497.57,139.09 L497.57,138.98 L496.57,138.98 L496.57,138.87 L495.57,138.87 L495.57,138.41 L494.57,138.41 L494.57,139.67 L493.57,139.67 L493.57,139.19 L492.57,139.19 L492.57,141.89 L491.57,141.89 L491.57,144.64 L490.57,144.64 L490.57,145.05 L489.57,145.05 L489.57,143.60 L488.57,143.60 L488.57,142.54 L487.57,142.54 L487.57,140.76 L486.57,140.76 L486.57,139.83 L485.57,139.83 L485.57,138.26 L484.57,138.26 L484.57,138.47 L483.57,138.47 L483.57,138.61 L482.57,138.61 L482.57,139.27 L481.57,139.27 L481.57,138.12 L480.57,138.12 L480.57,138.91 L479.57,138.91 L479.57,139.01 L478.57,139.01 L478.57,138.74 L477.57,138.74 L477.57,138.84 L476.57,138.84 L476.57,138.51 L475.57,138.51 L475.57,138.10 L474.57,138.10 L474.57,136.46 L473.57,136.46 L473.57,136.97 L472.57,136.97 L472.57,146.15 L471.57,146.15 L471.57,147.16 L470.57,147.16 L470.57,146.60 L469.57,146.60 L469.57,144.53 L468.57,144.53 L468.57,143.08 L467.57,143.08 L467.57,141.76 L466.57,141.76 L466.57,139.54 L465.57,139.54 L465.57,140.99 L464.57,140.99 L464.57,143.68 L463.57,143.68 L463.57,143.78 L462.57,143.78 L462.57,142.06 L461.57,142.06 L461.57,141.05 L460.57,141.05 L460.57,144.26 L459.57,144.26 L459.57,143.04 L458.57,143.04 L458.57,140.15 L457.57,140.15 L457.57,140.19 L456.57,140.19 L456.57,139.22 L455.57,139.22 L455.57,139.65 L454.57,139.65 L454.57,139.61 L453.57,139.61 L453.57,139.24 L452.57,139.24 L452.57,140.86 L451.57,140.86 L451.57,143.67 L450.57,143.67 L450.57,150.08 L449.57,150.08 L449.57,150.32 L448.57,150.32 L448.57,145.81 L447.57,145.81 L447.57,142.94 L446.57,142.94 L446.57,140.10 L445.57,140.10 L445.57,139.63 L444.57,139.63 L444.57,137.40 L443.57,137.40 L443.57,131.35 L442.57,131.35 L442.57,127.79Z M442.57,123.54 L443.22,123.54 L443.22,118.64 L444.52,118.64 L444.52,114.57 L445.83,114.57 L445.83,113.75 L446.97,113.75 L446.97,108.86 L448.11,108.86 L448.11,109.67 L449.09,109.67 L449.09,112.12 L450.23,112.12 L450.23,111.30 L451.38,111.30 L451.38,114.57 L452.68,114.57 L452.68,113.75 L453.99,113.75 L453.99,116.20 L455.13,116.20 L455.13,117.01 L456.27,117.01 L456.27,117.83 L457.25,117.83 L457.25,115.38 L457.90,115.38 L457.90,111.30 L458.88,111.30 L458.88,112.12 L460.02,112.12 L460.02,112.93 L461.16,112.93 L461.16,113.75 L462.47,113.75 L462.47,113.42 L463.77,113.42 L463.77,115.38 L464.91,115.38 L464.91,113.75 L466.06,113.75 L466.06,115.38 L467.36,115.38 L467.36,114.57 L468.18,114.57 L468.18,110.49 L468.99,110.49 L468.99,105.92 L469.97,105.92 L469.97,105.92 L470.62,105.92 L470.62,112.12 L471.44,112.12 L471.44,114.57 L472.26,114.57 L472.26,112.12 L473.07,112.12 L473.07,117.01 L474.21,117.01 L474.21,118.64 L475.52,118.64 L475.52,117.83 L476.82,117.83 L476.82,116.20 L477.96,116.20 L477.96,116.69 L479.11,116.69 L479.11,117.83 L480.41,117.83 L480.41,117.01 L481.72,117.01 L481.72,115.71 L482.86,115.71 L482.86,117.01 L484.00,117.01 L484.00,116.20 L485.30,116.20 L485.30,111.30 L486.28,111.30 L486.28,112.12 L487.26,112.12 L487.26,114.57 L488.57,114.57 L488.57,115.38 L489.87,115.38 L489.87,113.75 L491.01,113.75 L491.01,110.81 L492.16,110.81 L492.16,110.49 L493.46,110.49 L493.46,113.75 L494.77,113.75 L494.77,115.38 L495.91,115.38 L495.91,116.20 L497.05,116.20 L497.05,114.57 L498.35,114.57 L498.35,111.79 L499.66,111.79 L499.66,111.30 L500.80,111.30 L500.80,113.75 L501.94,113.75 L501.94,115.38 L503.25,115.38 L503.25,117.01 L504.55,117.01 L504.55,117.83 L505.70,117.83 L505.70,117.01 L506.84,117.01 L506.84,115.38 L508.14,115.38 L508.14,113.75 L509.45,113.75 L509.45,114.57 L510.59,114.57 L510.59,113.75 L511.73,113.75 L511.73,114.08 L513.04,114.08 L513.04,115.38 L514.34,115.38 L514.34,112.93 L515.48,112.93 L515.48,112.12 L516.62,112.12 L516.62,113.75 L517.60,113.75 L517.60,115.38 L518.74,115.38 L518.74,117.83 L519.56,117.83 L519.56,118.64 L520.38,118.64 L520.38,122.72 L520.38,130.35 L520.38,141.77 L519.89,141.77 L519.89,150.74 L519.07,150.74 L519.07,149.92 L518.26,149.92 L518.26,140.14 L517.60,140.14 L517.60,138.51 L516.30,138.51 L516.30,139.32 L514.99,139.32 L514.99,138.51 L513.85,138.51 L513.85,139.32 L512.71,139.32 L512.71,141.77 L511.40,141.77 L511.40,145.85 L510.59,145.85 L510.59,144.21 L509.77,144.21 L509.77,139.32 L508.96,139.32 L508.96,140.14 L507.82,140.14 L507.82,142.58 L506.51,142.58 L506.51,141.77 L505.70,141.77 L505.70,138.51 L504.55,138.51 L504.55,137.69 L503.25,137.69 L503.25,138.51 L501.94,138.51 L501.94,137.69 L500.80,137.69 L500.80,136.87 L499.66,136.87 L499.66,137.69 L498.35,137.69 L498.35,138.51 L497.05,138.51 L497.05,137.69 L495.91,137.69 L495.91,138.51 L494.77,138.51 L494.77,137.69 L493.46,137.69 L493.46,140.95 L492.16,140.95 L492.16,143.40 L491.01,143.40 L491.01,144.21 L489.87,144.21 L489.87,142.58 L488.89,142.58 L488.89,140.95 L487.75,140.95 L487.75,139.32 L486.61,139.32 L486.61,138.51 L485.30,138.51 L485.30,137.69 L484.00,137.69 L484.00,136.87 L482.86,136.87 L482.86,138.51 L481.72,138.51 L481.72,137.69 L480.41,137.69 L480.41,139.32 L479.11,139.32 L479.11,136.87 L477.96,136.87 L477.96,138.51 L476.82,138.51 L476.82,137.69 L475.52,137.69 L475.52,135.24 L474.21,135.24 L474.21,136.87 L473.07,136.87 L473.07,144.21 L472.26,144.21 L472.26,145.85 L471.44,145.85 L471.44,146.66 L470.30,146.66 L470.30,143.40 L468.99,143.40 L468.99,141.77 L467.36,141.77 L467.36,139.32 L466.06,139.32 L466.06,140.14 L464.91,140.14 L464.91,143.40 L463.77,143.40 L463.77,141.77 L462.47,141.77 L462.47,140.95 L461.16,140.95 L461.16,143.40 L460.02,143.40 L460.02,142.58 L458.88,142.58 L458.88,137.69 L457.57,137.69 L457.57,140.14 L456.76,140.14 L456.76,136.87 L455.62,136.87 L455.62,139.32 L454.64,139.32 L454.64,137.69 L453.50,137.69 L453.50,138.51 L452.35,138.51 L452.35,142.58 L451.05,142.58 L451.05,149.92 L450.23,149.92 L450.23,149.92 L449.09,149.92 L449.09,145.03 L448.28,145.03 L448.28,143.40 L447.46,143.40 L447.46,140.14 L446.48,140.14 L446.48,138.51 L445.34,138.51 L445.34,136.87 L444.20,136.87 L444.20,131.98 L443.22,131.98 L443.22,127.09 L442.57,127.09Z" fill="#0000ff" fill-rule="nonzero"/><rect x="517.60" y="106.50" width="1.60" height="1.60" fill="#0000ff"/><rect x="517.60" y="113.60" width="1.60" height="1.60" fill="#0000ff"/><rect x="451.20" y="95.90" width="1.60" height="1.60" fill="#0000ff"/>
<line x1="436.5" y1="163.8" x2="439.5" y2="163.8" stroke="#555" stroke-width="0.9"/>
<line x1="523.8" y1="163.8" x2="526.8" y2="163.8" stroke="#555" stroke-width="0.9"/>
<line x1="436.5" y1="155.0" x2="438.1" y2="155.0" stroke="#555" stroke-width="0.9"/>
<line x1="525.1999999999999" y1="155.0" x2="526.8" y2="155.0" stroke="#555" stroke-width="0.9"/>
<line x1="436.5" y1="146.1" x2="439.5" y2="146.1" stroke="#555" stroke-width="0.9"/>
<line x1="523.8" y1="146.1" x2="526.8" y2="146.1" stroke="#555" stroke-width="0.9"/>
<line x1="436.5" y1="137.2" x2="438.1" y2="137.2" stroke="#555" stroke-width="0.9"/>
<line x1="525.1999999999999" y1="137.2" x2="526.8" y2="137.2" stroke="#555" stroke-width="0.9"/>
<line x1="436.5" y1="128.4" x2="439.5" y2="128.4" stroke="#555" stroke-width="0.9"/>
<line x1="523.8" y1="128.4" x2="526.8" y2="128.4" stroke="#555" stroke-width="0.9"/>
<line x1="436.5" y1="119.6" x2="438.1" y2="119.6" stroke="#555" stroke-width="0.9"/>
<line x1="525.1999999999999" y1="119.6" x2="526.8" y2="119.6" stroke="#555" stroke-width="0.9"/>
<line x1="436.5" y1="110.7" x2="439.5" y2="110.7" stroke="#555" stroke-width="0.9"/>
<line x1="523.8" y1="110.7" x2="526.8" y2="110.7" stroke="#555" stroke-width="0.9"/>
<line x1="436.5" y1="101.9" x2="438.1" y2="101.9" stroke="#555" stroke-width="0.9"/>
<line x1="525.1999999999999" y1="101.9" x2="526.8" y2="101.9" stroke="#555" stroke-width="0.9"/>
<line x1="436.5" y1="93.0" x2="439.5" y2="93.0" stroke="#555" stroke-width="0.9"/>
<line x1="523.8" y1="93.0" x2="526.8" y2="93.0" stroke="#555" stroke-width="0.9"/>
<line x1="443.5" y1="169.5" x2="443.5" y2="166.5" stroke="#555" stroke-width="0.9"/>
<line x1="443.5" y1="87.4" x2="443.5" y2="90.4" stroke="#555" stroke-width="0.9"/>
<line x1="457.4" y1="169.5" x2="457.4" y2="167.5" stroke="#555" stroke-width="0.9"/>
<line x1="457.4" y1="87.4" x2="457.4" y2="89.4" stroke="#555" stroke-width="0.9"/>
<line x1="471.3" y1="169.5" x2="471.3" y2="166.5" stroke="#555" stroke-width="0.9"/>
<line x1="471.3" y1="87.4" x2="471.3" y2="90.4" stroke="#555" stroke-width="0.9"/>
<line x1="485.1" y1="169.5" x2="485.1" y2="167.5" stroke="#555" stroke-width="0.9"/>
<line x1="485.1" y1="87.4" x2="485.1" y2="89.4" stroke="#555" stroke-width="0.9"/>
<line x1="499.0" y1="169.5" x2="499.0" y2="166.5" stroke="#555" stroke-width="0.9"/>
<line x1="499.0" y1="87.4" x2="499.0" y2="90.4" stroke="#555" stroke-width="0.9"/>
<line x1="512.9" y1="169.5" x2="512.9" y2="167.5" stroke="#555" stroke-width="0.9"/>
<line x1="512.9" y1="87.4" x2="512.9" y2="89.4" stroke="#555" stroke-width="0.9"/>
<rect x="436.5" y="87.4" width="90.3" height="82.1" fill="none" stroke="#8a8a8a" stroke-width="1"/>
<text x="469.0" y="100.3" class="t">IGSO &#160;C10</text>
<text x="26" y="96.7" text-anchor="end" class="n">6</text>
<text x="26" y="114.4" text-anchor="end" class="n">3</text>
<text x="26" y="132.1" text-anchor="end" class="n">0</text>
<text x="26" y="149.8" text-anchor="end" class="n">-3</text>
<text x="26" y="167.5" text-anchor="end" class="n">-6</text>
<text transform="translate(12.3 129.6) rotate(-90)" text-anchor="middle" class="n">Residual (ns)</text>
<line x1="31.4" y1="249.2" x2="120.4" y2="249.2" stroke="#b4b4b4" stroke-width="0.8" stroke-dasharray="0.8 1.7"/>
<line x1="31.4" y1="240.4" x2="120.4" y2="240.4" stroke="#b4b4b4" stroke-width="0.8" stroke-dasharray="0.8 1.7"/>
<line x1="31.4" y1="231.5" x2="120.4" y2="231.5" stroke="#b4b4b4" stroke-width="0.8" stroke-dasharray="0.8 1.7"/>
<line x1="31.4" y1="222.7" x2="120.4" y2="222.7" stroke="#b4b4b4" stroke-width="0.8" stroke-dasharray="0.8 1.7"/>
<line x1="31.4" y1="213.8" x2="120.4" y2="213.8" stroke="#b4b4b4" stroke-width="0.8" stroke-dasharray="0.8 1.7"/>
<line x1="31.4" y1="205.0" x2="120.4" y2="205.0" stroke="#b4b4b4" stroke-width="0.8" stroke-dasharray="0.8 1.7"/>
<line x1="31.4" y1="196.1" x2="120.4" y2="196.1" stroke="#b4b4b4" stroke-width="0.8" stroke-dasharray="0.8 1.7"/>
<line x1="31.4" y1="187.2" x2="120.4" y2="187.2" stroke="#b4b4b4" stroke-width="0.8" stroke-dasharray="0.8 1.7"/>
<line x1="31.4" y1="178.4" x2="120.4" y2="178.4" stroke="#b4b4b4" stroke-width="0.8" stroke-dasharray="0.8 1.7"/>
<path d="M37.08,207.02 L37.08,199.97 L38.08,199.97 L38.08,199.62 L39.08,199.62 L39.08,206.42 L40.08,206.42 L40.08,206.98 L41.08,206.98 L41.08,205.61 L42.08,205.61 L42.08,206.93 L43.08,206.93 L43.08,205.91 L44.08,205.91 L44.08,206.00 L45.08,206.00 L45.08,206.13 L46.08,206.13 L46.08,206.43 L47.08,206.43 L47.08,205.96 L48.08,205.96 L48.08,205.75 L49.08,205.75 L49.08,205.76 L50.08,205.76 L50.08,204.87 L51.08,204.87 L51.08,206.78 L52.08,206.78 L52.08,205.51 L53.08,205.51 L53.08,205.15 L54.08,205.15 L54.08,200.85 L55.08,200.85 L55.08,203.52 L56.08,203.52 L56.08,205.12 L57.08,205.12 L57.08,205.70 L58.08,205.70 L58.08,204.92 L59.08,204.92 L59.08,202.48 L60.08,202.48 L60.08,199.92 L61.08,199.92 L61.08,201.07 L62.08,201.07 L62.08,205.48 L63.08,205.48 L63.08,205.39 L64.08,205.39 L64.08,205.87 L65.08,205.87 L65.08,205.27 L66.08,205.27 L66.08,198.32 L67.08,198.32 L67.08,198.37 L68.08,198.37 L68.08,205.37 L69.08,205.37 L69.08,207.00 L70.08,207.00 L70.08,206.48 L71.08,206.48 L71.08,204.58 L72.08,204.58 L72.08,206.42 L73.08,206.42 L73.08,206.81 L74.08,206.81 L74.08,206.77 L75.08,206.77 L75.08,205.00 L76.08,205.00 L76.08,206.16 L77.08,206.16 L77.08,206.06 L78.08,206.06 L78.08,204.69 L79.08,204.69 L79.08,204.44 L80.08,204.44 L80.08,206.62 L81.08,206.62 L81.08,206.28 L82.08,206.28 L82.08,205.67 L83.08,205.67 L83.08,205.24 L84.08,205.24 L84.08,205.20 L85.08,205.20 L85.08,205.59 L86.08,205.59 L86.08,206.48 L87.08,206.48 L87.08,205.12 L88.08,205.12 L88.08,204.98 L89.08,204.98 L89.08,206.75 L90.08,206.75 L90.08,206.72 L91.08,206.72 L91.08,205.21 L92.08,205.21 L92.08,206.18 L93.08,206.18 L93.08,205.92 L94.08,205.92 L94.08,206.52 L95.08,206.52 L95.08,206.50 L96.08,206.50 L96.08,206.84 L97.08,206.84 L97.08,206.48 L98.08,206.48 L98.08,206.79 L99.08,206.79 L99.08,205.50 L100.08,205.50 L100.08,206.29 L101.08,206.29 L101.08,206.12 L102.08,206.12 L102.08,205.79 L103.08,205.79 L103.08,201.94 L104.08,201.94 L104.08,202.20 L105.08,202.20 L105.08,205.45 L106.08,205.45 L106.08,205.41 L107.08,205.41 L107.08,205.60 L108.08,205.60 L108.08,205.21 L109.08,205.21 L109.08,206.01 L110.08,206.01 L110.08,205.34 L111.08,205.34 L111.08,206.36 L112.08,206.36 L112.08,205.73 L113.08,205.73 L113.08,206.22 L114.08,206.22 L114.08,206.78 L114.56,206.78 L114.56,207.02 L114.56,216.81 L114.56,216.61 L114.08,216.61 L114.08,218.70 L113.08,218.70 L113.08,219.04 L112.08,219.04 L112.08,220.60 L111.08,220.60 L111.08,219.99 L110.08,219.99 L110.08,219.95 L109.08,219.95 L109.08,218.82 L108.08,218.82 L108.08,220.25 L107.08,220.25 L107.08,219.94 L106.08,219.94 L106.08,219.65 L105.08,219.65 L105.08,220.01 L104.08,220.01 L104.08,220.49 L103.08,220.49 L103.08,220.98 L102.08,220.98 L102.08,221.33 L101.08,221.33 L101.08,220.59 L100.08,220.59 L100.08,219.83 L99.08,219.83 L99.08,219.72 L98.08,219.72 L98.08,220.84 L97.08,220.84 L97.08,219.02 L96.08,219.02 L96.08,218.38 L95.08,218.38 L95.08,219.47 L94.08,219.47 L94.08,219.76 L93.08,219.76 L93.08,221.75 L92.08,221.75 L92.08,221.99 L91.08,221.99 L91.08,221.17 L90.08,221.17 L90.08,219.30 L89.08,219.30 L89.08,220.29 L88.08,220.29 L88.08,219.56 L87.08,219.56 L87.08,219.96 L86.08,219.96 L86.08,219.45 L85.08,219.45 L85.08,218.99 L84.08,218.99 L84.08,219.32 L83.08,219.32 L83.08,220.74 L82.08,220.74 L82.08,220.97 L81.08,220.97 L81.08,222.11 L80.08,222.11 L80.08,221.67 L79.08,221.67 L79.08,220.33 L78.08,220.33 L78.08,219.94 L77.08,219.94 L77.08,219.24 L76.08,219.24 L76.08,220.24 L75.08,220.24 L75.08,219.65 L74.08,219.65 L74.08,220.22 L73.08,220.22 L73.08,219.56 L72.08,219.56 L72.08,219.79 L71.08,219.79 L71.08,219.56 L70.08,219.56 L70.08,218.73 L69.08,218.73 L69.08,220.31 L68.08,220.31 L68.08,230.72 L67.08,230.72 L67.08,230.62 L66.08,230.62 L66.08,224.82 L65.08,224.82 L65.08,221.33 L64.08,221.33 L64.08,219.90 L63.08,219.90 L63.08,220.75 L62.08,220.75 L62.08,237.47 L61.08,237.47 L61.08,236.10 L60.08,236.10 L60.08,227.09 L59.08,227.09 L59.08,220.04 L58.08,220.04 L58.08,220.09 L57.08,220.09 L57.08,221.48 L56.08,221.48 L56.08,230.00 L55.08,230.00 L55.08,233.66 L54.08,233.66 L54.08,225.32 L53.08,225.32 L53.08,220.29 L52.08,220.29 L52.08,219.07 L51.08,219.07 L51.08,219.99 L50.08,219.99 L50.08,219.75 L49.08,219.75 L49.08,218.42 L48.08,218.42 L48.08,220.64 L47.08,220.64 L47.08,219.76 L46.08,219.76 L46.08,219.18 L45.08,219.18 L45.08,220.26 L44.08,220.26 L44.08,220.39 L43.08,220.39 L43.08,219.68 L42.08,219.68 L42.08,219.39 L41.08,219.39 L41.08,220.63 L40.08,220.63 L40.08,220.17 L39.08,220.17 L39.08,221.65 L38.08,221.65 L38.08,218.89 L37.08,218.89 L37.08,216.81Z M37.08,207.72 L37.57,207.72 L37.57,200.05 L38.71,200.05 L38.71,200.05 L39.20,200.05 L39.20,206.91 L40.34,206.91 L40.34,207.72 L41.97,207.72 L41.97,206.58 L43.60,206.58 L43.60,206.91 L45.23,206.91 L45.23,206.09 L46.87,206.09 L46.87,206.58 L48.50,206.58 L48.50,206.91 L50.13,206.91 L50.13,206.09 L51.76,206.09 L51.76,206.91 L53.39,206.91 L53.39,206.09 L54.21,206.09 L54.21,202.01 L55.18,202.01 L55.18,202.01 L55.84,202.01 L55.84,206.09 L57.47,206.09 L57.47,206.58 L59.10,206.58 L59.10,206.09 L59.91,206.09 L59.91,202.83 L60.73,202.83 L60.73,199.57 L61.55,199.57 L61.55,202.01 L62.36,202.01 L62.36,206.91 L63.18,206.91 L63.18,206.09 L63.99,206.09 L63.99,206.91 L65.62,206.91 L65.62,206.09 L66.44,206.09 L66.44,198.75 L67.58,198.75 L67.58,198.75 L68.07,198.75 L68.07,206.09 L69.70,206.09 L69.70,206.91 L71.33,206.91 L71.33,206.09 L72.96,206.09 L72.96,206.58 L74.60,206.58 L74.60,206.91 L76.23,206.91 L76.23,206.09 L77.86,206.09 L77.86,206.58 L79.49,206.58 L79.49,206.09 L81.12,206.09 L81.12,206.58 L82.75,206.58 L82.75,206.91 L84.38,206.91 L84.38,206.58 L86.01,206.58 L86.01,206.91 L87.65,206.91 L87.65,206.09 L89.28,206.09 L89.28,206.58 L90.91,206.58 L90.91,206.91 L92.54,206.91 L92.54,206.09 L94.17,206.09 L94.17,206.58 L95.80,206.58 L95.80,206.91 L97.43,206.91 L97.43,206.58 L99.06,206.58 L99.06,206.91 L100.70,206.91 L100.70,206.58 L102.33,206.58 L102.33,206.91 L103.47,206.91 L103.47,202.83 L104.77,202.83 L104.77,202.01 L105.59,202.01 L105.59,206.09 L107.22,206.09 L107.22,206.91 L108.85,206.91 L108.85,206.58 L110.48,206.58 L110.48,206.91 L112.11,206.91 L112.11,207.23 L113.74,207.23 L113.74,206.91 L114.56,206.91 L114.56,207.72 L114.56,216.11 L114.56,218.56 L113.74,218.56 L113.74,219.37 L112.11,219.37 L112.11,219.37 L110.48,219.37 L110.48,218.56 L108.85,218.56 L108.85,219.37 L107.22,219.37 L107.22,218.56 L105.59,218.56 L105.59,219.37 L103.96,219.37 L103.96,220.19 L102.33,220.19 L102.33,219.37 L100.70,219.37 L100.70,218.56 L99.06,218.56 L99.06,219.37 L97.43,219.37 L97.43,218.56 L95.80,218.56 L95.80,219.37 L94.17,219.37 L94.17,221.00 L92.54,221.00 L92.54,220.19 L90.91,220.19 L90.91,219.37 L89.28,219.37 L89.28,218.56 L87.65,218.56 L87.65,219.37 L86.01,219.37 L86.01,218.56 L84.38,218.56 L84.38,219.37 L82.75,219.37 L82.75,220.19 L81.12,220.19 L81.12,221.00 L79.49,221.00 L79.49,219.37 L77.86,219.37 L77.86,218.56 L76.23,218.56 L76.23,219.37 L74.60,219.37 L74.60,218.56 L72.96,218.56 L72.96,219.37 L71.33,219.37 L71.33,218.56 L69.70,218.56 L69.70,219.37 L67.91,219.37 L67.91,229.97 L67.58,229.97 L67.58,229.97 L65.95,229.97 L65.95,220.19 L65.30,220.19 L65.30,219.37 L63.18,219.37 L63.18,220.19 L62.04,220.19 L62.04,236.34 L61.71,236.34 L61.71,236.34 L60.40,236.34 L60.40,219.37 L59.10,219.37 L59.10,219.37 L57.47,219.37 L57.47,220.19 L55.84,220.19 L55.84,232.09 L55.51,232.09 L55.51,232.09 L53.88,232.09 L53.88,219.37 L53.39,219.37 L53.39,219.37 L51.76,219.37 L51.76,218.88 L50.13,218.88 L50.13,218.56 L48.50,218.56 L48.50,219.37 L46.87,219.37 L46.87,218.56 L45.23,218.56 L45.23,219.37 L43.60,219.37 L43.60,218.56 L41.97,218.56 L41.97,219.37 L40.34,219.37 L40.34,221.00 L39.20,221.00 L39.20,219.37 L37.89,219.37 L37.89,216.11 L37.08,216.11Z" fill="#0000ff" fill-rule="nonzero"/><rect x="49.20" y="180.90" width="1.60" height="1.60" fill="#0000ff"/><rect x="60.70" y="189.90" width="1.60" height="1.60" fill="#0000ff"/><rect x="60.70" y="196.40" width="1.60" height="1.60" fill="#0000ff"/>
<line x1="30.4" y1="249.2" x2="33.4" y2="249.2" stroke="#555" stroke-width="0.9"/>
<line x1="118.4" y1="249.2" x2="121.4" y2="249.2" stroke="#555" stroke-width="0.9"/>
<line x1="30.4" y1="240.4" x2="32.0" y2="240.4" stroke="#555" stroke-width="0.9"/>
<line x1="119.80000000000001" y1="240.4" x2="121.4" y2="240.4" stroke="#555" stroke-width="0.9"/>
<line x1="30.4" y1="231.5" x2="33.4" y2="231.5" stroke="#555" stroke-width="0.9"/>
<line x1="118.4" y1="231.5" x2="121.4" y2="231.5" stroke="#555" stroke-width="0.9"/>
<line x1="30.4" y1="222.7" x2="32.0" y2="222.7" stroke="#555" stroke-width="0.9"/>
<line x1="119.80000000000001" y1="222.7" x2="121.4" y2="222.7" stroke="#555" stroke-width="0.9"/>
<line x1="30.4" y1="213.8" x2="33.4" y2="213.8" stroke="#555" stroke-width="0.9"/>
<line x1="118.4" y1="213.8" x2="121.4" y2="213.8" stroke="#555" stroke-width="0.9"/>
<line x1="30.4" y1="205.0" x2="32.0" y2="205.0" stroke="#555" stroke-width="0.9"/>
<line x1="119.80000000000001" y1="205.0" x2="121.4" y2="205.0" stroke="#555" stroke-width="0.9"/>
<line x1="30.4" y1="196.1" x2="33.4" y2="196.1" stroke="#555" stroke-width="0.9"/>
<line x1="118.4" y1="196.1" x2="121.4" y2="196.1" stroke="#555" stroke-width="0.9"/>
<line x1="30.4" y1="187.2" x2="32.0" y2="187.2" stroke="#555" stroke-width="0.9"/>
<line x1="119.80000000000001" y1="187.2" x2="121.4" y2="187.2" stroke="#555" stroke-width="0.9"/>
<line x1="30.4" y1="178.4" x2="33.4" y2="178.4" stroke="#555" stroke-width="0.9"/>
<line x1="118.4" y1="178.4" x2="121.4" y2="178.4" stroke="#555" stroke-width="0.9"/>
<line x1="37.4" y1="255.0" x2="37.4" y2="252.0" stroke="#555" stroke-width="0.9"/>
<line x1="37.4" y1="172.8" x2="37.4" y2="175.8" stroke="#555" stroke-width="0.9"/>
<line x1="51.4" y1="255.0" x2="51.4" y2="253.0" stroke="#555" stroke-width="0.9"/>
<line x1="51.4" y1="172.8" x2="51.4" y2="174.8" stroke="#555" stroke-width="0.9"/>
<line x1="65.4" y1="255.0" x2="65.4" y2="252.0" stroke="#555" stroke-width="0.9"/>
<line x1="65.4" y1="172.8" x2="65.4" y2="175.8" stroke="#555" stroke-width="0.9"/>
<line x1="79.4" y1="255.0" x2="79.4" y2="253.0" stroke="#555" stroke-width="0.9"/>
<line x1="79.4" y1="172.8" x2="79.4" y2="174.8" stroke="#555" stroke-width="0.9"/>
<line x1="93.4" y1="255.0" x2="93.4" y2="252.0" stroke="#555" stroke-width="0.9"/>
<line x1="93.4" y1="172.8" x2="93.4" y2="175.8" stroke="#555" stroke-width="0.9"/>
<line x1="107.4" y1="255.0" x2="107.4" y2="253.0" stroke="#555" stroke-width="0.9"/>
<line x1="107.4" y1="172.8" x2="107.4" y2="174.8" stroke="#555" stroke-width="0.9"/>
<rect x="30.4" y="172.8" width="91.0" height="82.2" fill="none" stroke="#8a8a8a" stroke-width="1"/>
<text x="65.8" y="185.7" class="t">MEO &#160;C11</text>
<line x1="133.5" y1="249.2" x2="222.0" y2="249.2" stroke="#b4b4b4" stroke-width="0.8" stroke-dasharray="0.8 1.7"/>
<line x1="133.5" y1="240.4" x2="222.0" y2="240.4" stroke="#b4b4b4" stroke-width="0.8" stroke-dasharray="0.8 1.7"/>
<line x1="133.5" y1="231.5" x2="222.0" y2="231.5" stroke="#b4b4b4" stroke-width="0.8" stroke-dasharray="0.8 1.7"/>
<line x1="133.5" y1="222.7" x2="222.0" y2="222.7" stroke="#b4b4b4" stroke-width="0.8" stroke-dasharray="0.8 1.7"/>
<line x1="133.5" y1="213.8" x2="222.0" y2="213.8" stroke="#b4b4b4" stroke-width="0.8" stroke-dasharray="0.8 1.7"/>
<line x1="133.5" y1="205.0" x2="222.0" y2="205.0" stroke="#b4b4b4" stroke-width="0.8" stroke-dasharray="0.8 1.7"/>
<line x1="133.5" y1="196.1" x2="222.0" y2="196.1" stroke="#b4b4b4" stroke-width="0.8" stroke-dasharray="0.8 1.7"/>
<line x1="133.5" y1="187.2" x2="222.0" y2="187.2" stroke="#b4b4b4" stroke-width="0.8" stroke-dasharray="0.8 1.7"/>
<line x1="133.5" y1="178.4" x2="222.0" y2="178.4" stroke="#b4b4b4" stroke-width="0.8" stroke-dasharray="0.8 1.7"/>
<path d="M138.08,209.76 L138.08,209.61 L139.08,209.61 L139.08,209.24 L140.08,209.24 L140.08,208.47 L141.08,208.47 L141.08,208.39 L142.08,208.39 L142.08,209.50 L143.08,209.50 L143.08,209.23 L144.08,209.23 L144.08,209.06 L145.08,209.06 L145.08,208.75 L146.08,208.75 L146.08,208.64 L147.08,208.64 L147.08,208.68 L148.08,208.68 L148.08,208.27 L149.08,208.27 L149.08,208.84 L150.08,208.84 L150.08,209.45 L151.08,209.45 L151.08,209.63 L152.08,209.63 L152.08,207.54 L153.08,207.54 L153.08,208.26 L154.08,208.26 L154.08,206.70 L155.08,206.70 L155.08,206.62 L156.08,206.62 L156.08,208.21 L157.08,208.21 L157.08,206.75 L158.08,206.75 L158.08,207.66 L159.08,207.66 L159.08,208.69 L160.08,208.69 L160.08,207.32 L161.08,207.32 L161.08,203.17 L162.08,203.17 L162.08,200.16 L163.08,200.16 L163.08,200.85 L164.08,200.85 L164.08,208.67 L165.08,208.67 L165.08,207.79 L166.08,207.79 L166.08,207.16 L167.08,207.16 L167.08,200.32 L168.08,200.32 L168.08,199.25 L169.08,199.25 L169.08,198.66 L170.08,198.66 L170.08,201.52 L171.08,201.52 L171.08,201.93 L172.08,201.93 L172.08,202.04 L173.08,202.04 L173.08,208.02 L174.08,208.02 L174.08,207.70 L175.08,207.70 L175.08,208.27 L176.08,208.27 L176.08,206.29 L177.08,206.29 L177.08,207.80 L178.08,207.80 L178.08,206.51 L179.08,206.51 L179.08,206.49 L180.08,206.49 L180.08,208.06 L181.08,208.06 L181.08,206.91 L182.08,206.91 L182.08,207.78 L183.08,207.78 L183.08,206.69 L184.08,206.69 L184.08,206.58 L185.08,206.58 L185.08,208.15 L186.08,208.15 L186.08,207.83 L187.08,207.83 L187.08,208.30 L188.08,208.30 L188.08,208.55 L189.08,208.55 L189.08,206.83 L190.08,206.83 L190.08,207.42 L191.08,207.42 L191.08,207.08 L192.08,207.08 L192.08,205.75 L193.08,205.75 L193.08,206.35 L194.08,206.35 L194.08,205.64 L195.08,205.64 L195.08,208.44 L196.08,208.44 L196.08,208.45 L197.08,208.45 L197.08,206.76 L198.08,206.76 L198.08,206.46 L199.08,206.46 L199.08,208.53 L200.08,208.53 L200.08,209.10 L201.08,209.10 L201.08,207.32 L202.08,207.32 L202.08,208.19 L203.08,208.19 L203.08,209.28 L204.08,209.28 L204.08,207.65 L205.08,207.65 L205.08,208.54 L206.08,208.54 L206.08,207.29 L207.08,207.29 L207.08,207.22 L208.08,207.22 L208.08,208.14 L209.08,208.14 L209.08,207.95 L210.08,207.95 L210.08,207.37 L211.08,207.37 L211.08,207.62 L212.08,207.62 L212.08,206.05 L213.08,206.05 L213.08,207.32 L214.08,207.32 L214.08,206.96 L215.08,206.96 L215.08,208.79 L216.08,208.79 L216.08,210.90 L216.38,210.90 L216.38,211.39 L216.38,216.28 L216.38,216.78 L216.08,216.78 L216.08,220.17 L215.08,220.17 L215.08,219.81 L214.08,219.81 L214.08,222.13 L213.08,222.13 L213.08,223.53 L212.08,223.53 L212.08,220.44 L211.08,220.44 L211.08,220.94 L210.08,220.94 L210.08,221.72 L209.08,221.72 L209.08,222.65 L208.08,222.65 L208.08,220.22 L207.08,220.22 L207.08,219.75 L206.08,219.75 L206.08,220.25 L205.08,220.25 L205.08,225.78 L204.08,225.78 L204.08,226.84 L203.08,226.84 L203.08,221.69 L202.08,221.69 L202.08,221.48 L201.08,221.48 L201.08,221.10 L200.08,221.10 L200.08,220.26 L199.08,220.26 L199.08,219.77 L198.08,219.77 L198.08,221.22 L197.08,221.22 L197.08,220.89 L196.08,220.89 L196.08,219.09 L195.08,219.09 L195.08,219.53 L194.08,219.53 L194.08,220.52 L193.08,220.52 L193.08,220.83 L192.08,220.83 L192.08,219.64 L191.08,219.64 L191.08,219.29 L190.08,219.29 L190.08,219.51 L189.08,219.51 L189.08,220.17 L188.08,220.17 L188.08,220.30 L187.08,220.30 L187.08,219.75 L186.08,219.75 L186.08,221.10 L185.08,221.10 L185.08,220.54 L184.08,220.54 L184.08,219.14 L183.08,219.14 L183.08,220.32 L182.08,220.32 L182.08,220.33 L181.08,220.33 L181.08,219.39 L180.08,219.39 L180.08,219.70 L179.08,219.70 L179.08,220.53 L178.08,220.53 L178.08,220.05 L177.08,220.05 L177.08,220.60 L176.08,220.60 L176.08,220.90 L175.08,220.90 L175.08,220.01 L174.08,220.01 L174.08,221.11 L173.08,221.11 L173.08,225.48 L172.08,225.48 L172.08,225.70 L171.08,225.70 L171.08,222.76 L170.08,222.76 L170.08,227.40 L169.08,227.40 L169.08,229.29 L168.08,229.29 L168.08,222.65 L167.08,222.65 L167.08,221.12 L166.08,221.12 L166.08,221.14 L165.08,221.14 L165.08,221.32 L164.08,221.32 L164.08,227.52 L163.08,227.52 L163.08,228.08 L162.08,228.08 L162.08,221.72 L161.08,221.72 L161.08,221.39 L160.08,221.39 L160.08,220.30 L159.08,220.30 L159.08,219.97 L158.08,219.97 L158.08,219.74 L157.08,219.74 L157.08,221.40 L156.08,221.40 L156.08,220.59 L155.08,220.59 L155.08,219.35 L154.08,219.35 L154.08,220.33 L153.08,220.33 L153.08,222.70 L152.08,222.70 L152.08,221.29 L151.08,221.29 L151.08,219.92 L150.08,219.92 L150.08,218.99 L149.08,218.99 L149.08,219.74 L148.08,219.74 L148.08,219.79 L147.08,219.79 L147.08,220.26 L146.08,220.26 L146.08,217.93 L145.08,217.93 L145.08,218.74 L144.08,218.74 L144.08,219.74 L143.08,219.74 L143.08,220.48 L142.08,220.48 L142.08,220.75 L141.08,220.75 L141.08,220.13 L140.08,220.13 L140.08,218.84 L139.08,218.84 L139.08,217.94 L138.08,217.94 L138.08,217.10Z M138.08,210.46 L138.89,210.46 L138.89,209.32 L140.52,209.32 L140.52,208.83 L142.16,208.83 L142.16,209.64 L143.79,209.64 L143.79,209.32 L145.42,209.32 L145.42,209.97 L147.05,209.97 L147.05,209.64 L148.68,209.64 L148.68,209.32 L150.31,209.32 L150.31,209.97 L151.94,209.97 L151.94,209.32 L153.57,209.32 L153.57,208.83 L155.21,208.83 L155.21,208.01 L156.84,208.01 L156.84,208.34 L157.65,208.34 L157.65,207.20 L158.47,207.20 L158.47,207.20 L159.28,207.20 L159.28,209.64 L160.91,209.64 L160.91,208.83 L162.06,208.83 L162.06,200.67 L163.69,200.67 L163.69,200.67 L164.18,200.67 L164.18,208.01 L164.99,208.01 L164.99,208.83 L166.62,208.83 L166.62,208.01 L167.93,208.01 L167.93,199.53 L169.56,199.53 L169.56,199.86 L170.21,199.86 L170.21,202.79 L171.19,202.79 L171.19,203.12 L171.84,203.12 L171.84,203.93 L172.50,203.93 L172.50,203.12 L173.15,203.12 L173.15,208.01 L174.78,208.01 L174.78,209.32 L175.60,209.32 L175.60,208.01 L177.23,208.01 L177.23,207.69 L178.86,207.69 L178.86,208.01 L180.49,208.01 L180.49,208.34 L182.12,208.34 L182.12,208.01 L183.75,208.01 L183.75,208.01 L185.38,208.01 L185.38,208.34 L187.01,208.34 L187.01,208.01 L188.65,208.01 L188.65,208.83 L190.28,208.83 L190.28,208.01 L191.91,208.01 L191.91,207.20 L193.05,207.20 L193.05,206.05 L194.35,206.05 L194.35,206.38 L195.17,206.38 L195.17,208.01 L196.80,208.01 L196.80,208.83 L198.43,208.83 L198.43,208.01 L200.06,208.01 L200.06,209.32 L201.70,209.32 L201.70,208.83 L203.33,208.83 L203.33,209.64 L204.96,209.64 L204.96,208.83 L206.59,208.83 L206.59,208.01 L208.22,208.01 L208.22,209.32 L209.85,209.32 L209.85,208.34 L211.48,208.34 L211.48,208.01 L213.11,208.01 L213.11,207.20 L214.74,207.20 L214.74,208.01 L215.89,208.01 L215.89,209.64 L216.38,209.64 L216.38,212.09 L216.38,215.58 L216.38,218.03 L215.89,218.03 L215.89,219.66 L214.74,219.66 L214.74,222.11 L213.60,222.11 L213.60,222.92 L212.62,222.92 L212.62,219.66 L211.48,219.66 L211.48,220.48 L209.85,220.48 L209.85,222.92 L209.04,222.92 L209.04,220.48 L208.22,220.48 L208.22,219.66 L206.59,219.66 L206.59,220.48 L204.96,220.48 L204.96,226.19 L204.47,226.19 L204.47,226.19 L203.33,226.19 L203.33,220.48 L202.51,220.48 L202.51,219.66 L200.88,219.66 L200.88,219.34 L199.25,219.34 L199.25,219.99 L197.62,219.99 L197.62,219.34 L195.99,219.34 L195.99,218.85 L194.35,218.85 L194.35,219.66 L192.72,219.66 L192.72,219.34 L191.09,219.34 L191.09,218.85 L189.46,218.85 L189.46,219.34 L187.83,219.34 L187.83,219.66 L186.20,219.66 L186.20,219.34 L184.57,219.34 L184.57,218.85 L182.94,218.85 L182.94,219.66 L181.30,219.66 L181.30,219.34 L179.67,219.34 L179.67,218.85 L178.04,218.85 L178.04,219.34 L176.41,219.34 L176.41,219.66 L174.78,219.66 L174.78,220.48 L173.15,220.48 L173.15,224.56 L172.50,224.56 L172.50,225.37 L171.84,225.37 L171.84,222.92 L171.19,222.92 L171.19,220.48 L170.21,220.48 L170.21,227.82 L169.56,227.82 L169.56,227.82 L168.26,227.82 L168.26,219.99 L167.44,219.99 L167.44,220.48 L165.81,220.48 L165.81,221.29 L164.18,221.29 L164.18,227.82 L163.69,227.82 L163.69,227.82 L162.06,227.82 L162.06,220.48 L161.73,220.48 L161.73,219.66 L160.10,219.66 L160.10,218.85 L158.47,218.85 L158.47,219.66 L156.84,219.66 L156.84,220.48 L156.02,220.48 L156.02,218.85 L154.39,218.85 L154.39,219.66 L153.25,219.66 L153.25,222.11 L152.27,222.11 L152.27,219.66 L151.62,219.66 L151.62,218.85 L150.31,218.85 L150.31,218.36 L148.68,218.36 L148.68,218.85 L147.05,218.85 L147.05,218.03 L145.42,218.03 L145.42,218.85 L143.79,218.85 L143.79,219.34 L142.16,219.34 L142.16,218.85 L140.52,218.85 L140.52,218.03 L138.89,218.03 L138.89,216.40 L138.08,216.40Z" fill="#0000ff" fill-rule="nonzero"/><rect x="150.10" y="180.90" width="1.60" height="1.60" fill="#0000ff"/><rect x="162.20" y="190.20" width="1.60" height="1.60" fill="#0000ff"/><rect x="162.20" y="233.90" width="1.60" height="1.60" fill="#0000ff"/><rect x="162.20" y="237.40" width="1.60" height="1.60" fill="#0000ff"/>
<line x1="132.5" y1="249.2" x2="135.5" y2="249.2" stroke="#555" stroke-width="0.9"/>
<line x1="220.0" y1="249.2" x2="223.0" y2="249.2" stroke="#555" stroke-width="0.9"/>
<line x1="132.5" y1="240.4" x2="134.1" y2="240.4" stroke="#555" stroke-width="0.9"/>
<line x1="221.4" y1="240.4" x2="223.0" y2="240.4" stroke="#555" stroke-width="0.9"/>
<line x1="132.5" y1="231.5" x2="135.5" y2="231.5" stroke="#555" stroke-width="0.9"/>
<line x1="220.0" y1="231.5" x2="223.0" y2="231.5" stroke="#555" stroke-width="0.9"/>
<line x1="132.5" y1="222.7" x2="134.1" y2="222.7" stroke="#555" stroke-width="0.9"/>
<line x1="221.4" y1="222.7" x2="223.0" y2="222.7" stroke="#555" stroke-width="0.9"/>
<line x1="132.5" y1="213.8" x2="135.5" y2="213.8" stroke="#555" stroke-width="0.9"/>
<line x1="220.0" y1="213.8" x2="223.0" y2="213.8" stroke="#555" stroke-width="0.9"/>
<line x1="132.5" y1="205.0" x2="134.1" y2="205.0" stroke="#555" stroke-width="0.9"/>
<line x1="221.4" y1="205.0" x2="223.0" y2="205.0" stroke="#555" stroke-width="0.9"/>
<line x1="132.5" y1="196.1" x2="135.5" y2="196.1" stroke="#555" stroke-width="0.9"/>
<line x1="220.0" y1="196.1" x2="223.0" y2="196.1" stroke="#555" stroke-width="0.9"/>
<line x1="132.5" y1="187.2" x2="134.1" y2="187.2" stroke="#555" stroke-width="0.9"/>
<line x1="221.4" y1="187.2" x2="223.0" y2="187.2" stroke="#555" stroke-width="0.9"/>
<line x1="132.5" y1="178.4" x2="135.5" y2="178.4" stroke="#555" stroke-width="0.9"/>
<line x1="220.0" y1="178.4" x2="223.0" y2="178.4" stroke="#555" stroke-width="0.9"/>
<line x1="139.5" y1="255.0" x2="139.5" y2="252.0" stroke="#555" stroke-width="0.9"/>
<line x1="139.5" y1="172.8" x2="139.5" y2="175.8" stroke="#555" stroke-width="0.9"/>
<line x1="153.4" y1="255.0" x2="153.4" y2="253.0" stroke="#555" stroke-width="0.9"/>
<line x1="153.4" y1="172.8" x2="153.4" y2="174.8" stroke="#555" stroke-width="0.9"/>
<line x1="167.3" y1="255.0" x2="167.3" y2="252.0" stroke="#555" stroke-width="0.9"/>
<line x1="167.3" y1="172.8" x2="167.3" y2="175.8" stroke="#555" stroke-width="0.9"/>
<line x1="181.2" y1="255.0" x2="181.2" y2="253.0" stroke="#555" stroke-width="0.9"/>
<line x1="181.2" y1="172.8" x2="181.2" y2="174.8" stroke="#555" stroke-width="0.9"/>
<line x1="195.2" y1="255.0" x2="195.2" y2="252.0" stroke="#555" stroke-width="0.9"/>
<line x1="195.2" y1="172.8" x2="195.2" y2="175.8" stroke="#555" stroke-width="0.9"/>
<line x1="209.1" y1="255.0" x2="209.1" y2="253.0" stroke="#555" stroke-width="0.9"/>
<line x1="209.1" y1="172.8" x2="209.1" y2="174.8" stroke="#555" stroke-width="0.9"/>
<rect x="132.5" y="172.8" width="90.5" height="82.2" fill="none" stroke="#8a8a8a" stroke-width="1"/>
<text x="167.7" y="185.7" class="t">MEO &#160;C12</text>
<line x1="234.6" y1="249.2" x2="323.3" y2="249.2" stroke="#b4b4b4" stroke-width="0.8" stroke-dasharray="0.8 1.7"/>
<line x1="234.6" y1="240.4" x2="323.3" y2="240.4" stroke="#b4b4b4" stroke-width="0.8" stroke-dasharray="0.8 1.7"/>
<line x1="234.6" y1="231.5" x2="323.3" y2="231.5" stroke="#b4b4b4" stroke-width="0.8" stroke-dasharray="0.8 1.7"/>
<line x1="234.6" y1="222.7" x2="323.3" y2="222.7" stroke="#b4b4b4" stroke-width="0.8" stroke-dasharray="0.8 1.7"/>
<line x1="234.6" y1="213.8" x2="323.3" y2="213.8" stroke="#b4b4b4" stroke-width="0.8" stroke-dasharray="0.8 1.7"/>
<line x1="234.6" y1="205.0" x2="323.3" y2="205.0" stroke="#b4b4b4" stroke-width="0.8" stroke-dasharray="0.8 1.7"/>
<line x1="234.6" y1="196.1" x2="323.3" y2="196.1" stroke="#b4b4b4" stroke-width="0.8" stroke-dasharray="0.8 1.7"/>
<line x1="234.6" y1="187.2" x2="323.3" y2="187.2" stroke="#b4b4b4" stroke-width="0.8" stroke-dasharray="0.8 1.7"/>
<line x1="234.6" y1="178.4" x2="323.3" y2="178.4" stroke="#b4b4b4" stroke-width="0.8" stroke-dasharray="0.8 1.7"/>
<path d="M240.08,206.50 L240.08,204.21 L241.08,204.21 L241.08,203.63 L242.08,203.63 L242.08,203.21 L243.08,203.21 L243.08,201.85 L244.08,201.85 L244.08,203.23 L245.08,203.23 L245.08,202.49 L246.08,202.49 L246.08,203.04 L247.08,203.04 L247.08,202.93 L248.08,202.93 L248.08,201.96 L249.08,201.96 L249.08,204.09 L250.08,204.09 L250.08,202.95 L251.08,202.95 L251.08,201.93 L252.08,201.93 L252.08,202.22 L253.08,202.22 L253.08,200.36 L254.08,200.36 L254.08,199.29 L255.08,199.29 L255.08,198.78 L256.08,198.78 L256.08,200.47 L257.08,200.47 L257.08,200.97 L258.08,200.97 L258.08,202.14 L259.08,202.14 L259.08,201.00 L260.08,201.00 L260.08,197.94 L261.08,197.94 L261.08,198.45 L262.08,198.45 L262.08,199.88 L263.08,199.88 L263.08,198.37 L264.08,198.37 L264.08,199.18 L265.08,199.18 L265.08,200.55 L266.08,200.55 L266.08,202.50 L267.08,202.50 L267.08,202.75 L268.08,202.75 L268.08,201.35 L269.08,201.35 L269.08,203.47 L270.08,203.47 L270.08,204.54 L271.08,204.54 L271.08,200.61 L272.08,200.61 L272.08,199.83 L273.08,199.83 L273.08,199.90 L274.08,199.90 L274.08,200.80 L275.08,200.80 L275.08,203.61 L276.08,203.61 L276.08,202.86 L277.08,202.86 L277.08,204.35 L278.08,204.35 L278.08,205.07 L279.08,205.07 L279.08,205.04 L280.08,205.04 L280.08,203.53 L281.08,203.53 L281.08,201.88 L282.08,201.88 L282.08,200.47 L283.08,200.47 L283.08,198.29 L284.08,198.29 L284.08,200.40 L285.08,200.40 L285.08,199.50 L286.08,199.50 L286.08,198.96 L287.08,198.96 L287.08,199.48 L288.08,199.48 L288.08,200.39 L289.08,200.39 L289.08,200.69 L290.08,200.69 L290.08,200.08 L291.08,200.08 L291.08,199.70 L292.08,199.70 L292.08,200.43 L293.08,200.43 L293.08,200.23 L294.08,200.23 L294.08,202.65 L295.08,202.65 L295.08,201.96 L296.08,201.96 L296.08,202.26 L297.08,202.26 L297.08,203.91 L298.08,203.91 L298.08,201.26 L299.08,201.26 L299.08,200.44 L300.08,200.44 L300.08,200.78 L301.08,200.78 L301.08,201.32 L302.08,201.32 L302.08,201.88 L303.08,201.88 L303.08,201.64 L304.08,201.64 L304.08,201.20 L305.08,201.20 L305.08,200.03 L306.08,200.03 L306.08,198.15 L307.08,198.15 L307.08,199.10 L308.08,199.10 L308.08,200.38 L309.08,200.38 L309.08,201.78 L310.08,201.78 L310.08,203.11 L311.08,203.11 L311.08,201.95 L312.08,201.95 L312.08,201.38 L313.08,201.38 L313.08,200.67 L314.08,200.67 L314.08,201.75 L315.08,201.75 L315.08,201.42 L316.08,201.42 L316.08,202.57 L317.08,202.57 L317.08,202.75 L318.08,202.75 L318.08,206.97 L318.38,206.97 L318.38,208.94 L318.38,219.55 L318.38,221.20 L318.08,221.20 L318.08,225.39 L317.08,225.39 L317.08,227.94 L316.08,227.94 L316.08,229.36 L315.08,229.36 L315.08,229.87 L314.08,229.87 L314.08,229.60 L313.08,229.60 L313.08,225.07 L312.08,225.07 L312.08,223.79 L311.08,223.79 L311.08,224.73 L310.08,224.73 L310.08,226.39 L309.08,226.39 L309.08,226.10 L308.08,226.10 L308.08,224.24 L307.08,224.24 L307.08,223.99 L306.08,223.99 L306.08,225.25 L305.08,225.25 L305.08,223.92 L304.08,223.92 L304.08,224.68 L303.08,224.68 L303.08,224.39 L302.08,224.39 L302.08,224.97 L301.08,224.97 L301.08,227.27 L300.08,227.27 L300.08,228.69 L299.08,228.69 L299.08,224.10 L298.08,224.10 L298.08,223.82 L297.08,223.82 L297.08,225.47 L296.08,225.47 L296.08,226.20 L295.08,226.20 L295.08,224.62 L294.08,224.62 L294.08,227.97 L293.08,227.97 L293.08,228.57 L292.08,228.57 L292.08,227.56 L291.08,227.56 L291.08,225.45 L290.08,225.45 L290.08,226.04 L289.08,226.04 L289.08,224.33 L288.08,224.33 L288.08,224.63 L287.08,224.63 L287.08,226.91 L286.08,226.91 L286.08,225.83 L285.08,225.83 L285.08,225.91 L284.08,225.91 L284.08,225.37 L283.08,225.37 L283.08,225.22 L282.08,225.22 L282.08,224.71 L281.08,224.71 L281.08,224.14 L280.08,224.14 L280.08,224.96 L279.08,224.96 L279.08,224.21 L278.08,224.21 L278.08,224.46 L277.08,224.46 L277.08,224.29 L276.08,224.29 L276.08,221.99 L275.08,221.99 L275.08,224.41 L274.08,224.41 L274.08,223.93 L273.08,223.93 L273.08,225.68 L272.08,225.68 L272.08,223.88 L271.08,223.88 L271.08,223.61 L270.08,223.61 L270.08,224.39 L269.08,224.39 L269.08,224.31 L268.08,224.31 L268.08,225.57 L267.08,225.57 L267.08,225.06 L266.08,225.06 L266.08,225.93 L265.08,225.93 L265.08,229.54 L264.08,229.54 L264.08,227.89 L263.08,227.89 L263.08,227.41 L262.08,227.41 L262.08,224.71 L261.08,224.71 L261.08,224.70 L260.08,224.70 L260.08,225.63 L259.08,225.63 L259.08,223.60 L258.08,223.60 L258.08,223.30 L257.08,223.30 L257.08,223.69 L256.08,223.69 L256.08,225.28 L255.08,225.28 L255.08,224.52 L254.08,224.52 L254.08,225.93 L253.08,225.93 L253.08,225.58 L252.08,225.58 L252.08,225.52 L251.08,225.52 L251.08,225.21 L250.08,225.21 L250.08,224.92 L249.08,224.92 L249.08,224.66 L248.08,224.66 L248.08,224.25 L247.08,224.25 L247.08,224.62 L246.08,224.62 L246.08,223.34 L245.08,223.34 L245.08,224.20 L244.08,224.20 L244.08,223.66 L243.08,223.66 L243.08,224.22 L242.08,224.22 L242.08,222.29 L241.08,222.29 L241.08,221.59 L240.08,221.59 L240.08,218.73Z M240.08,207.20 L240.89,207.20 L240.89,204.75 L242.20,204.75 L242.20,203.44 L243.34,203.44 L243.34,203.12 L244.97,203.12 L244.97,203.93 L246.11,203.93 L246.11,203.12 L247.42,203.12 L247.42,204.75 L248.72,204.75 L248.72,203.44 L249.87,203.44 L249.87,203.93 L251.01,203.93 L251.01,202.30 L252.31,202.30 L252.31,203.12 L253.62,203.12 L253.62,201.49 L254.76,201.49 L254.76,199.04 L255.90,199.04 L255.90,199.86 L257.21,199.86 L257.21,200.67 L258.51,200.67 L258.51,202.30 L259.65,202.30 L259.65,200.67 L260.47,200.67 L260.47,199.04 L261.45,199.04 L261.45,199.86 L262.43,199.86 L262.43,201.49 L263.40,201.49 L263.40,199.53 L264.55,199.53 L264.55,200.67 L265.69,200.67 L265.69,202.30 L266.99,202.30 L266.99,203.44 L268.30,203.44 L268.30,201.81 L269.44,201.81 L269.44,203.12 L270.58,203.12 L270.58,204.42 L271.89,204.42 L271.89,201.49 L272.87,201.49 L272.87,199.86 L273.84,199.86 L273.84,201.16 L275.15,201.16 L275.15,203.12 L276.45,203.12 L276.45,203.93 L277.76,203.93 L277.76,205.08 L278.74,205.08 L278.74,205.57 L280.04,205.57 L280.04,204.42 L281.35,204.42 L281.35,203.12 L282.49,203.12 L282.49,201.49 L283.30,201.49 L283.30,199.53 L284.61,199.53 L284.61,200.18 L285.75,200.18 L285.75,199.04 L286.89,199.04 L286.89,200.67 L288.20,200.67 L288.20,201.49 L289.50,201.49 L289.50,201.81 L290.65,201.81 L290.65,199.86 L291.79,199.86 L291.79,199.53 L292.77,199.53 L292.77,200.67 L293.91,200.67 L293.91,202.30 L295.05,202.30 L295.05,203.12 L296.03,203.12 L296.03,201.49 L297.17,201.49 L297.17,203.93 L298.31,203.93 L298.31,203.12 L299.62,203.12 L299.62,201.81 L300.92,201.81 L300.92,200.67 L302.06,200.67 L302.06,201.49 L303.21,201.49 L303.21,203.12 L304.51,203.12 L304.51,201.81 L305.82,201.81 L305.82,199.86 L306.96,199.86 L306.96,199.53 L308.10,199.53 L308.10,200.67 L309.40,200.67 L309.40,203.12 L310.71,203.12 L310.71,203.93 L311.85,203.93 L311.85,203.12 L312.99,203.12 L312.99,202.30 L314.30,202.30 L314.30,201.81 L315.60,201.81 L315.60,203.12 L316.74,203.12 L316.74,202.79 L317.56,202.79 L317.56,203.93 L318.38,203.93 L318.38,209.64 L318.38,218.85 L318.38,222.92 L317.89,222.92 L317.89,226.19 L317.23,226.19 L317.23,228.63 L316.26,228.63 L316.26,229.45 L315.11,229.45 L315.11,228.63 L313.48,228.63 L313.48,225.37 L312.67,225.37 L312.67,223.74 L311.85,223.74 L311.85,224.56 L310.71,224.56 L310.71,225.37 L309.40,225.37 L309.40,224.56 L308.10,224.56 L308.10,223.74 L306.96,223.74 L306.96,224.56 L305.82,224.56 L305.82,223.74 L304.51,223.74 L304.51,222.92 L303.21,222.92 L303.21,224.56 L302.06,224.56 L302.06,225.37 L300.92,225.37 L300.92,228.63 L299.94,228.63 L299.94,224.56 L298.80,224.56 L298.80,223.74 L297.66,223.74 L297.66,225.37 L296.35,225.37 L296.35,224.56 L295.05,224.56 L295.05,225.37 L293.91,225.37 L293.91,228.63 L292.77,228.63 L292.77,226.19 L291.46,226.19 L291.46,225.37 L290.16,225.37 L290.16,223.74 L289.01,223.74 L289.01,224.56 L287.87,224.56 L287.87,225.37 L286.57,225.37 L286.57,223.74 L285.26,223.74 L285.26,224.56 L284.12,224.56 L284.12,225.37 L282.98,225.37 L282.98,224.56 L281.67,224.56 L281.67,223.74 L280.37,223.74 L280.37,224.56 L279.23,224.56 L279.23,223.74 L278.09,223.74 L278.09,222.92 L276.78,222.92 L276.78,222.11 L275.48,222.11 L275.48,222.92 L274.33,222.92 L274.33,224.56 L273.19,224.56 L273.19,223.74 L271.89,223.74 L271.89,222.92 L270.58,222.92 L270.58,224.56 L269.44,224.56 L269.44,223.74 L268.30,223.74 L268.30,224.56 L266.99,224.56 L266.99,225.37 L265.69,225.37 L265.69,228.63 L265.04,228.63 L265.04,229.45 L264.06,229.45 L264.06,227.00 L263.40,227.00 L263.40,225.37 L262.10,225.37 L262.10,223.74 L260.79,223.74 L260.79,224.56 L259.65,224.56 L259.65,223.74 L258.51,223.74 L258.51,222.92 L257.21,222.92 L257.21,224.56 L255.90,224.56 L255.90,223.74 L254.76,223.74 L254.76,224.56 L253.62,224.56 L253.62,225.37 L252.31,225.37 L252.31,224.56 L251.01,224.56 L251.01,223.74 L249.87,223.74 L249.87,222.92 L248.72,222.92 L248.72,224.56 L247.42,224.56 L247.42,223.74 L246.11,223.74 L246.11,222.92 L244.97,222.92 L244.97,222.11 L243.34,222.11 L243.34,222.92 L242.20,222.92 L242.20,221.29 L240.89,221.29 L240.89,218.03 L240.08,218.03Z" fill="#0000ff" fill-rule="nonzero"/><rect x="248.80" y="180.90" width="1.60" height="1.60" fill="#0000ff"/>
<line x1="233.6" y1="249.2" x2="236.6" y2="249.2" stroke="#555" stroke-width="0.9"/>
<line x1="321.3" y1="249.2" x2="324.3" y2="249.2" stroke="#555" stroke-width="0.9"/>
<line x1="233.6" y1="240.4" x2="235.2" y2="240.4" stroke="#555" stroke-width="0.9"/>
<line x1="322.7" y1="240.4" x2="324.3" y2="240.4" stroke="#555" stroke-width="0.9"/>
<line x1="233.6" y1="231.5" x2="236.6" y2="231.5" stroke="#555" stroke-width="0.9"/>
<line x1="321.3" y1="231.5" x2="324.3" y2="231.5" stroke="#555" stroke-width="0.9"/>
<line x1="233.6" y1="222.7" x2="235.2" y2="222.7" stroke="#555" stroke-width="0.9"/>
<line x1="322.7" y1="222.7" x2="324.3" y2="222.7" stroke="#555" stroke-width="0.9"/>
<line x1="233.6" y1="213.8" x2="236.6" y2="213.8" stroke="#555" stroke-width="0.9"/>
<line x1="321.3" y1="213.8" x2="324.3" y2="213.8" stroke="#555" stroke-width="0.9"/>
<line x1="233.6" y1="205.0" x2="235.2" y2="205.0" stroke="#555" stroke-width="0.9"/>
<line x1="322.7" y1="205.0" x2="324.3" y2="205.0" stroke="#555" stroke-width="0.9"/>
<line x1="233.6" y1="196.1" x2="236.6" y2="196.1" stroke="#555" stroke-width="0.9"/>
<line x1="321.3" y1="196.1" x2="324.3" y2="196.1" stroke="#555" stroke-width="0.9"/>
<line x1="233.6" y1="187.2" x2="235.2" y2="187.2" stroke="#555" stroke-width="0.9"/>
<line x1="322.7" y1="187.2" x2="324.3" y2="187.2" stroke="#555" stroke-width="0.9"/>
<line x1="233.6" y1="178.4" x2="236.6" y2="178.4" stroke="#555" stroke-width="0.9"/>
<line x1="321.3" y1="178.4" x2="324.3" y2="178.4" stroke="#555" stroke-width="0.9"/>
<line x1="240.6" y1="255.0" x2="240.6" y2="252.0" stroke="#555" stroke-width="0.9"/>
<line x1="240.6" y1="172.8" x2="240.6" y2="175.8" stroke="#555" stroke-width="0.9"/>
<line x1="254.6" y1="255.0" x2="254.6" y2="253.0" stroke="#555" stroke-width="0.9"/>
<line x1="254.6" y1="172.8" x2="254.6" y2="174.8" stroke="#555" stroke-width="0.9"/>
<line x1="268.5" y1="255.0" x2="268.5" y2="252.0" stroke="#555" stroke-width="0.9"/>
<line x1="268.5" y1="172.8" x2="268.5" y2="175.8" stroke="#555" stroke-width="0.9"/>
<line x1="282.4" y1="255.0" x2="282.4" y2="253.0" stroke="#555" stroke-width="0.9"/>
<line x1="282.4" y1="172.8" x2="282.4" y2="174.8" stroke="#555" stroke-width="0.9"/>
<line x1="296.4" y1="255.0" x2="296.4" y2="252.0" stroke="#555" stroke-width="0.9"/>
<line x1="296.4" y1="172.8" x2="296.4" y2="175.8" stroke="#555" stroke-width="0.9"/>
<line x1="310.4" y1="255.0" x2="310.4" y2="253.0" stroke="#555" stroke-width="0.9"/>
<line x1="310.4" y1="172.8" x2="310.4" y2="174.8" stroke="#555" stroke-width="0.9"/>
<rect x="233.6" y="172.8" width="90.7" height="82.2" fill="none" stroke="#8a8a8a" stroke-width="1"/>
<text x="266.0" y="185.7" class="t">IGSO &#160;C13</text>
<line x1="335.8" y1="249.2" x2="424.8" y2="249.2" stroke="#b4b4b4" stroke-width="0.8" stroke-dasharray="0.8 1.7"/>
<line x1="335.8" y1="240.4" x2="424.8" y2="240.4" stroke="#b4b4b4" stroke-width="0.8" stroke-dasharray="0.8 1.7"/>
<line x1="335.8" y1="231.5" x2="424.8" y2="231.5" stroke="#b4b4b4" stroke-width="0.8" stroke-dasharray="0.8 1.7"/>
<line x1="335.8" y1="222.7" x2="424.8" y2="222.7" stroke="#b4b4b4" stroke-width="0.8" stroke-dasharray="0.8 1.7"/>
<line x1="335.8" y1="213.8" x2="424.8" y2="213.8" stroke="#b4b4b4" stroke-width="0.8" stroke-dasharray="0.8 1.7"/>
<line x1="335.8" y1="205.0" x2="424.8" y2="205.0" stroke="#b4b4b4" stroke-width="0.8" stroke-dasharray="0.8 1.7"/>
<line x1="335.8" y1="196.1" x2="424.8" y2="196.1" stroke="#b4b4b4" stroke-width="0.8" stroke-dasharray="0.8 1.7"/>
<line x1="335.8" y1="187.2" x2="424.8" y2="187.2" stroke="#b4b4b4" stroke-width="0.8" stroke-dasharray="0.8 1.7"/>
<line x1="335.8" y1="178.4" x2="424.8" y2="178.4" stroke="#b4b4b4" stroke-width="0.8" stroke-dasharray="0.8 1.7"/>
<path d="M341.08,209.57 L341.08,209.70 L342.08,209.70 L342.08,209.13 L343.08,209.13 L343.08,208.64 L344.08,208.64 L344.08,208.06 L345.08,208.06 L345.08,209.10 L346.08,209.10 L346.08,208.15 L347.08,208.15 L347.08,209.19 L348.08,209.19 L348.08,208.31 L349.08,208.31 L349.08,209.52 L350.08,209.52 L350.08,208.27 L351.08,208.27 L351.08,208.98 L352.08,208.98 L352.08,209.27 L353.08,209.27 L353.08,208.67 L354.08,208.67 L354.08,207.41 L355.08,207.41 L355.08,209.28 L356.08,209.28 L356.08,208.71 L357.08,208.71 L357.08,209.00 L358.08,209.00 L358.08,207.55 L359.08,207.55 L359.08,207.59 L360.08,207.59 L360.08,209.16 L361.08,209.16 L361.08,208.46 L362.08,208.46 L362.08,207.75 L363.08,207.75 L363.08,207.89 L364.08,207.89 L364.08,206.83 L365.08,206.83 L365.08,202.06 L366.08,202.06 L366.08,206.33 L367.08,206.33 L367.08,208.39 L368.08,208.39 L368.08,208.50 L369.08,208.50 L369.08,207.21 L370.08,207.21 L370.08,199.89 L371.08,199.89 L371.08,200.09 L372.08,200.09 L372.08,208.68 L373.08,208.68 L373.08,207.88 L374.08,207.88 L374.08,208.95 L375.08,208.95 L375.08,208.40 L376.08,208.40 L376.08,208.64 L377.08,208.64 L377.08,206.45 L378.08,206.45 L378.08,207.08 L379.08,207.08 L379.08,203.96 L380.08,203.96 L380.08,205.38 L381.08,205.38 L381.08,207.57 L382.08,207.57 L382.08,208.15 L383.08,208.15 L383.08,208.37 L384.08,208.37 L384.08,207.64 L385.08,207.64 L385.08,209.56 L386.08,209.56 L386.08,207.77 L387.08,207.77 L387.08,207.47 L388.08,207.47 L388.08,207.25 L389.08,207.25 L389.08,208.04 L390.08,208.04 L390.08,209.56 L391.08,209.56 L391.08,208.29 L392.08,208.29 L392.08,207.88 L393.08,207.88 L393.08,208.46 L394.08,208.46 L394.08,206.75 L395.08,206.75 L395.08,206.83 L396.08,206.83 L396.08,208.57 L397.08,208.57 L397.08,208.84 L398.08,208.84 L398.08,208.44 L399.08,208.44 L399.08,208.85 L400.08,208.85 L400.08,207.95 L401.08,207.95 L401.08,209.02 L402.08,209.02 L402.08,207.55 L403.08,207.55 L403.08,203.77 L404.08,203.77 L404.08,203.72 L405.08,203.72 L405.08,206.51 L406.08,206.51 L406.08,208.41 L407.08,208.41 L407.08,208.45 L408.08,208.45 L408.08,208.43 L409.08,208.43 L409.08,208.82 L410.08,208.82 L410.08,208.08 L411.08,208.08 L411.08,209.29 L412.08,209.29 L412.08,210.08 L413.08,210.08 L413.08,208.85 L414.08,208.85 L414.08,209.54 L415.08,209.54 L415.08,209.66 L416.08,209.66 L416.08,208.19 L417.08,208.19 L417.08,209.74 L418.08,209.74 L418.08,210.49 L419.08,210.49 L419.08,210.69 L419.38,210.69 L419.38,211.21 L419.38,216.10 L419.38,216.03 L419.08,216.03 L419.08,218.11 L418.08,218.11 L418.08,218.98 L417.08,218.98 L417.08,219.76 L416.08,219.76 L416.08,220.13 L415.08,220.13 L415.08,219.74 L414.08,219.74 L414.08,219.83 L413.08,219.83 L413.08,219.31 L412.08,219.31 L412.08,220.34 L411.08,220.34 L411.08,219.88 L410.08,219.88 L410.08,220.16 L409.08,220.16 L409.08,220.76 L408.08,220.76 L408.08,219.67 L407.08,219.67 L407.08,218.82 L406.08,218.82 L406.08,219.63 L405.08,219.63 L405.08,220.69 L404.08,220.69 L404.08,223.25 L403.08,223.25 L403.08,225.68 L402.08,225.68 L402.08,224.37 L401.08,224.37 L401.08,220.22 L400.08,220.22 L400.08,219.77 L399.08,219.77 L399.08,220.04 L398.08,220.04 L398.08,219.41 L397.08,219.41 L397.08,219.29 L396.08,219.29 L396.08,220.13 L395.08,220.13 L395.08,220.52 L394.08,220.52 L394.08,219.81 L393.08,219.81 L393.08,219.36 L392.08,219.36 L392.08,220.03 L391.08,220.03 L391.08,219.10 L390.08,219.10 L390.08,219.56 L389.08,219.56 L389.08,220.77 L388.08,220.77 L388.08,219.23 L387.08,219.23 L387.08,219.90 L386.08,219.90 L386.08,219.50 L385.08,219.50 L385.08,219.74 L384.08,219.74 L384.08,220.57 L383.08,220.57 L383.08,220.44 L382.08,220.44 L382.08,221.78 L381.08,221.78 L381.08,231.14 L380.08,231.14 L380.08,226.55 L379.08,226.55 L379.08,222.88 L378.08,222.88 L378.08,220.17 L377.08,220.17 L377.08,220.75 L376.08,220.75 L376.08,220.25 L375.08,220.25 L375.08,220.36 L374.08,220.36 L374.08,220.51 L373.08,220.51 L373.08,221.61 L372.08,221.61 L372.08,231.33 L371.08,231.33 L371.08,231.72 L370.08,231.72 L370.08,225.71 L369.08,225.71 L369.08,219.33 L368.08,219.33 L368.08,220.80 L367.08,220.80 L367.08,236.52 L366.08,236.52 L366.08,235.79 L365.08,235.79 L365.08,225.22 L364.08,225.22 L364.08,220.21 L363.08,220.21 L363.08,220.18 L362.08,220.18 L362.08,219.26 L361.08,219.26 L361.08,219.31 L360.08,219.31 L360.08,221.18 L359.08,221.18 L359.08,221.72 L358.08,221.72 L358.08,221.66 L357.08,221.66 L357.08,219.29 L356.08,219.29 L356.08,220.37 L355.08,220.37 L355.08,220.17 L354.08,220.17 L354.08,220.87 L353.08,220.87 L353.08,220.42 L352.08,220.42 L352.08,220.38 L351.08,220.38 L351.08,219.78 L350.08,219.78 L350.08,220.08 L349.08,220.08 L349.08,220.39 L348.08,220.39 L348.08,220.25 L347.08,220.25 L347.08,220.63 L346.08,220.63 L346.08,220.46 L345.08,220.46 L345.08,219.44 L344.08,219.44 L344.08,220.20 L343.08,220.20 L343.08,220.38 L342.08,220.38 L342.08,218.26 L341.08,218.26 L341.08,216.91Z M341.08,210.27 L341.89,210.27 L341.89,209.46 L343.52,209.46 L343.52,209.95 L345.16,209.95 L345.16,209.46 L346.79,209.46 L346.79,208.97 L348.42,208.97 L348.42,209.95 L350.05,209.95 L350.05,209.46 L351.68,209.46 L351.68,208.97 L353.31,208.97 L353.31,209.46 L354.94,209.46 L354.94,208.97 L356.57,208.97 L356.57,209.46 L358.21,209.46 L358.21,208.64 L359.84,208.64 L359.84,208.97 L361.47,208.97 L361.47,209.46 L363.10,209.46 L363.10,208.97 L364.40,208.97 L364.40,208.64 L365.06,208.64 L365.06,203.75 L366.36,203.75 L366.36,203.75 L366.69,203.75 L366.69,208.64 L367.99,208.64 L367.99,209.46 L369.62,209.46 L369.62,208.64 L370.44,208.64 L370.44,200.16 L372.07,200.16 L372.07,200.16 L372.56,200.16 L372.56,208.64 L373.70,208.64 L373.70,208.97 L375.33,208.97 L375.33,209.46 L376.96,209.46 L376.96,208.64 L378.60,208.64 L378.60,207.01 L379.09,207.01 L379.09,203.75 L380.23,203.75 L380.23,203.75 L380.72,203.75 L380.72,207.01 L381.86,207.01 L381.86,208.64 L383.49,208.64 L383.49,208.97 L385.12,208.97 L385.12,209.46 L386.75,209.46 L386.75,208.97 L388.38,208.97 L388.38,208.64 L390.01,208.64 L390.01,209.46 L391.65,209.46 L391.65,209.95 L393.28,209.95 L393.28,208.97 L394.91,208.97 L394.91,207.83 L395.72,207.83 L395.72,208.64 L397.35,208.64 L397.35,209.46 L398.99,209.46 L398.99,208.97 L400.62,208.97 L400.62,209.46 L402.25,209.46 L402.25,208.64 L403.55,208.64 L403.55,205.38 L405.18,205.38 L405.18,205.05 L405.84,205.05 L405.84,208.64 L407.14,208.64 L407.14,209.46 L408.77,209.46 L408.77,209.95 L410.40,209.95 L410.40,209.46 L412.04,209.46 L412.04,209.95 L413.67,209.95 L413.67,210.27 L415.30,210.27 L415.30,209.95 L416.93,209.95 L416.93,209.46 L418.56,209.46 L418.56,210.27 L419.38,210.27 L419.38,211.91 L419.38,215.40 L419.38,217.85 L418.56,217.85 L418.56,218.66 L416.93,218.66 L416.93,219.48 L415.30,219.48 L415.30,218.66 L413.67,218.66 L413.67,219.48 L412.04,219.48 L412.04,218.99 L410.40,218.99 L410.40,219.48 L408.77,219.48 L408.77,218.66 L407.14,218.66 L407.14,219.48 L405.51,219.48 L405.51,221.11 L403.88,221.11 L403.88,225.51 L403.06,225.51 L403.06,225.19 L401.76,225.19 L401.76,220.29 L400.62,220.29 L400.62,219.48 L398.99,219.48 L398.99,218.66 L397.35,218.66 L397.35,219.48 L395.72,219.48 L395.72,218.66 L394.09,218.66 L394.09,219.48 L392.46,219.48 L392.46,218.66 L390.83,218.66 L390.83,219.48 L389.20,219.48 L389.20,218.66 L387.57,218.66 L387.57,219.48 L385.94,219.48 L385.94,218.66 L384.30,218.66 L384.30,219.48 L382.67,219.48 L382.67,221.92 L381.37,221.92 L381.37,230.08 L381.04,230.08 L381.04,230.08 L379.90,230.08 L379.90,224.37 L379.41,224.37 L379.41,221.92 L378.60,221.92 L378.60,219.48 L376.96,219.48 L376.96,218.66 L375.33,218.66 L375.33,219.48 L373.70,219.48 L373.70,220.29 L372.07,220.29 L372.07,230.08 L371.74,230.08 L371.74,230.08 L370.11,230.08 L370.11,219.48 L368.81,219.48 L368.81,220.29 L367.18,220.29 L367.18,235.95 L366.85,235.95 L366.85,235.95 L365.06,235.95 L365.06,220.29 L364.40,220.29 L364.40,219.48 L363.10,219.48 L363.10,218.66 L361.47,218.66 L361.47,219.48 L359.84,219.48 L359.84,220.29 L358.21,220.29 L358.21,221.11 L357.39,221.11 L357.39,219.48 L356.57,219.48 L356.57,218.66 L354.94,218.66 L354.94,219.48 L353.31,219.48 L353.31,218.66 L351.68,218.66 L351.68,219.48 L350.05,219.48 L350.05,220.29 L348.42,220.29 L348.42,219.48 L346.79,219.48 L346.79,218.66 L345.16,218.66 L345.16,219.48 L343.52,219.48 L343.52,218.66 L341.89,218.66 L341.89,216.21 L341.08,216.21Z" fill="#0000ff" fill-rule="nonzero"/><rect x="352.70" y="180.90" width="1.60" height="1.60" fill="#0000ff"/><rect x="364.70" y="190.80" width="1.60" height="1.60" fill="#0000ff"/><rect x="364.70" y="196.50" width="1.60" height="1.60" fill="#0000ff"/><rect x="379.50" y="192.60" width="1.60" height="1.60" fill="#0000ff"/><rect x="379.50" y="195.20" width="1.60" height="1.60" fill="#0000ff"/><rect x="379.50" y="197.70" width="1.60" height="1.60" fill="#0000ff"/><rect x="379.50" y="200.20" width="1.60" height="1.60" fill="#0000ff"/><rect x="379.50" y="228.70" width="1.60" height="1.60" fill="#0000ff"/><rect x="379.50" y="231.20" width="1.60" height="1.60" fill="#0000ff"/><rect x="379.50" y="233.70" width="1.60" height="1.60" fill="#0000ff"/><rect x="379.50" y="236.20" width="1.60" height="1.60" fill="#0000ff"/>
<line x1="334.8" y1="249.2" x2="337.8" y2="249.2" stroke="#555" stroke-width="0.9"/>
<line x1="422.8" y1="249.2" x2="425.8" y2="249.2" stroke="#555" stroke-width="0.9"/>
<line x1="334.8" y1="240.4" x2="336.40000000000003" y2="240.4" stroke="#555" stroke-width="0.9"/>
<line x1="424.2" y1="240.4" x2="425.8" y2="240.4" stroke="#555" stroke-width="0.9"/>
<line x1="334.8" y1="231.5" x2="337.8" y2="231.5" stroke="#555" stroke-width="0.9"/>
<line x1="422.8" y1="231.5" x2="425.8" y2="231.5" stroke="#555" stroke-width="0.9"/>
<line x1="334.8" y1="222.7" x2="336.40000000000003" y2="222.7" stroke="#555" stroke-width="0.9"/>
<line x1="424.2" y1="222.7" x2="425.8" y2="222.7" stroke="#555" stroke-width="0.9"/>
<line x1="334.8" y1="213.8" x2="337.8" y2="213.8" stroke="#555" stroke-width="0.9"/>
<line x1="422.8" y1="213.8" x2="425.8" y2="213.8" stroke="#555" stroke-width="0.9"/>
<line x1="334.8" y1="205.0" x2="336.40000000000003" y2="205.0" stroke="#555" stroke-width="0.9"/>
<line x1="424.2" y1="205.0" x2="425.8" y2="205.0" stroke="#555" stroke-width="0.9"/>
<line x1="334.8" y1="196.1" x2="337.8" y2="196.1" stroke="#555" stroke-width="0.9"/>
<line x1="422.8" y1="196.1" x2="425.8" y2="196.1" stroke="#555" stroke-width="0.9"/>
<line x1="334.8" y1="187.2" x2="336.40000000000003" y2="187.2" stroke="#555" stroke-width="0.9"/>
<line x1="424.2" y1="187.2" x2="425.8" y2="187.2" stroke="#555" stroke-width="0.9"/>
<line x1="334.8" y1="178.4" x2="337.8" y2="178.4" stroke="#555" stroke-width="0.9"/>
<line x1="422.8" y1="178.4" x2="425.8" y2="178.4" stroke="#555" stroke-width="0.9"/>
<line x1="341.8" y1="255.0" x2="341.8" y2="252.0" stroke="#555" stroke-width="0.9"/>
<line x1="341.8" y1="172.8" x2="341.8" y2="175.8" stroke="#555" stroke-width="0.9"/>
<line x1="355.8" y1="255.0" x2="355.8" y2="253.0" stroke="#555" stroke-width="0.9"/>
<line x1="355.8" y1="172.8" x2="355.8" y2="174.8" stroke="#555" stroke-width="0.9"/>
<line x1="369.8" y1="255.0" x2="369.8" y2="252.0" stroke="#555" stroke-width="0.9"/>
<line x1="369.8" y1="172.8" x2="369.8" y2="175.8" stroke="#555" stroke-width="0.9"/>
<line x1="383.8" y1="255.0" x2="383.8" y2="253.0" stroke="#555" stroke-width="0.9"/>
<line x1="383.8" y1="172.8" x2="383.8" y2="174.8" stroke="#555" stroke-width="0.9"/>
<line x1="397.8" y1="255.0" x2="397.8" y2="252.0" stroke="#555" stroke-width="0.9"/>
<line x1="397.8" y1="172.8" x2="397.8" y2="175.8" stroke="#555" stroke-width="0.9"/>
<line x1="411.8" y1="255.0" x2="411.8" y2="253.0" stroke="#555" stroke-width="0.9"/>
<line x1="411.8" y1="172.8" x2="411.8" y2="174.8" stroke="#555" stroke-width="0.9"/>
<rect x="334.8" y="172.8" width="91.0" height="82.2" fill="none" stroke="#8a8a8a" stroke-width="1"/>
<text x="369.7" y="185.7" class="t">MEO &#160;C14</text>
<line x1="437.5" y1="249.2" x2="525.8" y2="249.2" stroke="#b4b4b4" stroke-width="0.8" stroke-dasharray="0.8 1.7"/>
<line x1="437.5" y1="240.4" x2="525.8" y2="240.4" stroke="#b4b4b4" stroke-width="0.8" stroke-dasharray="0.8 1.7"/>
<line x1="437.5" y1="231.5" x2="525.8" y2="231.5" stroke="#b4b4b4" stroke-width="0.8" stroke-dasharray="0.8 1.7"/>
<line x1="437.5" y1="222.7" x2="525.8" y2="222.7" stroke="#b4b4b4" stroke-width="0.8" stroke-dasharray="0.8 1.7"/>
<line x1="437.5" y1="213.8" x2="525.8" y2="213.8" stroke="#b4b4b4" stroke-width="0.8" stroke-dasharray="0.8 1.7"/>
<line x1="437.5" y1="205.0" x2="525.8" y2="205.0" stroke="#b4b4b4" stroke-width="0.8" stroke-dasharray="0.8 1.7"/>
<line x1="437.5" y1="196.1" x2="525.8" y2="196.1" stroke="#b4b4b4" stroke-width="0.8" stroke-dasharray="0.8 1.7"/>
<line x1="437.5" y1="187.2" x2="525.8" y2="187.2" stroke="#b4b4b4" stroke-width="0.8" stroke-dasharray="0.8 1.7"/>
<line x1="437.5" y1="178.4" x2="525.8" y2="178.4" stroke="#b4b4b4" stroke-width="0.8" stroke-dasharray="0.8 1.7"/>
<path d="M442.08,208.84 L442.08,206.78 L443.08,206.78 L443.08,205.99 L444.08,205.99 L444.08,205.88 L445.08,205.88 L445.08,207.85 L446.08,207.85 L446.08,207.44 L447.08,207.44 L447.08,208.03 L448.08,208.03 L448.08,209.55 L449.08,209.55 L449.08,206.92 L450.08,206.92 L450.08,208.01 L451.08,208.01 L451.08,209.22 L452.08,209.22 L452.08,209.58 L453.08,209.58 L453.08,211.36 L454.08,211.36 L454.08,209.38 L455.08,209.38 L455.08,210.83 L456.08,210.83 L456.08,209.66 L457.08,209.66 L457.08,209.27 L458.08,209.27 L458.08,210.58 L459.08,210.58 L459.08,209.35 L460.08,209.35 L460.08,208.09 L461.08,208.09 L461.08,208.24 L462.08,208.24 L462.08,208.01 L463.08,208.01 L463.08,209.45 L464.08,209.45 L464.08,208.70 L465.08,208.70 L465.08,208.77 L466.08,208.77 L466.08,209.77 L467.08,209.77 L467.08,209.83 L468.08,209.83 L468.08,209.16 L469.08,209.16 L469.08,210.03 L470.08,210.03 L470.08,210.17 L471.08,210.17 L471.08,210.79 L472.08,210.79 L472.08,210.47 L473.08,210.47 L473.08,210.69 L474.08,210.69 L474.08,210.33 L475.08,210.33 L475.08,209.07 L476.08,209.07 L476.08,208.84 L477.08,208.84 L477.08,208.94 L478.08,208.94 L478.08,209.97 L479.08,209.97 L479.08,210.10 L480.08,210.10 L480.08,210.83 L481.08,210.83 L481.08,210.26 L482.08,210.26 L482.08,210.64 L483.08,210.64 L483.08,209.37 L484.08,209.37 L484.08,210.61 L485.08,210.61 L485.08,208.66 L486.08,208.66 L486.08,210.18 L487.08,210.18 L487.08,210.02 L488.08,210.02 L488.08,210.14 L489.08,210.14 L489.08,211.27 L490.08,211.27 L490.08,210.69 L491.08,210.69 L491.08,210.58 L492.08,210.58 L492.08,211.21 L493.08,211.21 L493.08,211.24 L494.08,211.24 L494.08,210.91 L495.08,210.91 L495.08,210.36 L496.08,210.36 L496.08,210.10 L497.08,210.10 L497.08,209.80 L498.08,209.80 L498.08,209.96 L499.08,209.96 L499.08,208.47 L500.08,208.47 L500.08,207.31 L501.08,207.31 L501.08,207.87 L502.08,207.87 L502.08,208.32 L503.08,208.32 L503.08,207.54 L504.08,207.54 L504.08,207.27 L505.08,207.27 L505.08,206.39 L506.08,206.39 L506.08,206.90 L507.08,206.90 L507.08,208.16 L508.08,208.16 L508.08,208.64 L509.08,208.64 L509.08,209.57 L510.08,209.57 L510.08,209.75 L511.08,209.75 L511.08,210.12 L512.08,210.12 L512.08,209.92 L513.08,209.92 L513.08,209.24 L514.08,209.24 L514.08,211.13 L515.08,211.13 L515.08,210.16 L516.08,210.16 L516.08,211.70 L517.08,211.70 L517.08,211.73 L518.08,211.73 L518.08,211.47 L519.08,211.47 L519.08,210.40 L519.89,210.40 L519.89,211.28 L519.89,216.18 L519.89,216.07 L519.08,216.07 L519.08,216.97 L518.08,216.97 L518.08,217.05 L517.08,217.05 L517.08,217.41 L516.08,217.41 L516.08,218.75 L515.08,218.75 L515.08,217.60 L514.08,217.60 L514.08,217.69 L513.08,217.69 L513.08,217.23 L512.08,217.23 L512.08,217.72 L511.08,217.72 L511.08,217.32 L510.08,217.32 L510.08,217.02 L509.08,217.02 L509.08,218.26 L508.08,218.26 L508.08,218.39 L507.08,218.39 L507.08,218.76 L506.08,218.76 L506.08,217.48 L505.08,217.48 L505.08,217.37 L504.08,217.37 L504.08,219.35 L503.08,219.35 L503.08,219.63 L502.08,219.63 L502.08,221.91 L501.08,221.91 L501.08,221.23 L500.08,221.23 L500.08,218.42 L499.08,218.42 L499.08,218.36 L498.08,218.36 L498.08,218.41 L497.08,218.41 L497.08,216.77 L496.08,216.77 L496.08,217.77 L495.08,217.77 L495.08,217.91 L494.08,217.91 L494.08,216.72 L493.08,216.72 L493.08,216.52 L492.08,216.52 L492.08,217.05 L491.08,217.05 L491.08,217.27 L490.08,217.27 L490.08,217.09 L489.08,217.09 L489.08,217.12 L488.08,217.12 L488.08,217.35 L487.08,217.35 L487.08,218.20 L486.08,218.20 L486.08,218.71 L485.08,218.71 L485.08,218.81 L484.08,218.81 L484.08,219.10 L483.08,219.10 L483.08,220.51 L482.08,220.51 L482.08,220.35 L481.08,220.35 L481.08,223.13 L480.08,223.13 L480.08,224.35 L479.08,224.35 L479.08,223.41 L478.08,223.41 L478.08,220.84 L477.08,220.84 L477.08,219.13 L476.08,219.13 L476.08,219.32 L475.08,219.32 L475.08,217.81 L474.08,217.81 L474.08,216.93 L473.08,216.93 L473.08,217.89 L472.08,217.89 L472.08,216.94 L471.08,216.94 L471.08,216.72 L470.08,216.72 L470.08,217.08 L469.08,217.08 L469.08,218.54 L468.08,218.54 L468.08,219.17 L467.08,219.17 L467.08,219.56 L466.08,219.56 L466.08,218.88 L465.08,218.88 L465.08,218.00 L464.08,218.00 L464.08,217.65 L463.08,217.65 L463.08,216.65 L462.08,216.65 L462.08,217.08 L461.08,217.08 L461.08,217.88 L460.08,217.88 L460.08,218.48 L459.08,218.48 L459.08,216.79 L458.08,216.79 L458.08,217.59 L457.08,217.59 L457.08,217.61 L456.08,217.61 L456.08,218.18 L455.08,218.18 L455.08,218.72 L454.08,218.72 L454.08,217.88 L453.08,217.88 L453.08,218.30 L452.08,218.30 L452.08,219.48 L451.08,219.48 L451.08,218.06 L450.08,218.06 L450.08,218.68 L449.08,218.68 L449.08,219.50 L448.08,219.50 L448.08,220.08 L447.08,220.08 L447.08,219.28 L446.08,219.28 L446.08,218.30 L445.08,218.30 L445.08,219.55 L444.08,219.55 L444.08,220.73 L443.08,220.73 L443.08,217.53 L442.08,217.53 L442.08,216.18Z M442.08,209.54 L442.89,209.54 L442.89,207.09 L444.20,207.09 L444.20,206.27 L445.34,206.27 L445.34,207.91 L446.16,207.91 L446.16,209.54 L446.97,209.54 L446.97,208.72 L448.60,208.72 L448.60,209.54 L449.74,209.54 L449.74,207.91 L450.72,207.91 L450.72,208.72 L451.87,208.72 L451.87,210.35 L453.50,210.35 L453.50,211.17 L454.31,211.17 L454.31,210.35 L455.94,210.35 L455.94,211.17 L457.57,211.17 L457.57,210.84 L459.21,210.84 L459.21,210.35 L460.84,210.35 L460.84,209.54 L462.47,209.54 L462.47,208.72 L463.28,208.72 L463.28,209.54 L464.91,209.54 L464.91,210.35 L466.55,210.35 L466.55,209.54 L468.18,209.54 L468.18,210.35 L469.81,210.35 L469.81,211.17 L471.44,211.17 L471.44,211.17 L473.07,211.17 L473.07,210.84 L474.70,210.84 L474.70,210.35 L476.33,210.35 L476.33,209.21 L477.15,209.21 L477.15,208.72 L478.78,208.72 L478.78,210.35 L480.09,210.35 L480.09,211.17 L482.04,211.17 L482.04,210.35 L483.67,210.35 L483.67,210.84 L485.30,210.84 L485.30,210.35 L486.94,210.35 L486.94,210.35 L488.57,210.35 L488.57,210.84 L490.20,210.84 L490.20,211.17 L491.83,211.17 L491.83,211.49 L493.46,211.49 L493.46,211.17 L495.09,211.17 L495.09,211.49 L496.72,211.49 L496.72,210.84 L498.35,210.84 L498.35,210.35 L499.66,210.35 L499.66,209.54 L500.80,209.54 L500.80,207.91 L501.94,207.91 L501.94,208.72 L502.92,208.72 L502.92,209.54 L504.06,209.54 L504.06,207.91 L505.70,207.91 L505.70,206.27 L507.33,206.27 L507.33,208.72 L508.96,208.72 L508.96,210.35 L510.59,210.35 L510.59,211.17 L512.22,211.17 L512.22,210.35 L513.85,210.35 L513.85,210.84 L515.48,210.84 L515.48,211.17 L517.11,211.17 L517.11,211.98 L518.74,211.98 L518.74,211.17 L519.89,211.17 L519.89,211.98 L519.89,215.48 L519.89,217.11 L518.74,217.11 L518.74,216.29 L517.11,216.29 L517.11,217.11 L515.48,217.11 L515.48,216.62 L513.85,216.62 L513.85,217.11 L512.22,217.11 L512.22,216.62 L510.59,216.62 L510.59,217.11 L508.96,217.11 L508.96,217.60 L507.33,217.60 L507.33,217.11 L505.70,217.11 L505.70,217.92 L504.06,217.92 L504.06,218.74 L502.92,218.74 L502.92,220.37 L501.94,220.37 L501.94,221.19 L500.80,221.19 L500.80,218.74 L499.66,218.74 L499.66,217.11 L498.35,217.11 L498.35,216.29 L496.72,216.29 L496.72,217.11 L495.09,217.11 L495.09,216.62 L493.46,216.62 L493.46,216.29 L491.83,216.29 L491.83,216.62 L490.20,216.62 L490.20,217.11 L488.57,217.11 L488.57,216.62 L486.94,216.62 L486.94,217.11 L485.30,217.11 L485.30,217.92 L483.67,217.92 L483.67,219.56 L482.04,219.56 L482.04,222.00 L480.74,222.00 L480.74,223.63 L480.09,223.63 L480.09,222.00 L478.78,222.00 L478.78,220.37 L477.48,220.37 L477.48,218.74 L476.33,218.74 L476.33,217.11 L474.70,217.11 L474.70,216.29 L473.07,216.29 L473.07,215.97 L471.44,215.97 L471.44,216.29 L469.81,216.29 L469.81,217.11 L468.18,217.11 L468.18,218.74 L466.55,218.74 L466.55,217.60 L464.91,217.60 L464.91,217.11 L463.28,217.11 L463.28,216.29 L461.65,216.29 L461.65,217.11 L460.02,217.11 L460.02,216.29 L458.39,216.29 L458.39,217.11 L456.76,217.11 L456.76,217.92 L455.13,217.92 L455.13,217.11 L453.50,217.11 L453.50,217.92 L451.87,217.92 L451.87,217.11 L450.23,217.11 L450.23,217.92 L448.60,217.92 L448.60,219.56 L447.46,219.56 L447.46,217.92 L446.16,217.92 L446.16,218.74 L445.34,218.74 L445.34,220.37 L444.20,220.37 L444.20,217.92 L442.89,217.92 L442.89,215.48 L442.08,215.48Z" fill="#0000ff" fill-rule="nonzero"/><rect x="447.00" y="199.00" width="1.10" height="26.20" fill="#0000ff"/><rect x="454.30" y="189.30" width="1.70" height="40.70" fill="#0000ff"/><rect x="466.50" y="197.40" width="1.20" height="32.60" fill="#0000ff"/><rect x="480.00" y="189.30" width="1.70" height="40.70" fill="#0000ff"/><rect x="500.30" y="201.50" width="1.30" height="27.70" fill="#0000ff"/><rect x="504.60" y="189.30" width="1.90" height="40.70" fill="#0000ff"/><rect x="518.00" y="201.50" width="1.50" height="36.50" fill="#0000ff"/><rect x="451.20" y="180.90" width="1.60" height="1.60" fill="#0000ff"/><rect x="471.50" y="189.70" width="1.60" height="1.60" fill="#0000ff"/><rect x="471.50" y="192.20" width="1.60" height="1.60" fill="#0000ff"/><rect x="471.50" y="194.70" width="1.60" height="1.60" fill="#0000ff"/><rect x="471.50" y="197.20" width="1.60" height="1.60" fill="#0000ff"/><rect x="518.20" y="195.00" width="1.60" height="1.60" fill="#0000ff"/><rect x="466.20" y="231.70" width="1.60" height="1.60" fill="#0000ff"/><rect x="466.20" y="234.20" width="1.60" height="1.60" fill="#0000ff"/><rect x="500.20" y="230.70" width="1.60" height="1.60" fill="#0000ff"/><rect x="500.20" y="233.20" width="1.60" height="1.60" fill="#0000ff"/>
<line x1="436.5" y1="249.2" x2="439.5" y2="249.2" stroke="#555" stroke-width="0.9"/>
<line x1="523.8" y1="249.2" x2="526.8" y2="249.2" stroke="#555" stroke-width="0.9"/>
<line x1="436.5" y1="240.4" x2="438.1" y2="240.4" stroke="#555" stroke-width="0.9"/>
<line x1="525.1999999999999" y1="240.4" x2="526.8" y2="240.4" stroke="#555" stroke-width="0.9"/>
<line x1="436.5" y1="231.5" x2="439.5" y2="231.5" stroke="#555" stroke-width="0.9"/>
<line x1="523.8" y1="231.5" x2="526.8" y2="231.5" stroke="#555" stroke-width="0.9"/>
<line x1="436.5" y1="222.7" x2="438.1" y2="222.7" stroke="#555" stroke-width="0.9"/>
<line x1="525.1999999999999" y1="222.7" x2="526.8" y2="222.7" stroke="#555" stroke-width="0.9"/>
<line x1="436.5" y1="213.8" x2="439.5" y2="213.8" stroke="#555" stroke-width="0.9"/>
<line x1="523.8" y1="213.8" x2="526.8" y2="213.8" stroke="#555" stroke-width="0.9"/>
<line x1="436.5" y1="205.0" x2="438.1" y2="205.0" stroke="#555" stroke-width="0.9"/>
<line x1="525.1999999999999" y1="205.0" x2="526.8" y2="205.0" stroke="#555" stroke-width="0.9"/>
<line x1="436.5" y1="196.1" x2="439.5" y2="196.1" stroke="#555" stroke-width="0.9"/>
<line x1="523.8" y1="196.1" x2="526.8" y2="196.1" stroke="#555" stroke-width="0.9"/>
<line x1="436.5" y1="187.2" x2="438.1" y2="187.2" stroke="#555" stroke-width="0.9"/>
<line x1="525.1999999999999" y1="187.2" x2="526.8" y2="187.2" stroke="#555" stroke-width="0.9"/>
<line x1="436.5" y1="178.4" x2="439.5" y2="178.4" stroke="#555" stroke-width="0.9"/>
<line x1="523.8" y1="178.4" x2="526.8" y2="178.4" stroke="#555" stroke-width="0.9"/>
<line x1="443.5" y1="255.0" x2="443.5" y2="252.0" stroke="#555" stroke-width="0.9"/>
<line x1="443.5" y1="172.8" x2="443.5" y2="175.8" stroke="#555" stroke-width="0.9"/>
<line x1="457.4" y1="255.0" x2="457.4" y2="253.0" stroke="#555" stroke-width="0.9"/>
<line x1="457.4" y1="172.8" x2="457.4" y2="174.8" stroke="#555" stroke-width="0.9"/>
<line x1="471.3" y1="255.0" x2="471.3" y2="252.0" stroke="#555" stroke-width="0.9"/>
<line x1="471.3" y1="172.8" x2="471.3" y2="175.8" stroke="#555" stroke-width="0.9"/>
<line x1="485.1" y1="255.0" x2="485.1" y2="253.0" stroke="#555" stroke-width="0.9"/>
<line x1="485.1" y1="172.8" x2="485.1" y2="174.8" stroke="#555" stroke-width="0.9"/>
<line x1="499.0" y1="255.0" x2="499.0" y2="252.0" stroke="#555" stroke-width="0.9"/>
<line x1="499.0" y1="172.8" x2="499.0" y2="175.8" stroke="#555" stroke-width="0.9"/>
<line x1="512.9" y1="255.0" x2="512.9" y2="253.0" stroke="#555" stroke-width="0.9"/>
<line x1="512.9" y1="172.8" x2="512.9" y2="174.8" stroke="#555" stroke-width="0.9"/>
<rect x="436.5" y="172.8" width="90.3" height="82.2" fill="none" stroke="#8a8a8a" stroke-width="1"/>
<text x="469.0" y="185.7" class="t">IGSO &#160;C16</text>
<text x="26" y="182.1" text-anchor="end" class="n">6</text>
<text x="26" y="199.8" text-anchor="end" class="n">3</text>
<text x="26" y="217.5" text-anchor="end" class="n">0</text>
<text x="26" y="235.2" text-anchor="end" class="n">-3</text>
<text x="26" y="252.9" text-anchor="end" class="n">-6</text>
<text transform="translate(12.3 216.3) rotate(-90)" text-anchor="middle" class="n">Residual (ns)</text>
<text x="32.9" y="268.2" text-anchor="middle" class="n">0</text>
<text x="60.8" y="268.2" text-anchor="middle" class="n">200</text>
<text x="88.8" y="268.2" text-anchor="middle" class="n">400</text>
<text x="116.8" y="268.2" text-anchor="middle" class="n">600</text>
<text x="73.5" y="279.5" text-anchor="middle" class="n">DAY</text>
<text x="134.2" y="268.2" text-anchor="middle" class="n">0</text>
<text x="162.1" y="268.2" text-anchor="middle" class="n">200</text>
<text x="190.1" y="268.2" text-anchor="middle" class="n">400</text>
<text x="218.0" y="268.2" text-anchor="middle" class="n">600</text>
<text x="174.8" y="279.5" text-anchor="middle" class="n">DAY</text>
<text x="235.7" y="268.2" text-anchor="middle" class="n">0</text>
<text x="263.7" y="268.2" text-anchor="middle" class="n">200</text>
<text x="291.6" y="268.2" text-anchor="middle" class="n">400</text>
<text x="319.6" y="268.2" text-anchor="middle" class="n">600</text>
<text x="276.3" y="279.5" text-anchor="middle" class="n">DAY</text>
<text x="337.0" y="268.2" text-anchor="middle" class="n">0</text>
<text x="364.9" y="268.2" text-anchor="middle" class="n">200</text>
<text x="392.9" y="268.2" text-anchor="middle" class="n">400</text>
<text x="420.9" y="268.2" text-anchor="middle" class="n">600</text>
<text x="377.6" y="279.5" text-anchor="middle" class="n">DAY</text>
<text x="437.8" y="268.2" text-anchor="middle" class="n">0</text>
<text x="465.7" y="268.2" text-anchor="middle" class="n">200</text>
<text x="493.7" y="268.2" text-anchor="middle" class="n">400</text>
<text x="521.6" y="268.2" text-anchor="middle" class="n">600</text>
<text x="478.4" y="279.5" text-anchor="middle" class="n">DAY</text>
</svg>
</body></html>
